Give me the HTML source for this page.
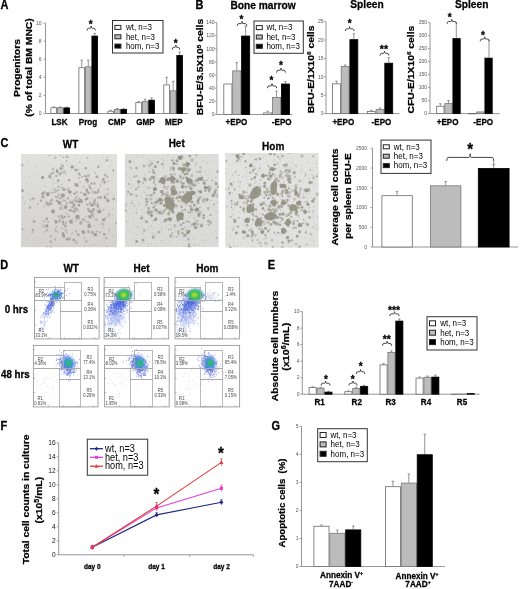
<!DOCTYPE html>
<html><head><meta charset="utf-8"><title>Figure</title>
<style>
html,body{margin:0;padding:0;background:#fff;}
body{width:520px;height:589px;overflow:hidden;}
svg{display:block;filter:blur(0.3px);}
text{font-family:"Liberation Sans",Arial,sans-serif;}
</style></head>
<body>
<svg width="520" height="589" viewBox="0 0 520 589">
<defs><filter id="fb8" x="-50%" y="-50%" width="200%" height="200%"><feGaussianBlur stdDeviation="0.8"/></filter><filter id="fb10" x="-50%" y="-50%" width="200%" height="200%"><feGaussianBlur stdDeviation="1"/></filter><filter id="fb15" x="-50%" y="-50%" width="200%" height="200%"><feGaussianBlur stdDeviation="1.5"/></filter><filter id="fb20" x="-50%" y="-50%" width="200%" height="200%"><feGaussianBlur stdDeviation="2"/></filter><filter id="soft" x="-20%" y="-20%" width="140%" height="140%"><feGaussianBlur stdDeviation="0.45"/></filter></defs>
<rect width="520" height="589" fill="#fff"/>
<text x="0.5" y="9" font-size="11" font-weight="bold" stroke="#000" stroke-width="0.25" text-anchor="start" fill="#000" transform="translate(0.5 9) scale(1 1.11) translate(-0.5 -9)">A</text>
<line x1="45.5" y1="23.0" x2="45.5" y2="113.5" stroke="#8a8a8a" stroke-width="0.9"/>
<line x1="45.5" y1="113.5" x2="188" y2="113.5" stroke="#8a8a8a" stroke-width="0.9"/>
<line x1="43.5" y1="113.5" x2="45.5" y2="113.5" stroke="#8a8a8a" stroke-width="0.8"/>
<text x="41.5" y="115.3" font-size="5" text-anchor="end" fill="#555" transform="translate(41.5 115.3) scale(1 1.11) translate(-41.5 -115.3)">0</text>
<line x1="43.5" y1="95.4" x2="45.5" y2="95.4" stroke="#8a8a8a" stroke-width="0.8"/>
<text x="41.5" y="97.2" font-size="5" text-anchor="end" fill="#555" transform="translate(41.5 97.2) scale(1 1.11) translate(-41.5 -97.2)">2</text>
<line x1="43.5" y1="77.3" x2="45.5" y2="77.3" stroke="#8a8a8a" stroke-width="0.8"/>
<text x="41.5" y="79.1" font-size="5" text-anchor="end" fill="#555" transform="translate(41.5 79.1) scale(1 1.11) translate(-41.5 -79.1)">4</text>
<line x1="43.5" y1="59.199999999999996" x2="45.5" y2="59.199999999999996" stroke="#8a8a8a" stroke-width="0.8"/>
<text x="41.5" y="60.99999999999999" font-size="5" text-anchor="end" fill="#555" transform="translate(41.5 60.99999999999999) scale(1 1.11) translate(-41.5 -60.99999999999999)">6</text>
<line x1="43.5" y1="41.099999999999994" x2="45.5" y2="41.099999999999994" stroke="#8a8a8a" stroke-width="0.8"/>
<text x="41.5" y="42.89999999999999" font-size="5" text-anchor="end" fill="#555" transform="translate(41.5 42.89999999999999) scale(1 1.11) translate(-41.5 -42.89999999999999)">8</text>
<line x1="43.5" y1="23.0" x2="45.5" y2="23.0" stroke="#8a8a8a" stroke-width="0.8"/>
<text x="41.5" y="24.8" font-size="5" text-anchor="end" fill="#555" transform="translate(41.5 24.8) scale(1 1.11) translate(-41.5 -24.8)">10</text>
<line x1="53.75" y1="107.346" x2="53.75" y2="106.8935" stroke="#777" stroke-width="0.8"/>
<line x1="52.55" y1="106.8935" x2="54.95" y2="106.8935" stroke="#777" stroke-width="0.8"/>
<rect x="50.9" y="107.74600000000001" width="5.7" height="5.7540000000000004" fill="#ffffff" stroke="#6a6a6a" stroke-width="0.8"/>
<line x1="60.25" y1="107.346" x2="60.25" y2="106.8935" stroke="#777" stroke-width="0.8"/>
<line x1="59.05" y1="106.8935" x2="61.45" y2="106.8935" stroke="#777" stroke-width="0.8"/>
<rect x="57.4" y="107.74600000000001" width="5.7" height="5.7540000000000004" fill="#bcbcbc" stroke="#777" stroke-width="0.8"/>
<line x1="66.75" y1="107.527" x2="66.75" y2="107.165" stroke="#777" stroke-width="0.8"/>
<line x1="65.55" y1="107.165" x2="67.95" y2="107.165" stroke="#777" stroke-width="0.8"/>
<rect x="63.9" y="107.927" width="5.7" height="5.573" fill="#000000" stroke="#000" stroke-width="0.8"/>
<line x1="81.75" y1="67.345" x2="81.75" y2="60.105" stroke="#777" stroke-width="0.8"/>
<line x1="80.55" y1="60.105" x2="82.95" y2="60.105" stroke="#777" stroke-width="0.8"/>
<rect x="78.9" y="67.745" width="5.7" height="45.755" fill="#ffffff" stroke="#6a6a6a" stroke-width="0.8"/>
<line x1="88.25" y1="66.44" x2="88.25" y2="60.105" stroke="#777" stroke-width="0.8"/>
<line x1="87.05" y1="60.105" x2="89.45" y2="60.105" stroke="#777" stroke-width="0.8"/>
<rect x="85.4" y="66.84" width="5.7" height="46.660000000000004" fill="#bcbcbc" stroke="#777" stroke-width="0.8"/>
<line x1="94.75" y1="35.67" x2="94.75" y2="33.4075" stroke="#777" stroke-width="0.8"/>
<line x1="93.55" y1="33.4075" x2="95.95" y2="33.4075" stroke="#777" stroke-width="0.8"/>
<rect x="91.9" y="36.07" width="5.7" height="77.42999999999999" fill="#000000" stroke="#000" stroke-width="0.8"/>
<line x1="110.75" y1="110.785" x2="110.75" y2="110.3325" stroke="#777" stroke-width="0.8"/>
<line x1="109.55" y1="110.3325" x2="111.95" y2="110.3325" stroke="#777" stroke-width="0.8"/>
<rect x="107.9" y="111.185" width="5.7" height="2.3150000000000004" fill="#ffffff" stroke="#6a6a6a" stroke-width="0.8"/>
<line x1="117.25" y1="108.975" x2="117.25" y2="108.5225" stroke="#777" stroke-width="0.8"/>
<line x1="116.05" y1="108.5225" x2="118.45" y2="108.5225" stroke="#777" stroke-width="0.8"/>
<rect x="114.4" y="109.375" width="5.7" height="4.125" fill="#bcbcbc" stroke="#777" stroke-width="0.8"/>
<line x1="123.75" y1="108.975" x2="123.75" y2="108.70349999999999" stroke="#777" stroke-width="0.8"/>
<line x1="122.55" y1="108.70349999999999" x2="124.95" y2="108.70349999999999" stroke="#777" stroke-width="0.8"/>
<rect x="120.9" y="109.375" width="5.7" height="4.125" fill="#000000" stroke="#000" stroke-width="0.8"/>
<line x1="138.65" y1="102.27799999999999" x2="138.65" y2="101.55399999999999" stroke="#777" stroke-width="0.8"/>
<line x1="137.45000000000002" y1="101.55399999999999" x2="139.85" y2="101.55399999999999" stroke="#777" stroke-width="0.8"/>
<rect x="135.8" y="102.678" width="5.7" height="10.822000000000001" fill="#ffffff" stroke="#6a6a6a" stroke-width="0.8"/>
<line x1="145.15" y1="101.192" x2="145.15" y2="99.38199999999999" stroke="#777" stroke-width="0.8"/>
<line x1="143.95000000000002" y1="99.38199999999999" x2="146.35" y2="99.38199999999999" stroke="#777" stroke-width="0.8"/>
<rect x="142.3" y="101.592" width="5.7" height="11.908000000000001" fill="#bcbcbc" stroke="#777" stroke-width="0.8"/>
<line x1="151.65" y1="99.744" x2="151.65" y2="97.934" stroke="#777" stroke-width="0.8"/>
<line x1="150.45000000000002" y1="97.934" x2="152.85" y2="97.934" stroke="#777" stroke-width="0.8"/>
<rect x="148.8" y="100.144" width="5.7" height="13.356000000000002" fill="#000000" stroke="#000" stroke-width="0.8"/>
<line x1="166.65" y1="84.53999999999999" x2="166.65" y2="77.3" stroke="#777" stroke-width="0.8"/>
<line x1="165.45000000000002" y1="77.3" x2="167.85" y2="77.3" stroke="#777" stroke-width="0.8"/>
<rect x="163.8" y="84.94" width="5.7" height="28.560000000000006" fill="#ffffff" stroke="#6a6a6a" stroke-width="0.8"/>
<line x1="173.15" y1="90.4225" x2="173.15" y2="81.3725" stroke="#777" stroke-width="0.8"/>
<line x1="171.95000000000002" y1="81.3725" x2="174.35" y2="81.3725" stroke="#777" stroke-width="0.8"/>
<rect x="170.3" y="90.8225" width="5.7" height="22.677500000000002" fill="#bcbcbc" stroke="#777" stroke-width="0.8"/>
<line x1="179.65" y1="55.12749999999999" x2="179.65" y2="51.959999999999994" stroke="#777" stroke-width="0.8"/>
<line x1="178.45000000000002" y1="51.959999999999994" x2="180.85" y2="51.959999999999994" stroke="#777" stroke-width="0.8"/>
<rect x="176.8" y="55.52749999999999" width="5.7" height="57.97250000000001" fill="#000000" stroke="#000" stroke-width="0.8"/>
<path d="M87.1,30.5 Q87.1,28.2 88.7,28.2 L90.2,28.2 Q91.2,28.2 91.2,26.0 Q91.2,28.2 92.2,28.2 L93.7,28.2 Q95.3,28.2 95.3,30.5" fill="none" stroke="#3a3a3a" stroke-width="0.95"/>
<text x="90.6" y="28.5" font-size="10" font-weight="bold" stroke="#000" stroke-width="0.25" text-anchor="middle" fill="#000" transform="translate(90.6 28.5) scale(1 1.11) translate(-90.6 -28.5)">*</text>
<path d="M172.2,49.6 Q172.2,47.3 173.8,47.3 L174.9,47.3 Q175.9,47.3 175.9,45.1 Q175.9,47.3 176.9,47.3 L178.1,47.3 Q179.7,47.3 179.7,49.6" fill="none" stroke="#3a3a3a" stroke-width="0.95"/>
<text x="175.8" y="47.2" font-size="10" font-weight="bold" stroke="#000" stroke-width="0.25" text-anchor="middle" fill="#000" transform="translate(175.8 47.2) scale(1 1.11) translate(-175.8 -47.2)">*</text>
<text x="59.5" y="125" font-size="8.1" font-weight="bold" stroke="#000" stroke-width="0.25" text-anchor="middle" fill="#000" transform="translate(59.5 125) scale(1 1.11) translate(-59.5 -125)">LSK</text>
<text x="88" y="125" font-size="8.1" font-weight="bold" stroke="#000" stroke-width="0.25" text-anchor="middle" fill="#000" transform="translate(88 125) scale(1 1.11) translate(-88 -125)">Prog</text>
<text x="117" y="125" font-size="8.1" font-weight="bold" stroke="#000" stroke-width="0.25" text-anchor="middle" fill="#000" transform="translate(117 125) scale(1 1.11) translate(-117 -125)">CMP</text>
<text x="145.5" y="125" font-size="8.1" font-weight="bold" stroke="#000" stroke-width="0.25" text-anchor="middle" fill="#000" transform="translate(145.5 125) scale(1 1.11) translate(-145.5 -125)">GMP</text>
<text x="173.8" y="125" font-size="8.1" font-weight="bold" stroke="#000" stroke-width="0.25" text-anchor="middle" fill="#000" transform="translate(173.8 125) scale(1 1.11) translate(-173.8 -125)">MEP</text>
<text x="20" y="68" font-size="10.3" font-weight="bold" stroke="#000" stroke-width="0.25" text-anchor="middle" fill="#000" transform="translate(20 68) scale(0.9009 1) rotate(-90) translate(-20 -68)">Progenitors</text>
<text x="31.9" y="67.5" font-size="10.3" font-weight="bold" stroke="#000" stroke-width="0.25" text-anchor="middle" fill="#000" transform="translate(31.9 67.5) scale(0.9009 1) rotate(-90) translate(-31.9 -67.5)">(% of total BM MNC)</text>
<rect x="112.5" y="20.5" width="50.5" height="32.5" fill="#fff" stroke="#333" stroke-width="1"/>
<rect x="114.9" y="25.4" width="6" height="4" fill="#fff" stroke="#222" stroke-width="1"/>
<text x="125.9" y="30.279999999999998" font-size="8" text-anchor="start" fill="#000" transform="translate(125.9 30.279999999999998) scale(1 1.11) translate(-125.9 -30.279999999999998)">wt, n=3</text>
<rect x="114.9" y="34.8" width="6" height="4" fill="#bcbcbc" stroke="#222" stroke-width="1"/>
<text x="125.9" y="39.68" font-size="8" text-anchor="start" fill="#000" transform="translate(125.9 39.68) scale(1 1.11) translate(-125.9 -39.68)">het, n=3</text>
<rect x="114.9" y="44.1" width="6" height="4" fill="#000" stroke="#222" stroke-width="1"/>
<text x="125.9" y="48.980000000000004" font-size="8" text-anchor="start" fill="#000" transform="translate(125.9 48.980000000000004) scale(1 1.11) translate(-125.9 -48.980000000000004)">hom, n=3</text>
<text x="195.5" y="9" font-size="11" font-weight="bold" stroke="#000" stroke-width="0.25" text-anchor="start" fill="#000" transform="translate(195.5 9) scale(1 1.11) translate(-195.5 -9)">B</text>
<text x="230.5" y="9" font-size="10.2" font-weight="bold" stroke="#000" stroke-width="0.25" text-anchor="start" fill="#000" transform="translate(230.5 9) scale(1 1.11) translate(-230.5 -9)">Bone marrow</text>
<text x="350.3" y="8" font-size="10.2" font-weight="bold" stroke="#000" stroke-width="0.25" text-anchor="start" fill="#000" transform="translate(350.3 8) scale(1 1.11) translate(-350.3 -8)">Spleen</text>
<text x="455" y="8" font-size="10.2" font-weight="bold" stroke="#000" stroke-width="0.25" text-anchor="start" fill="#000" transform="translate(455 8) scale(1 1.11) translate(-455 -8)">Spleen</text>
<line x1="216.8" y1="22.5" x2="216.8" y2="114.5" stroke="#8a8a8a" stroke-width="0.9"/>
<line x1="216.8" y1="114.5" x2="292.4" y2="114.5" stroke="#8a8a8a" stroke-width="0.9"/>
<line x1="214.8" y1="114.5" x2="216.8" y2="114.5" stroke="#8a8a8a" stroke-width="0.8"/>
<text x="214.5" y="116.3" font-size="5" text-anchor="end" fill="#555" transform="translate(214.5 116.3) scale(1 1.11) translate(-214.5 -116.3)">0</text>
<line x1="214.8" y1="101.35714285714286" x2="216.8" y2="101.35714285714286" stroke="#8a8a8a" stroke-width="0.8"/>
<text x="214.5" y="103.15714285714286" font-size="5" text-anchor="end" fill="#555" transform="translate(214.5 103.15714285714286) scale(1 1.11) translate(-214.5 -103.15714285714286)">20</text>
<line x1="214.8" y1="88.21428571428572" x2="216.8" y2="88.21428571428572" stroke="#8a8a8a" stroke-width="0.8"/>
<text x="214.5" y="90.01428571428572" font-size="5" text-anchor="end" fill="#555" transform="translate(214.5 90.01428571428572) scale(1 1.11) translate(-214.5 -90.01428571428572)">40</text>
<line x1="214.8" y1="75.07142857142857" x2="216.8" y2="75.07142857142857" stroke="#8a8a8a" stroke-width="0.8"/>
<text x="214.5" y="76.87142857142857" font-size="5" text-anchor="end" fill="#555" transform="translate(214.5 76.87142857142857) scale(1 1.11) translate(-214.5 -76.87142857142857)">60</text>
<line x1="214.8" y1="61.92857142857143" x2="216.8" y2="61.92857142857143" stroke="#8a8a8a" stroke-width="0.8"/>
<text x="214.5" y="63.72857142857143" font-size="5" text-anchor="end" fill="#555" transform="translate(214.5 63.72857142857143) scale(1 1.11) translate(-214.5 -63.72857142857143)">80</text>
<line x1="214.8" y1="48.78571428571429" x2="216.8" y2="48.78571428571429" stroke="#8a8a8a" stroke-width="0.8"/>
<text x="214.5" y="50.58571428571429" font-size="5" text-anchor="end" fill="#555" transform="translate(214.5 50.58571428571429) scale(1 1.11) translate(-214.5 -50.58571428571429)">100</text>
<line x1="214.8" y1="35.64285714285714" x2="216.8" y2="35.64285714285714" stroke="#8a8a8a" stroke-width="0.8"/>
<text x="214.5" y="37.442857142857136" font-size="5" text-anchor="end" fill="#555" transform="translate(214.5 37.442857142857136) scale(1 1.11) translate(-214.5 -37.442857142857136)">120</text>
<line x1="214.8" y1="22.5" x2="216.8" y2="22.5" stroke="#8a8a8a" stroke-width="0.8"/>
<text x="214.5" y="24.3" font-size="5" text-anchor="end" fill="#555" transform="translate(214.5 24.3) scale(1 1.11) translate(-214.5 -24.3)">140</text>
<rect x="223.8" y="84.01428571428572" width="8.1" height="30.485714285714288" fill="#ffffff" stroke="#6a6a6a" stroke-width="0.8"/>
<line x1="236.75" y1="70.47142857142858" x2="236.75" y2="62.58571428571429" stroke="#777" stroke-width="0.8"/>
<line x1="235.55" y1="62.58571428571429" x2="237.95" y2="62.58571428571429" stroke="#777" stroke-width="0.8"/>
<rect x="232.70000000000002" y="70.87142857142858" width="8.1" height="43.628571428571426" fill="#bcbcbc" stroke="#777" stroke-width="0.8"/>
<line x1="245.65" y1="35.64285714285714" x2="245.65" y2="26.44285714285714" stroke="#777" stroke-width="0.8"/>
<line x1="244.45000000000002" y1="26.44285714285714" x2="246.85" y2="26.44285714285714" stroke="#777" stroke-width="0.8"/>
<rect x="241.60000000000002" y="36.04285714285714" width="8.1" height="78.45714285714286" fill="#000000" stroke="#000" stroke-width="0.8"/>
<line x1="267.65" y1="112.52857142857142" x2="267.65" y2="111.21428571428571" stroke="#777" stroke-width="0.8"/>
<line x1="266.45" y1="111.21428571428571" x2="268.84999999999997" y2="111.21428571428571" stroke="#777" stroke-width="0.8"/>
<rect x="263.59999999999997" y="112.92857142857143" width="8.1" height="1.5714285714285716" fill="#ffffff" stroke="#6a6a6a" stroke-width="0.8"/>
<line x1="276.54999999999995" y1="97.08571428571429" x2="276.54999999999995" y2="91.17142857142858" stroke="#777" stroke-width="0.8"/>
<line x1="275.34999999999997" y1="91.17142857142858" x2="277.74999999999994" y2="91.17142857142858" stroke="#777" stroke-width="0.8"/>
<rect x="272.49999999999994" y="97.4857142857143" width="8.1" height="17.014285714285716" fill="#bcbcbc" stroke="#777" stroke-width="0.8"/>
<line x1="285.45" y1="83.61428571428571" x2="285.45" y2="81.64285714285714" stroke="#777" stroke-width="0.8"/>
<line x1="284.25" y1="81.64285714285714" x2="286.65" y2="81.64285714285714" stroke="#777" stroke-width="0.8"/>
<rect x="281.4" y="84.01428571428572" width="8.1" height="30.485714285714288" fill="#000000" stroke="#000" stroke-width="0.8"/>
<path d="M237.2,25.9 Q237.2,23.6 238.8,23.6 L241.0,23.6 Q242.0,23.6 242.0,21.4 Q242.0,23.6 243.0,23.6 L245.2,23.6 Q246.8,23.6 246.8,25.9" fill="none" stroke="#3a3a3a" stroke-width="0.95"/>
<text x="241.4" y="22.6" font-size="10" font-weight="bold" stroke="#000" stroke-width="0.25" text-anchor="middle" fill="#000" transform="translate(241.4 22.6) scale(1 1.11) translate(-241.4 -22.6)">*</text>
<path d="M267.4,88.2 Q267.4,85.9 269.0,85.9 L271.0,85.9 Q272.0,85.9 272.0,83.7 Q272.0,85.9 273.0,85.9 L275.0,85.9 Q276.6,85.9 276.6,88.2" fill="none" stroke="#3a3a3a" stroke-width="0.95"/>
<text x="271.5" y="84.4" font-size="10" font-weight="bold" stroke="#000" stroke-width="0.25" text-anchor="middle" fill="#000" transform="translate(271.5 84.4) scale(1 1.11) translate(-271.5 -84.4)">*</text>
<path d="M276.6,72.6 Q276.6,70.3 278.2,70.3 L280.0,70.3 Q281.0,70.3 281.0,68.1 Q281.0,70.3 282.0,70.3 L283.8,70.3 Q285.4,70.3 285.4,72.6" fill="none" stroke="#3a3a3a" stroke-width="0.95"/>
<text x="281" y="69.0" font-size="10" font-weight="bold" stroke="#000" stroke-width="0.25" text-anchor="middle" fill="#000" transform="translate(281 69.0) scale(1 1.11) translate(-281 -69.0)">*</text>
<text x="236.5" y="125.5" font-size="8.1" font-weight="bold" stroke="#000" stroke-width="0.25" text-anchor="middle" fill="#000" transform="translate(236.5 125.5) scale(1 1.11) translate(-236.5 -125.5)">+EPO</text>
<text x="281.7" y="125.5" font-size="8.1" font-weight="bold" stroke="#000" stroke-width="0.25" text-anchor="middle" fill="#000" transform="translate(281.7 125.5) scale(1 1.11) translate(-281.7 -125.5)">-EPO</text>
<text x="203.3" y="67" font-size="10.3" font-weight="bold" stroke="#000" stroke-width="0.25" text-anchor="middle" fill="#000" transform="translate(203.3 67) scale(0.9009 1) rotate(-90) translate(-203.3 -67)">BFU-E/3.5X10<tspan dy="-3" font-size="6.5">5</tspan><tspan dy="3"> cells</tspan></text>
<rect x="254.0" y="21.0" width="49.3" height="32.3" fill="#fff" stroke="#333" stroke-width="1"/>
<rect x="256.3" y="25.6" width="6" height="4" fill="#fff" stroke="#222" stroke-width="1"/>
<text x="266.4" y="30.48" font-size="8" text-anchor="start" fill="#000" transform="translate(266.4 30.48) scale(1 1.11) translate(-266.4 -30.48)">wt, n=3</text>
<rect x="256.3" y="35.0" width="6" height="4" fill="#bcbcbc" stroke="#222" stroke-width="1"/>
<text x="266.4" y="39.88" font-size="8" text-anchor="start" fill="#000" transform="translate(266.4 39.88) scale(1 1.11) translate(-266.4 -39.88)">het, n=3</text>
<rect x="256.3" y="44.3" width="6" height="4" fill="#000" stroke="#222" stroke-width="1"/>
<text x="266.4" y="49.18" font-size="8" text-anchor="start" fill="#000" transform="translate(266.4 49.18) scale(1 1.11) translate(-266.4 -49.18)">hom, n=3</text>
<line x1="326" y1="21.599999999999994" x2="326" y2="113.6" stroke="#8a8a8a" stroke-width="0.9"/>
<line x1="326" y1="113.6" x2="399.6" y2="113.6" stroke="#8a8a8a" stroke-width="0.9"/>
<line x1="324" y1="113.6" x2="326" y2="113.6" stroke="#8a8a8a" stroke-width="0.8"/>
<text x="323.5" y="115.39999999999999" font-size="5" text-anchor="end" fill="#555" transform="translate(323.5 115.39999999999999) scale(1 1.11) translate(-323.5 -115.39999999999999)">0</text>
<line x1="324" y1="95.19999999999999" x2="326" y2="95.19999999999999" stroke="#8a8a8a" stroke-width="0.8"/>
<text x="323.5" y="96.99999999999999" font-size="5" text-anchor="end" fill="#555" transform="translate(323.5 96.99999999999999) scale(1 1.11) translate(-323.5 -96.99999999999999)">5</text>
<line x1="324" y1="76.79999999999998" x2="326" y2="76.79999999999998" stroke="#8a8a8a" stroke-width="0.8"/>
<text x="323.5" y="78.59999999999998" font-size="5" text-anchor="end" fill="#555" transform="translate(323.5 78.59999999999998) scale(1 1.11) translate(-323.5 -78.59999999999998)">10</text>
<line x1="324" y1="58.39999999999999" x2="326" y2="58.39999999999999" stroke="#8a8a8a" stroke-width="0.8"/>
<text x="323.5" y="60.19999999999999" font-size="5" text-anchor="end" fill="#555" transform="translate(323.5 60.19999999999999) scale(1 1.11) translate(-323.5 -60.19999999999999)">15</text>
<line x1="324" y1="39.999999999999986" x2="326" y2="39.999999999999986" stroke="#8a8a8a" stroke-width="0.8"/>
<text x="323.5" y="41.79999999999998" font-size="5" text-anchor="end" fill="#555" transform="translate(323.5 41.79999999999998) scale(1 1.11) translate(-323.5 -41.79999999999998)">20</text>
<line x1="324" y1="21.599999999999994" x2="326" y2="21.599999999999994" stroke="#8a8a8a" stroke-width="0.8"/>
<text x="323.5" y="23.399999999999995" font-size="5" text-anchor="end" fill="#555" transform="translate(323.5 23.399999999999995) scale(1 1.11) translate(-323.5 -23.399999999999995)">25</text>
<line x1="336.45000000000005" y1="83.42399999999999" x2="336.45000000000005" y2="81.216" stroke="#777" stroke-width="0.8"/>
<line x1="335.25000000000006" y1="81.216" x2="337.65000000000003" y2="81.216" stroke="#777" stroke-width="0.8"/>
<rect x="332.5" y="83.824" width="7.8999999999999995" height="29.776" fill="#ffffff" stroke="#6a6a6a" stroke-width="0.8"/>
<line x1="345.15000000000003" y1="66.12799999999999" x2="345.15000000000003" y2="65.02399999999999" stroke="#777" stroke-width="0.8"/>
<line x1="343.95000000000005" y1="65.02399999999999" x2="346.35" y2="65.02399999999999" stroke="#777" stroke-width="0.8"/>
<rect x="341.2" y="66.52799999999999" width="7.8999999999999995" height="47.072" fill="#bcbcbc" stroke="#777" stroke-width="0.8"/>
<line x1="353.85" y1="39.263999999999996" x2="353.85" y2="33.74399999999999" stroke="#777" stroke-width="0.8"/>
<line x1="352.65000000000003" y1="33.74399999999999" x2="355.05" y2="33.74399999999999" stroke="#777" stroke-width="0.8"/>
<rect x="349.9" y="39.663999999999994" width="7.8999999999999995" height="73.93599999999999" fill="#000000" stroke="#000" stroke-width="0.8"/>
<line x1="371.35" y1="111.024" x2="371.35" y2="110.288" stroke="#777" stroke-width="0.8"/>
<line x1="370.15000000000003" y1="110.288" x2="372.55" y2="110.288" stroke="#777" stroke-width="0.8"/>
<rect x="367.4" y="111.424" width="7.8999999999999995" height="2.176" fill="#ffffff" stroke="#6a6a6a" stroke-width="0.8"/>
<line x1="380.05" y1="109.184" x2="380.05" y2="108.08" stroke="#777" stroke-width="0.8"/>
<line x1="378.85" y1="108.08" x2="381.25" y2="108.08" stroke="#777" stroke-width="0.8"/>
<rect x="376.09999999999997" y="109.584" width="7.8999999999999995" height="4.016" fill="#bcbcbc" stroke="#777" stroke-width="0.8"/>
<line x1="388.75" y1="62.81599999999999" x2="388.75" y2="57.66399999999999" stroke="#777" stroke-width="0.8"/>
<line x1="387.55" y1="57.66399999999999" x2="389.95" y2="57.66399999999999" stroke="#777" stroke-width="0.8"/>
<rect x="384.79999999999995" y="63.21599999999999" width="7.8999999999999995" height="50.38400000000001" fill="#000000" stroke="#000" stroke-width="0.8"/>
<path d="M345.3,31.1 Q345.3,28.8 346.9,28.8 L348.6,28.8 Q349.6,28.8 349.6,26.6 Q349.6,28.8 350.6,28.8 L352.4,28.8 Q354.0,28.8 354.0,31.1" fill="none" stroke="#3a3a3a" stroke-width="0.95"/>
<text x="349.7" y="27.4" font-size="10" font-weight="bold" stroke="#000" stroke-width="0.25" text-anchor="middle" fill="#000" transform="translate(349.7 27.4) scale(1 1.11) translate(-349.7 -27.4)">*</text>
<path d="M380.1,55.6 Q380.1,53.3 381.7,53.3 L383.5,53.3 Q384.5,53.3 384.5,51.1 Q384.5,53.3 385.5,53.3 L387.2,53.3 Q388.8,53.3 388.8,55.6" fill="none" stroke="#3a3a3a" stroke-width="0.95"/>
<text x="383.9" y="53.16" font-size="10.6" font-weight="bold" stroke="#000" stroke-width="0.25" text-anchor="middle" fill="#000" transform="translate(383.9 53.16) scale(1 1.11) translate(-383.9 -53.16)">**</text>
<text x="343.3" y="125.5" font-size="8.1" font-weight="bold" stroke="#000" stroke-width="0.25" text-anchor="middle" fill="#000" transform="translate(343.3 125.5) scale(1 1.11) translate(-343.3 -125.5)">+EPO</text>
<text x="381.5" y="125.5" font-size="8.1" font-weight="bold" stroke="#000" stroke-width="0.25" text-anchor="middle" fill="#000" transform="translate(381.5 125.5) scale(1 1.11) translate(-381.5 -125.5)">-EPO</text>
<text x="314" y="69.5" font-size="10.3" font-weight="bold" stroke="#000" stroke-width="0.25" text-anchor="middle" fill="#000" transform="translate(314 69.5) scale(0.9009 1) rotate(-90) translate(-314 -69.5)">BFU-E/1X10<tspan dy="-3" font-size="6.5">6</tspan><tspan dy="3"> cells</tspan></text>
<line x1="430" y1="22.599999999999994" x2="430" y2="113.6" stroke="#8a8a8a" stroke-width="0.9"/>
<line x1="430" y1="113.6" x2="499.7" y2="113.6" stroke="#8a8a8a" stroke-width="0.9"/>
<line x1="428" y1="113.6" x2="430" y2="113.6" stroke="#8a8a8a" stroke-width="0.8"/>
<text x="427" y="115.39999999999999" font-size="5" text-anchor="end" fill="#555" transform="translate(427 115.39999999999999) scale(1 1.11) translate(-427 -115.39999999999999)">0</text>
<line x1="428" y1="100.6" x2="430" y2="100.6" stroke="#8a8a8a" stroke-width="0.8"/>
<text x="427" y="102.39999999999999" font-size="5" text-anchor="end" fill="#555" transform="translate(427 102.39999999999999) scale(1 1.11) translate(-427 -102.39999999999999)">50</text>
<line x1="428" y1="87.6" x2="430" y2="87.6" stroke="#8a8a8a" stroke-width="0.8"/>
<text x="427" y="89.39999999999999" font-size="5" text-anchor="end" fill="#555" transform="translate(427 89.39999999999999) scale(1 1.11) translate(-427 -89.39999999999999)">100</text>
<line x1="428" y1="74.6" x2="430" y2="74.6" stroke="#8a8a8a" stroke-width="0.8"/>
<text x="427" y="76.39999999999999" font-size="5" text-anchor="end" fill="#555" transform="translate(427 76.39999999999999) scale(1 1.11) translate(-427 -76.39999999999999)">150</text>
<line x1="428" y1="61.599999999999994" x2="430" y2="61.599999999999994" stroke="#8a8a8a" stroke-width="0.8"/>
<text x="427" y="63.39999999999999" font-size="5" text-anchor="end" fill="#555" transform="translate(427 63.39999999999999) scale(1 1.11) translate(-427 -63.39999999999999)">200</text>
<line x1="428" y1="48.599999999999994" x2="430" y2="48.599999999999994" stroke="#8a8a8a" stroke-width="0.8"/>
<text x="427" y="50.39999999999999" font-size="5" text-anchor="end" fill="#555" transform="translate(427 50.39999999999999) scale(1 1.11) translate(-427 -50.39999999999999)">250</text>
<line x1="428" y1="35.599999999999994" x2="430" y2="35.599999999999994" stroke="#8a8a8a" stroke-width="0.8"/>
<text x="427" y="37.39999999999999" font-size="5" text-anchor="end" fill="#555" transform="translate(427 37.39999999999999) scale(1 1.11) translate(-427 -37.39999999999999)">300</text>
<line x1="428" y1="22.599999999999994" x2="430" y2="22.599999999999994" stroke="#8a8a8a" stroke-width="0.8"/>
<text x="427" y="24.399999999999995" font-size="5" text-anchor="end" fill="#555" transform="translate(427 24.399999999999995) scale(1 1.11) translate(-427 -24.399999999999995)">350</text>
<line x1="440.35" y1="105.8" x2="440.35" y2="103.72" stroke="#777" stroke-width="0.8"/>
<line x1="439.15000000000003" y1="103.72" x2="441.55" y2="103.72" stroke="#777" stroke-width="0.8"/>
<rect x="436.7" y="106.2" width="7.3" height="7.4" fill="#ffffff" stroke="#6a6a6a" stroke-width="0.8"/>
<line x1="448.45000000000005" y1="103.19999999999999" x2="448.45000000000005" y2="100.6" stroke="#777" stroke-width="0.8"/>
<line x1="447.25000000000006" y1="100.6" x2="449.65000000000003" y2="100.6" stroke="#777" stroke-width="0.8"/>
<rect x="444.8" y="103.6" width="7.3" height="10.0" fill="#bcbcbc" stroke="#777" stroke-width="0.8"/>
<rect x="452.9" y="38.59999999999999" width="7.3" height="75.0" fill="#000000" stroke="#000" stroke-width="0.8"/>
<rect x="468.7" y="113.48" width="7.3" height="0.3" fill="#ffffff" stroke="#6a6a6a" stroke-width="0.8"/>
<rect x="476.8" y="111.92" width="7.3" height="1.6800000000000002" fill="#bcbcbc" stroke="#777" stroke-width="0.8"/>
<rect x="484.9" y="58.099999999999994" width="7.3" height="55.5" fill="#000000" stroke="#000" stroke-width="0.8"/>
<line x1="456.3" y1="38.2" x2="456.3" y2="22" stroke="#777" stroke-width="0.8"/>
<line x1="489.0" y1="57.7" x2="489.0" y2="40" stroke="#777" stroke-width="0.8"/>
<path d="M447.1,23.8 Q447.1,21.5 448.7,21.5 L450.8,21.5 Q451.8,21.5 451.8,19.3 Q451.8,21.5 452.8,21.5 L454.8,21.5 Q456.4,21.5 456.4,23.8" fill="none" stroke="#3a3a3a" stroke-width="0.95"/>
<text x="449.7" y="20.9" font-size="10" font-weight="bold" stroke="#000" stroke-width="0.25" text-anchor="middle" fill="#000" transform="translate(449.7 20.9) scale(1 1.11) translate(-449.7 -20.9)">*</text>
<path d="M480.2,41.3 Q480.2,39.0 481.8,39.0 L483.7,39.0 Q484.7,39.0 484.7,36.8 Q484.7,39.0 485.7,39.0 L487.6,39.0 Q489.2,39.0 489.2,41.3" fill="none" stroke="#3a3a3a" stroke-width="0.95"/>
<text x="482.9" y="39.0" font-size="10" font-weight="bold" stroke="#000" stroke-width="0.25" text-anchor="middle" fill="#000" transform="translate(482.9 39.0) scale(1 1.11) translate(-482.9 -39.0)">*</text>
<text x="447.6" y="125.5" font-size="8.1" font-weight="bold" stroke="#000" stroke-width="0.25" text-anchor="middle" fill="#000" transform="translate(447.6 125.5) scale(1 1.11) translate(-447.6 -125.5)">+EPO</text>
<text x="483.2" y="125.5" font-size="8.1" font-weight="bold" stroke="#000" stroke-width="0.25" text-anchor="middle" fill="#000" transform="translate(483.2 125.5) scale(1 1.11) translate(-483.2 -125.5)">-EPO</text>
<text x="414" y="69.6" font-size="10.3" font-weight="bold" stroke="#000" stroke-width="0.25" text-anchor="middle" fill="#000" transform="translate(414 69.6) scale(0.9009 1) rotate(-90) translate(-414 -69.6)">CFU-E/1X10<tspan dy="-3" font-size="6.5">6</tspan><tspan dy="3"> cells</tspan></text>
<text x="0.5" y="147" font-size="11" font-weight="bold" stroke="#000" stroke-width="0.25" text-anchor="start" fill="#000" transform="translate(0.5 147) scale(1 1.11) translate(-0.5 -147)">C</text>
<text x="70.6" y="148" font-size="10" font-weight="bold" stroke="#000" stroke-width="0.25" text-anchor="middle" fill="#000" transform="translate(70.6 148) scale(1 1.11) translate(-70.6 -148)">WT</text>
<text x="176.7" y="147.5" font-size="10" font-weight="bold" stroke="#000" stroke-width="0.25" text-anchor="middle" fill="#000" transform="translate(176.7 147.5) scale(1 1.11) translate(-176.7 -147.5)">Het</text>
<text x="273.2" y="149.7" font-size="10" font-weight="bold" stroke="#000" stroke-width="0.25" text-anchor="middle" fill="#000" transform="translate(273.2 149.7) scale(1 1.11) translate(-273.2 -149.7)">Hom</text>
<clipPath id="clip1"><rect x="21" y="154" width="96" height="93.4"/></clipPath>
<linearGradient id="bg1" x1="0" y1="0" x2="0" y2="1"><stop offset="0" stop-color="#e1e1de"/><stop offset="1" stop-color="#d3d2ce"/></linearGradient>
<filter id="bl1" x="-10%" y="-10%" width="120%" height="120%"><feGaussianBlur stdDeviation="0.55"/></filter>
<g clip-path="url(#clip1)">
<rect x="21" y="154" width="96" height="93.4" fill="url(#bg1)" stroke="none" stroke-width="1"/>
<g fill="#9c9c93" filter="url(#bl1)">
<path d="M106.2 238.2h0M98.1 207.2h0M96.3 219.7h0M57.3 197.2h0" stroke="#9c9c93" stroke-width="2.7" stroke-linecap="round" opacity="0.5"/>
<path d="M46.7 202.8h0M79.0 205.2h0M22.8 191.0h0" stroke="#9c9c93" stroke-width="2.5" stroke-linecap="round" opacity="0.7"/>
<path d="M79.0 205.3h0M72.7 207.0h0M44.3 192.5h0M60.2 198.1h0M67.8 198.4h0" stroke="#9c9c93" stroke-width="2.9" stroke-linecap="round" opacity="0.6"/>
<path d="M74.1 200.4h0M58.3 186.8h0M88.0 181.8h0M46.7 204.5h0" stroke="#9c9c93" stroke-width="2.1" stroke-linecap="round" opacity="0.7"/>
<path d="M107.5 156.9h0M117.0 200.9h0" stroke="#9c9c93" stroke-width="1.3" stroke-linecap="round" opacity="0.6"/>
<path d="M96.7 192.9h0M75.9 220.0h0M82.5 219.0h0M62.8 209.0h0M58.5 201.2h0M79.8 162.4h0" stroke="#9c9c93" stroke-width="1.6" stroke-linecap="round" opacity="0.6"/>
<path d="M91.4 205.2h0M73.0 201.8h0M80.0 174.8h0" stroke="#9c9c93" stroke-width="2.1" stroke-linecap="round" opacity="0.6"/>
<path d="M64.0 189.5h0" stroke="#9c9c93" stroke-width="3.2" stroke-linecap="round" opacity="0.8"/>
<path d="M90.3 217.5h0M105.0 198.1h0M60.6 208.0h0M58.1 180.4h0M74.4 193.8h0M87.3 191.5h0M61.7 215.9h0M91.5 183.5h0" stroke="#9c9c93" stroke-width="2.6" stroke-linecap="round" opacity="0.7"/>
<path d="M98.1 191.8h0M88.6 231.7h0M113.7 199.0h0M97.7 205.3h0M30.0 207.6h0M85.8 168.2h0" stroke="#9c9c93" stroke-width="2.9" stroke-linecap="round" opacity="0.7"/>
<path d="M63.1 233.4h0M70.5 210.3h0M46.7 218.8h0M103.4 179.3h0" stroke="#9c9c93" stroke-width="3.0" stroke-linecap="round" opacity="0.8"/>
<path d="M40.7 200.9h0M52.9 184.0h0M113.0 236.4h0M91.6 198.2h0M63.4 173.0h0M67.6 164.6h0" stroke="#9c9c93" stroke-width="1.3" stroke-linecap="round" opacity="0.5"/>
<path d="M81.6 177.3h0M68.7 209.9h0M24.2 204.1h0M94.1 244.9h0M96.9 210.6h0M109.5 228.8h0" stroke="#9c9c93" stroke-width="1.5" stroke-linecap="round" opacity="0.6"/>
<path d="M63.1 166.2h0M90.7 188.8h0M65.2 200.8h0M62.0 205.4h0M72.1 219.3h0" stroke="#9c9c93" stroke-width="1.9" stroke-linecap="round" opacity="0.6"/>
<path d="M30.7 199.7h0M76.1 231.1h0M54.6 192.5h0M116.0 223.4h0M45.0 231.8h0" stroke="#9c9c93" stroke-width="2.2" stroke-linecap="round" opacity="0.5"/>
<path d="M67.9 202.4h0M100.6 211.3h0" stroke="#9c9c93" stroke-width="1.3" stroke-linecap="round" opacity="0.7"/>
<path d="M107.3 198.5h0M100.5 185.8h0" stroke="#9c9c93" stroke-width="2.0" stroke-linecap="round" opacity="0.4"/>
<path d="M95.0 204.4h0M50.3 177.5h0M22.0 190.2h0" stroke="#9c9c93" stroke-width="2.9" stroke-linecap="round" opacity="0.5"/>
<path d="M76.5 196.9h0M108.3 181.5h0M67.2 232.5h0M65.3 226.8h0M55.8 196.6h0" stroke="#9c9c93" stroke-width="1.7" stroke-linecap="round" opacity="0.6"/>
<path d="M76.6 201.3h0M87.2 198.6h0M73.8 239.9h0M81.7 201.7h0M104.4 234.4h0M63.0 221.9h0M43.2 197.0h0M60.8 168.5h0M104.7 182.3h0" stroke="#9c9c93" stroke-width="2.8" stroke-linecap="round" opacity="0.8"/>
<path d="M105.0 175.1h0M98.1 197.6h0M94.5 183.4h0M59.1 216.6h0" stroke="#9c9c93" stroke-width="2.8" stroke-linecap="round" opacity="0.6"/>
<path d="M49.6 192.1h0M61.1 155.6h0M82.6 176.7h0M55.6 229.0h0" stroke="#9c9c93" stroke-width="1.3" stroke-linecap="round" opacity="0.8"/>
<path d="M58.9 194.9h0M55.1 239.0h0" stroke="#9c9c93" stroke-width="2.2" stroke-linecap="round" opacity="0.6"/>
<path d="M59.7 220.0h0M22.3 165.2h0" stroke="#9c9c93" stroke-width="2.3" stroke-linecap="round" opacity="0.7"/>
<path d="M87.4 158.0h0M98.6 212.7h0M66.5 160.9h0M89.3 203.7h0M50.6 200.8h0" stroke="#9c9c93" stroke-width="1.7" stroke-linecap="round" opacity="0.8"/>
<path d="M69.2 192.8h0" stroke="#9c9c93" stroke-width="1.2" stroke-linecap="round" opacity="0.4"/>
<path d="M74.7 183.1h0M109.3 230.5h0M71.0 195.4h0M54.2 220.2h0" stroke="#9c9c93" stroke-width="1.4" stroke-linecap="round" opacity="0.7"/>
<path d="M83.8 219.4h0M94.9 235.0h0M33.1 198.5h0M78.9 173.6h0" stroke="#9c9c93" stroke-width="2.6" stroke-linecap="round" opacity="0.6"/>
<path d="M61.6 227.5h0" stroke="#9c9c93" stroke-width="1.2" stroke-linecap="round" opacity="0.5"/>
<path d="M59.8 209.7h0M76.2 243.2h0" stroke="#9c9c93" stroke-width="1.4" stroke-linecap="round" opacity="0.8"/>
<path d="M56.9 200.9h0M94.2 202.5h0M77.3 209.8h0M69.1 180.2h0M63.6 224.3h0" stroke="#9c9c93" stroke-width="2.4" stroke-linecap="round" opacity="0.8"/>
<path d="M78.7 202.6h0M22.9 198.2h0M56.6 226.6h0M33.3 199.0h0M77.6 233.9h0M77.7 199.7h0M49.5 155.4h0M57.8 231.9h0" stroke="#9c9c93" stroke-width="1.5" stroke-linecap="round" opacity="0.7"/>
<path d="M97.6 202.3h0M85.9 199.7h0" stroke="#9c9c93" stroke-width="1.6" stroke-linecap="round" opacity="0.7"/>
<path d="M48.1 222.1h0M98.7 189.5h0M105.6 218.1h0M89.3 222.8h0M79.0 202.1h0" stroke="#9c9c93" stroke-width="1.8" stroke-linecap="round" opacity="0.7"/>
<path d="M93.6 209.6h0M96.9 176.8h0M73.9 211.1h0M67.1 239.3h0M42.6 193.5h0" stroke="#9c9c93" stroke-width="3.1" stroke-linecap="round" opacity="0.8"/>
<path d="M50.8 241.7h0M47.1 230.1h0M86.5 241.5h0" stroke="#9c9c93" stroke-width="2.7" stroke-linecap="round" opacity="0.6"/>
<path d="M74.0 205.3h0M50.9 247.1h0M92.2 191.9h0M43.0 226.0h0M61.6 172.3h0M65.8 230.6h0M68.0 188.7h0" stroke="#9c9c93" stroke-width="3.0" stroke-linecap="round" opacity="0.4"/>
<path d="M75.7 170.0h0M86.7 190.0h0" stroke="#9c9c93" stroke-width="2.9" stroke-linecap="round" opacity="0.8"/>
<path d="M65.5 173.4h0M77.9 169.7h0M37.9 203.7h0" stroke="#9c9c93" stroke-width="2.0" stroke-linecap="round" opacity="0.5"/>
<path d="M84.3 238.0h0M90.2 202.4h0M103.8 209.7h0" stroke="#9c9c93" stroke-width="2.1" stroke-linecap="round" opacity="0.4"/>
<path d="M103.3 224.6h0" stroke="#9c9c93" stroke-width="1.8" stroke-linecap="round" opacity="0.6"/>
<path d="M80.8 223.2h0M92.5 232.4h0M70.7 202.3h0" stroke="#9c9c93" stroke-width="3.2" stroke-linecap="round" opacity="0.7"/>
<path d="M64.8 216.7h0" stroke="#9c9c93" stroke-width="2.5" stroke-linecap="round" opacity="0.8"/>
<path d="M94.9 192.5h0M100.7 197.4h0M48.7 204.1h0M89.5 216.5h0" stroke="#9c9c93" stroke-width="3.0" stroke-linecap="round" opacity="0.7"/>
<path d="M43.5 221.8h0M94.9 225.8h0M100.1 200.1h0M53.4 179.4h0M113.0 194.9h0M81.3 202.0h0M88.3 221.6h0" stroke="#9c9c93" stroke-width="1.4" stroke-linecap="round" opacity="0.4"/>
<path d="M88.7 192.8h0M88.2 209.2h0" stroke="#9c9c93" stroke-width="2.7" stroke-linecap="round" opacity="0.7"/>
<path d="M87.0 181.9h0M106.9 246.6h0M108.1 215.9h0" stroke="#9c9c93" stroke-width="1.9" stroke-linecap="round" opacity="0.5"/>
<path d="M96.7 231.4h0M99.6 232.2h0M51.1 236.2h0" stroke="#9c9c93" stroke-width="1.9" stroke-linecap="round" opacity="0.7"/>
<path d="M78.9 178.1h0M42.3 196.4h0" stroke="#9c9c93" stroke-width="2.3" stroke-linecap="round" opacity="0.5"/>
<path d="M91.2 211.7h0M78.4 234.8h0M84.1 232.7h0" stroke="#9c9c93" stroke-width="3.0" stroke-linecap="round" opacity="0.6"/>
<path d="M75.9 198.5h0M53.3 212.9h0M77.6 186.2h0" stroke="#9c9c93" stroke-width="2.5" stroke-linecap="round" opacity="0.4"/>
<path d="M103.4 223.4h0M68.3 237.6h0M103.1 156.1h0M103.0 233.6h0M39.8 223.4h0" stroke="#9c9c93" stroke-width="1.3" stroke-linecap="round" opacity="0.4"/>
<path d="M94.8 199.7h0M86.2 198.8h0M68.8 216.4h0M54.5 189.5h0M113.2 170.4h0" stroke="#9c9c93" stroke-width="2.4" stroke-linecap="round" opacity="0.6"/>
<path d="M72.2 233.2h0M61.4 184.4h0M44.4 221.2h0" stroke="#9c9c93" stroke-width="1.8" stroke-linecap="round" opacity="0.5"/>
<path d="M91.7 211.9h0M88.3 175.7h0" stroke="#9c9c93" stroke-width="3.2" stroke-linecap="round" opacity="0.6"/>
<path d="M53.3 172.7h0M52.1 199.9h0" stroke="#9c9c93" stroke-width="3.1" stroke-linecap="round" opacity="0.5"/>
<path d="M66.2 222.9h0M79.4 198.6h0" stroke="#9c9c93" stroke-width="1.8" stroke-linecap="round" opacity="0.8"/>
<path d="M44.4 186.0h0M56.0 215.9h0M78.0 195.8h0M91.4 215.2h0" stroke="#9c9c93" stroke-width="1.7" stroke-linecap="round" opacity="0.4"/>
<path d="M74.4 211.7h0M58.3 181.3h0M58.7 189.9h0M102.4 180.9h0" stroke="#9c9c93" stroke-width="2.3" stroke-linecap="round" opacity="0.4"/>
<path d="M76.8 192.4h0" stroke="#9c9c93" stroke-width="3.1" stroke-linecap="round" opacity="0.4"/>
<path d="M99.9 183.9h0M86.3 216.8h0" stroke="#9c9c93" stroke-width="1.4" stroke-linecap="round" opacity="0.6"/>
<path d="M101.7 223.7h0M81.8 221.6h0" stroke="#9c9c93" stroke-width="2.6" stroke-linecap="round" opacity="0.4"/>
<path d="M65.6 212.8h0M49.7 202.8h0" stroke="#9c9c93" stroke-width="1.5" stroke-linecap="round" opacity="0.5"/>
<path d="M86.0 179.9h0M69.3 192.4h0M22.6 229.3h0" stroke="#9c9c93" stroke-width="2.0" stroke-linecap="round" opacity="0.7"/>
<path d="M74.3 205.0h0M104.8 196.3h0M85.5 199.8h0" stroke="#9c9c93" stroke-width="2.3" stroke-linecap="round" opacity="0.6"/>
<path d="M90.0 187.5h0M62.5 217.9h0M75.4 208.5h0M89.4 211.0h0M51.2 203.8h0" stroke="#9c9c93" stroke-width="2.6" stroke-linecap="round" opacity="0.8"/>
<path d="M107.0 160.2h0" stroke="#9c9c93" stroke-width="3.1" stroke-linecap="round" opacity="0.6"/>
<path d="M53.1 169.3h0" stroke="#9c9c93" stroke-width="2.1" stroke-linecap="round" opacity="0.8"/>
<path d="M85.3 221.1h0M95.2 173.0h0M47.2 247.0h0M80.1 182.3h0" stroke="#9c9c93" stroke-width="1.5" stroke-linecap="round" opacity="0.8"/>
<path d="M89.4 216.1h0M63.5 157.3h0M83.9 186.9h0M67.4 214.0h0" stroke="#9c9c93" stroke-width="1.7" stroke-linecap="round" opacity="0.7"/>
<path d="M105.0 196.8h0M94.6 201.0h0" stroke="#9c9c93" stroke-width="2.2" stroke-linecap="round" opacity="0.8"/>
<path d="M65.5 225.8h0M98.3 166.9h0M69.4 238.8h0" stroke="#9c9c93" stroke-width="2.8" stroke-linecap="round" opacity="0.7"/>
<path d="M87.0 179.9h0" stroke="#9c9c93" stroke-width="2.7" stroke-linecap="round" opacity="0.8"/>
<path d="M72.7 203.6h0M107.6 189.3h0M109.3 214.1h0" stroke="#9c9c93" stroke-width="2.0" stroke-linecap="round" opacity="0.6"/>
<path d="M32.9 229.9h0" stroke="#9c9c93" stroke-width="2.4" stroke-linecap="round" opacity="0.7"/>
<path d="M107.3 177.1h0M66.5 203.6h0" stroke="#9c9c93" stroke-width="2.2" stroke-linecap="round" opacity="0.7"/>
<path d="M51.0 174.1h0M63.8 196.1h0M62.2 165.6h0" stroke="#9c9c93" stroke-width="2.5" stroke-linecap="round" opacity="0.6"/>
<path d="M49.6 176.3h0M59.9 174.0h0M92.3 215.3h0M34.1 221.6h0" stroke="#9c9c93" stroke-width="3.1" stroke-linecap="round" opacity="0.7"/>
<path d="M78.4 218.5h0" stroke="#9c9c93" stroke-width="3.0" stroke-linecap="round" opacity="0.5"/>
<path d="M89.0 185.4h0M56.0 231.0h0" stroke="#9c9c93" stroke-width="1.6" stroke-linecap="round" opacity="0.8"/>
<path d="M76.4 241.7h0M64.6 171.2h0M62.0 187.8h0" stroke="#9c9c93" stroke-width="2.6" stroke-linecap="round" opacity="0.5"/>
<path d="M93.7 217.6h0M87.3 222.1h0M55.6 230.5h0M62.9 168.3h0" stroke="#9c9c93" stroke-width="2.2" stroke-linecap="round" opacity="0.4"/>
<path d="M107.6 194.3h0M84.9 176.0h0M73.8 203.9h0" stroke="#9c9c93" stroke-width="1.9" stroke-linecap="round" opacity="0.8"/>
<path d="M102.3 227.9h0M55.2 196.4h0M49.0 206.3h0" stroke="#9c9c93" stroke-width="1.4" stroke-linecap="round" opacity="0.5"/>
<path d="M85.9 176.8h0" stroke="#9c9c93" stroke-width="2.4" stroke-linecap="round" opacity="0.5"/>
<path d="M32.4 232.3h0" stroke="#9c9c93" stroke-width="2.7" stroke-linecap="round" opacity="0.4"/>
<path d="M55.3 157.4h0" stroke="#9c9c93" stroke-width="2.5" stroke-linecap="round" opacity="0.5"/>
<path d="M63.2 200.3h0" stroke="#9c9c93" stroke-width="2.8" stroke-linecap="round" opacity="0.4"/>
<path d="M104.6 198.1h0" stroke="#9c9c93" stroke-width="1.5" stroke-linecap="round" opacity="0.4"/>
<path d="M67.1 156.7h0M56.6 191.0h0" stroke="#9c9c93" stroke-width="3.2" stroke-linecap="round" opacity="0.5"/>
<path d="M40.8 200.7h0M56.3 176.1h0" stroke="#9c9c93" stroke-width="2.3" stroke-linecap="round" opacity="0.8"/>
<path d="M52.1 192.4h0M81.2 192.6h0M83.2 230.9h0M87.4 204.7h0" stroke="#9c9c93" stroke-width="2.0" stroke-linecap="round" opacity="0.8"/>
<path d="M59.3 221.6h0" stroke="#9c9c93" stroke-width="2.9" stroke-linecap="round" opacity="0.4"/>
<path d="M68.1 190.9h0" stroke="#9c9c93" stroke-width="1.7" stroke-linecap="round" opacity="0.5"/>
<path d="M62.4 228.7h0M44.0 206.5h0" stroke="#9c9c93" stroke-width="1.9" stroke-linecap="round" opacity="0.4"/>
<path d="M44.8 226.8h0M75.4 158.5h0M25.3 202.4h0M59.0 190.3h0M68.6 180.0h0M45.9 180.1h0M75.3 155.3h0M113.0 175.1h0M98.0 204.2h0M73.1 220.9h0M89.3 161.7h0M35.7 216.3h0M72.7 160.9h0M102.6 167.0h0M97.9 212.1h0M81.8 177.0h0M43.1 157.5h0M68.4 216.5h0M38.9 155.5h0M72.7 240.3h0M30.0 217.3h0M102.3 231.9h0M112.9 209.6h0M115.2 226.6h0M53.7 158.8h0M101.1 170.5h0M46.7 186.9h0M74.4 247.1h0M60.9 247.3h0M24.3 188.6h0M90.7 178.5h0M30.5 221.4h0M91.8 182.1h0M81.4 203.1h0M114.4 172.4h0M32.8 178.9h0M21.9 245.7h0M36.8 237.9h0M21.9 225.4h0M40.2 195.4h0M66.5 156.2h0M103.8 159.1h0M55.2 227.3h0M45.6 204.5h0M50.6 236.0h0M41.0 161.6h0M85.5 230.7h0M114.4 229.7h0M111.3 192.1h0M92.4 236.1h0M68.8 217.1h0M62.2 232.6h0M82.3 164.7h0M56.8 175.5h0M78.3 202.0h0M33.5 240.2h0M91.2 233.6h0M52.9 155.8h0M60.0 155.5h0M69.5 162.7h0M42.0 170.5h0M35.0 231.8h0M26.6 162.3h0M97.2 216.1h0M24.1 177.5h0M58.1 193.8h0M108.4 210.5h0M82.9 168.2h0M28.7 211.2h0M32.6 242.6h0M113.6 173.6h0M59.7 187.6h0M21.7 163.1h0M40.7 225.3h0M84.0 210.2h0M88.9 240.8h0M51.3 198.9h0M74.7 166.7h0M37.5 167.3h0M44.3 222.2h0" stroke="#9c9c93" stroke-width="0.8" stroke-linecap="round" opacity="0.35"/>
<path d="M74.8 213.9h0M23.0 234.3h0M33.8 206.5h0M55.6 240.7h0M45.5 186.6h0M76.5 205.7h0M84.5 246.2h0M92.9 170.7h0M49.0 202.0h0M41.0 197.3h0M80.1 224.5h0M80.4 158.9h0M99.9 164.5h0M43.4 192.3h0M94.8 193.3h0M102.3 189.9h0M103.0 241.7h0M101.8 214.3h0M74.0 239.0h0M104.0 227.5h0M71.8 163.4h0M21.3 169.0h0M35.2 164.1h0M104.2 193.3h0M44.7 227.8h0M29.0 220.2h0M99.9 161.0h0M33.8 195.3h0M97.7 157.5h0M96.0 187.7h0M68.1 188.7h0M38.4 217.9h0M84.8 242.9h0M100.4 208.4h0M76.3 234.1h0M79.0 169.4h0M93.7 227.0h0M106.6 175.7h0M41.1 198.5h0M87.8 212.5h0M50.4 155.4h0M33.3 218.5h0M93.0 213.8h0M42.6 220.6h0M41.2 168.2h0M89.4 218.2h0M116.2 194.8h0M104.9 201.9h0M49.1 205.2h0M114.5 240.6h0M42.0 216.8h0M26.3 157.3h0M74.7 197.8h0M49.4 205.4h0M106.3 171.1h0M88.3 157.3h0M43.2 223.8h0M42.1 180.7h0M100.9 199.7h0M44.0 226.2h0M106.0 203.7h0M93.5 188.6h0M56.0 183.5h0M70.1 188.6h0M89.3 168.0h0M55.2 183.4h0M103.2 182.9h0M35.8 187.0h0M51.3 218.0h0M113.4 201.4h0M42.4 201.3h0M34.5 175.3h0M78.6 234.6h0M66.6 201.9h0M39.8 229.1h0M95.2 156.0h0M55.8 158.6h0M107.5 233.7h0M85.3 183.1h0M106.5 207.5h0M53.4 233.5h0M27.0 215.5h0M22.8 170.8h0M42.7 178.5h0M104.5 242.9h0M48.9 164.8h0M110.0 174.3h0M94.7 221.2h0M87.9 172.0h0" stroke="#9c9c93" stroke-width="1.0" stroke-linecap="round" opacity="0.35"/>
<path d="M47.7 192.8h0M95.0 213.4h0M98.1 205.7h0M95.9 212.1h0M92.6 189.7h0M34.2 209.8h0M89.1 186.5h0M36.4 166.4h0M69.4 191.1h0M41.4 242.5h0M109.6 166.5h0M76.5 221.7h0M32.6 172.8h0M57.3 199.0h0M85.5 240.1h0M67.9 190.8h0M39.9 187.6h0M25.1 200.8h0M59.0 246.8h0M22.7 182.5h0M51.5 168.0h0M76.3 164.6h0M53.3 188.4h0M67.6 213.2h0M63.8 200.7h0M55.6 167.6h0M116.6 233.6h0M56.4 220.4h0M73.8 207.6h0M60.7 165.8h0M53.6 181.7h0M61.1 169.3h0M24.9 209.0h0M77.4 245.0h0M53.2 244.0h0M55.0 240.5h0M71.3 170.2h0M111.7 160.9h0M112.7 208.3h0M110.3 215.6h0M28.1 193.2h0M70.4 200.2h0M75.1 205.4h0M103.1 210.0h0M85.9 203.0h0M94.4 191.0h0M45.9 183.0h0M79.3 175.7h0M88.3 171.1h0M49.2 193.3h0M79.4 211.7h0M111.1 164.4h0M104.5 223.9h0M106.2 176.3h0M26.6 183.3h0M26.5 159.0h0M32.1 243.0h0M71.6 235.4h0M52.3 187.4h0M104.3 189.7h0M37.1 206.9h0M109.0 232.9h0M72.3 246.0h0M112.7 214.7h0M103.4 227.0h0M98.8 189.0h0M114.8 236.7h0M101.4 182.4h0M43.2 181.1h0M76.0 201.6h0M103.8 195.0h0M28.9 176.2h0M104.3 162.1h0M76.2 232.3h0M70.1 216.0h0M112.3 181.5h0M76.3 210.8h0M59.1 202.8h0M35.4 198.9h0M28.6 160.6h0M69.7 207.2h0" stroke="#9c9c93" stroke-width="1.2" stroke-linecap="round" opacity="0.35"/>
<path d="M49.8,194.4C49.8,194.8 49.8,195.4 49.5,195.7C49.2,195.9 48.6,195.9 48.1,196.0C47.6,196.1 47.0,196.4 46.6,196.2C46.2,196.1 46.0,195.5 45.8,195.0C45.7,194.6 45.7,194.2 45.8,193.8C46.0,193.3 46.2,192.8 46.6,192.5C47.0,192.3 47.8,192.1 48.2,192.2C48.7,192.3 49.2,192.8 49.4,193.2C49.7,193.5 49.8,194.0 49.8,194.4Z" opacity="0.92"/>
<path d="M64.8,195.5C64.7,196.0 64.4,196.4 64.1,196.8C63.8,197.1 63.4,197.8 63.0,197.8C62.6,197.9 62.0,197.5 61.6,197.2C61.3,196.9 60.9,196.5 60.8,196.2C60.7,195.8 60.8,195.3 60.9,194.9C61.0,194.4 61.2,193.8 61.5,193.6C61.8,193.4 62.5,193.4 63.0,193.4C63.5,193.5 64.1,193.6 64.4,194.0C64.7,194.3 64.8,195.0 64.8,195.5Z" opacity="0.92"/>
<path d="M78.2,184.9C78.2,185.4 78.3,186.0 78.0,186.3C77.8,186.5 77.0,186.5 76.6,186.5C76.2,186.5 75.9,186.4 75.5,186.2C75.1,186.1 74.2,186.0 74.1,185.6C74.0,185.3 74.6,184.8 74.8,184.4C75.0,184.0 75.1,183.6 75.4,183.4C75.7,183.2 76.2,183.2 76.6,183.2C77.1,183.2 77.7,183.3 78.0,183.6C78.3,183.8 78.2,184.4 78.2,184.9Z" opacity="0.92"/>
<path d="M79.8,216.6C79.8,217.0 79.5,217.6 79.1,217.9C78.8,218.3 78.3,218.6 77.8,218.7C77.3,218.8 76.5,218.9 76.1,218.7C75.6,218.5 75.3,217.8 75.1,217.3C75.0,216.9 75.1,216.3 75.3,215.9C75.5,215.5 76.0,215.3 76.4,215.1C76.8,214.9 77.3,214.8 77.7,214.8C78.2,214.9 78.7,215.0 79.1,215.3C79.4,215.6 79.8,216.2 79.8,216.6Z" opacity="0.92"/>
<path d="M73.0,222.0C73.0,222.4 72.7,222.9 72.5,223.2C72.2,223.4 71.7,223.6 71.3,223.6C70.9,223.7 70.4,223.6 70.1,223.4C69.8,223.3 69.6,222.9 69.4,222.6C69.1,222.2 68.7,221.6 68.8,221.2C68.9,220.8 69.4,220.3 69.9,220.1C70.3,219.9 70.9,219.9 71.4,220.0C71.8,220.2 72.1,220.6 72.4,220.9C72.7,221.2 73.0,221.6 73.0,222.0Z" opacity="0.92"/>
<path d="M55.3,211.3C55.3,211.7 54.9,212.2 54.6,212.5C54.2,212.9 53.8,213.2 53.4,213.2C52.9,213.3 52.4,213.1 52.1,212.9C51.7,212.6 51.2,212.3 51.0,212.0C50.9,211.6 50.9,211.0 51.0,210.6C51.2,210.3 51.7,210.0 52.1,209.7C52.4,209.5 53.0,209.0 53.4,209.1C53.8,209.2 54.1,209.8 54.4,210.2C54.7,210.6 55.2,210.9 55.3,211.3Z" opacity="0.92"/>
<path d="M61.4,202.9C61.4,203.3 61.2,203.8 60.9,204.2C60.7,204.5 60.2,204.9 59.8,205.0C59.4,205.0 58.9,204.6 58.5,204.4C58.2,204.1 57.9,203.9 57.7,203.5C57.6,203.1 57.4,202.6 57.5,202.2C57.6,201.8 58.1,201.4 58.5,201.3C58.8,201.2 59.2,201.3 59.7,201.3C60.1,201.4 60.8,201.3 61.0,201.5C61.3,201.8 61.4,202.5 61.4,202.9Z" opacity="0.92"/>
<path d="M86.7,194.4C86.7,194.8 86.6,195.3 86.3,195.6C86.1,195.9 85.5,196.1 85.1,196.1C84.7,196.1 84.3,196.0 83.9,195.8C83.6,195.6 83.4,195.2 83.3,194.9C83.2,194.6 83.2,194.2 83.3,193.9C83.4,193.5 83.5,192.9 83.8,192.8C84.1,192.6 84.7,192.8 85.1,192.9C85.5,193.0 86.0,193.0 86.2,193.3C86.5,193.5 86.7,194.0 86.7,194.4Z" opacity="0.92"/>
<path d="M101.5,211.3C101.6,211.7 101.4,212.2 101.1,212.5C100.8,212.8 100.4,213.1 100.0,213.2C99.5,213.3 99.0,213.1 98.6,213.0C98.2,212.8 97.6,212.4 97.4,212.1C97.3,211.7 97.5,211.0 97.7,210.6C97.9,210.3 98.3,209.9 98.6,209.7C99.0,209.5 99.5,209.6 99.9,209.7C100.3,209.7 100.7,209.9 101.0,210.2C101.3,210.5 101.5,210.9 101.5,211.3Z" opacity="0.92"/>
<path d="M91.2,226.0C91.2,226.5 91.0,227.2 90.7,227.4C90.4,227.7 89.8,227.6 89.3,227.7C88.8,227.8 88.2,228.2 87.9,228.0C87.6,227.8 87.6,226.9 87.5,226.5C87.5,226.1 87.5,225.9 87.5,225.5C87.6,225.1 87.6,224.5 87.9,224.2C88.3,223.9 89.0,223.6 89.4,223.7C89.8,223.8 90.2,224.3 90.5,224.7C90.8,225.1 91.1,225.5 91.2,226.0Z" opacity="0.92"/>
<path d="M105.5,219.8C105.5,220.1 105.3,220.6 105.0,220.8C104.8,221.1 104.4,221.3 104.1,221.4C103.7,221.5 103.1,221.6 102.8,221.5C102.5,221.3 102.4,220.7 102.3,220.4C102.1,220.0 101.9,219.5 102.0,219.1C102.1,218.8 102.7,218.6 103.0,218.5C103.4,218.3 103.8,218.1 104.1,218.2C104.4,218.2 104.8,218.5 105.0,218.8C105.3,219.0 105.5,219.5 105.5,219.8Z" opacity="0.92"/>
<path d="M67.4,207.0C67.4,207.4 67.4,207.8 67.2,208.1C67.0,208.5 66.6,209.0 66.2,209.1C65.8,209.2 65.0,209.1 64.7,208.9C64.3,208.6 64.0,208.1 63.9,207.7C63.7,207.2 63.5,206.6 63.7,206.3C63.8,205.9 64.4,205.6 64.8,205.4C65.2,205.2 65.7,205.2 66.1,205.3C66.5,205.4 67.0,205.6 67.2,205.9C67.4,206.2 67.4,206.6 67.4,207.0Z" opacity="0.92"/>
<path d="M82.1,200.8C82.1,201.2 82.0,201.5 81.8,201.8C81.6,202.2 81.3,202.7 81.0,202.8C80.6,203.0 79.9,202.9 79.5,202.7C79.1,202.5 78.7,202.0 78.6,201.5C78.5,201.1 78.6,200.5 78.8,200.1C79.0,199.8 79.5,199.7 79.8,199.4C80.2,199.2 80.6,198.8 80.9,198.8C81.3,198.9 81.8,199.3 82.0,199.7C82.2,200.0 82.2,200.4 82.1,200.8Z" opacity="0.92"/>
<path d="M44.1,177.5C44.1,177.9 44.2,178.5 44.0,178.8C43.8,179.0 43.2,179.1 42.8,179.1C42.4,179.2 41.8,179.3 41.5,179.2C41.3,179.0 41.1,178.4 41.1,178.0C41.0,177.7 41.0,177.3 41.1,177.0C41.2,176.6 41.3,176.1 41.6,176.0C41.9,175.8 42.4,176.0 42.8,176.1C43.1,176.1 43.6,176.1 43.8,176.4C44.1,176.6 44.1,177.1 44.1,177.5Z" opacity="0.92"/>
<path d="M88.7,179.6C88.8,179.9 88.4,180.3 88.2,180.7C87.9,181.0 87.6,181.5 87.2,181.6C86.9,181.6 86.4,181.2 86.1,181.0C85.8,180.7 85.7,180.4 85.6,180.1C85.5,179.8 85.4,179.4 85.5,179.1C85.6,178.8 85.9,178.5 86.2,178.3C86.4,178.2 86.8,178.1 87.1,178.2C87.5,178.3 87.7,178.4 88.0,178.7C88.3,178.9 88.7,179.3 88.7,179.6Z" opacity="0.92"/>
<path d="M73.6,166.9C73.6,167.3 73.8,167.9 73.6,168.2C73.4,168.4 72.8,168.4 72.4,168.5C72.0,168.5 71.6,168.6 71.2,168.4C70.9,168.2 70.4,167.9 70.3,167.6C70.2,167.2 70.5,166.7 70.7,166.4C70.9,166.0 71.0,165.6 71.3,165.5C71.5,165.3 72.0,165.2 72.4,165.3C72.8,165.3 73.3,165.5 73.5,165.7C73.7,166.0 73.6,166.5 73.6,166.9Z" opacity="0.92"/>
<path d="M58.8,171.2C58.8,171.5 58.8,172.0 58.6,172.3C58.4,172.6 58.0,172.9 57.6,173.0C57.2,173.1 56.6,173.1 56.4,172.8C56.1,172.6 56.1,172.0 56.0,171.7C55.9,171.3 55.7,171.0 55.8,170.6C55.8,170.3 56.1,169.8 56.4,169.6C56.7,169.4 57.3,169.2 57.6,169.3C58.0,169.4 58.1,170.1 58.3,170.4C58.5,170.7 58.7,170.9 58.8,171.2Z" opacity="0.92"/>
<path d="M48.3,226.2C48.3,226.6 48.3,227.1 48.1,227.4C47.9,227.6 47.3,227.5 46.9,227.6C46.6,227.6 46.1,227.8 45.9,227.6C45.6,227.5 45.5,227.0 45.4,226.7C45.3,226.3 45.1,226.0 45.2,225.6C45.2,225.3 45.5,224.9 45.8,224.6C46.1,224.4 46.6,224.2 47.0,224.2C47.5,224.3 48.0,224.6 48.2,224.9C48.4,225.2 48.3,225.8 48.3,226.2Z" opacity="0.92"/>
<path d="M65.2,235.7C65.3,236.1 65.4,236.7 65.3,237.0C65.1,237.3 64.5,237.7 64.1,237.8C63.6,237.8 63.0,237.7 62.7,237.5C62.4,237.2 62.4,236.7 62.2,236.2C62.1,235.8 61.6,235.3 61.7,235.0C61.8,234.7 62.5,234.5 62.9,234.3C63.3,234.1 63.7,233.7 64.0,233.8C64.3,233.9 64.5,234.5 64.7,234.8C64.9,235.1 65.1,235.3 65.2,235.7Z" opacity="0.92"/>
<path d="M97.2,234.6C97.3,235.0 97.3,235.7 97.0,235.9C96.7,236.2 96.1,236.1 95.7,236.2C95.3,236.2 94.8,236.4 94.4,236.3C94.1,236.1 93.9,235.6 93.7,235.2C93.5,234.8 93.3,234.2 93.5,233.9C93.7,233.6 94.3,233.5 94.6,233.3C95.0,233.1 95.4,232.6 95.7,232.7C96.1,232.7 96.4,233.3 96.6,233.6C96.9,233.9 97.2,234.2 97.2,234.6Z" opacity="0.92"/>
<path d="M109.4,200.8C109.4,201.2 109.6,201.8 109.4,202.0C109.2,202.2 108.6,202.1 108.2,202.1C107.9,202.1 107.6,202.0 107.4,201.9C107.1,201.8 106.8,201.6 106.6,201.3C106.4,201.0 106.2,200.5 106.3,200.2C106.4,199.8 106.7,199.2 107.0,199.1C107.4,199.0 107.8,199.4 108.2,199.5C108.6,199.6 109.2,199.4 109.4,199.6C109.6,199.9 109.4,200.4 109.4,200.8Z" opacity="0.92"/>
<path d="M72.0,192.0C72.0,192.3 71.4,192.7 71.1,193.0C70.9,193.2 70.6,193.5 70.3,193.6C70.0,193.7 69.5,193.6 69.2,193.4C68.9,193.2 68.7,192.9 68.5,192.5C68.3,192.2 68.0,191.7 68.1,191.3C68.2,190.9 68.6,190.4 69.0,190.2C69.3,190.0 69.9,190.2 70.3,190.3C70.7,190.4 70.9,190.7 71.2,191.0C71.5,191.3 72.0,191.7 72.0,192.0Z" opacity="0.92"/>
<path d="M94.1,205.0C94.0,205.3 93.4,205.7 93.1,206.0C92.8,206.2 92.6,206.4 92.3,206.4C91.9,206.5 91.5,206.6 91.1,206.5C90.8,206.4 90.1,206.0 90.0,205.7C90.0,205.4 90.4,204.9 90.6,204.5C90.8,204.1 90.9,203.7 91.2,203.5C91.4,203.3 91.9,203.2 92.3,203.3C92.7,203.3 93.0,203.6 93.3,203.9C93.6,204.2 94.1,204.7 94.1,205.0Z" opacity="0.92"/>
<path d="M57.9,222.0C57.8,222.4 57.5,222.8 57.3,223.1C57.0,223.4 56.7,223.7 56.3,223.7C55.9,223.8 55.4,223.7 55.1,223.5C54.8,223.3 54.5,222.9 54.4,222.6C54.4,222.3 54.7,221.9 54.8,221.6C54.9,221.2 54.9,220.6 55.1,220.4C55.3,220.3 55.9,220.5 56.2,220.6C56.6,220.7 57.1,220.6 57.3,220.9C57.6,221.1 57.9,221.6 57.9,222.0Z" opacity="0.92"/>
<path d="M84.7,232.0C84.7,232.3 84.2,232.5 84.0,232.8C83.8,233.1 83.6,233.6 83.3,233.7C83.0,233.7 82.6,233.4 82.3,233.2C82.0,233.0 81.7,232.8 81.5,232.5C81.3,232.2 81.0,231.6 81.2,231.3C81.3,231.0 81.9,231.0 82.3,230.8C82.7,230.6 83.0,230.2 83.3,230.3C83.6,230.3 83.9,230.8 84.1,231.1C84.3,231.4 84.7,231.7 84.7,232.0Z" opacity="0.92"/>
</g></g>
<clipPath id="clip2"><rect x="124.6" y="153.8" width="94.2" height="93.5"/></clipPath>
<linearGradient id="bg2" x1="0" y1="0" x2="0" y2="1"><stop offset="0" stop-color="#dddedb"/><stop offset="1" stop-color="#dadbd8"/></linearGradient>
<filter id="bl2" x="-10%" y="-10%" width="120%" height="120%"><feGaussianBlur stdDeviation="0.55"/></filter>
<g clip-path="url(#clip2)">
<rect x="124.6" y="153.8" width="94.2" height="93.5" fill="url(#bg2)" stroke="none" stroke-width="1"/>
<g fill="#909082" filter="url(#bl2)">
<path d="M129.9 161.7h0M171.8 189.4h0M156.1 209.8h0M187.7 232.8h0M177.1 197.8h0" stroke="#909082" stroke-width="3.2" stroke-linecap="round" opacity="0.7"/>
<path d="M168.9 178.0h0M181.5 206.8h0M136.5 168.0h0M158.6 232.2h0" stroke="#909082" stroke-width="2.7" stroke-linecap="round" opacity="0.6"/>
<path d="M166.7 189.1h0M197.6 221.2h0M164.7 210.1h0M201.3 178.1h0M148.8 187.7h0M155.0 205.5h0M129.1 183.8h0M154.2 179.9h0M210.1 188.1h0" stroke="#909082" stroke-width="2.2" stroke-linecap="round" opacity="0.5"/>
<path d="M214.0 204.7h0M183.1 197.3h0M200.3 167.5h0M216.7 237.9h0M183.4 170.5h0M174.7 174.3h0M145.8 180.0h0M161.8 195.7h0" stroke="#909082" stroke-width="2.3" stroke-linecap="round" opacity="0.5"/>
<path d="M144.2 230.6h0M183.2 177.9h0M190.2 212.4h0M146.5 204.4h0M171.8 187.3h0M183.5 222.9h0M128.2 192.0h0M203.6 199.5h0" stroke="#909082" stroke-width="2.5" stroke-linecap="round" opacity="0.6"/>
<path d="M178.4 201.3h0M206.6 180.2h0M217.9 187.6h0" stroke="#909082" stroke-width="2.0" stroke-linecap="round" opacity="0.4"/>
<path d="M188.1 170.8h0M153.9 172.6h0M155.4 166.7h0M214.7 192.6h0M195.2 227.6h0" stroke="#909082" stroke-width="3.3" stroke-linecap="round" opacity="0.7"/>
<path d="M196.5 227.6h0" stroke="#909082" stroke-width="2.0" stroke-linecap="round" opacity="0.8"/>
<path d="M190.7 192.6h0M177.1 160.8h0M191.9 183.9h0M191.3 209.5h0" stroke="#909082" stroke-width="3.0" stroke-linecap="round" opacity="0.7"/>
<path d="M151.7 203.1h0M172.3 211.2h0M203.7 215.3h0M184.8 174.3h0M208.2 221.1h0" stroke="#909082" stroke-width="2.4" stroke-linecap="round" opacity="0.8"/>
<path d="M136.5 195.8h0M135.9 189.3h0M147.8 201.5h0M146.0 199.0h0" stroke="#909082" stroke-width="2.0" stroke-linecap="round" opacity="0.7"/>
<path d="M197.8 180.3h0" stroke="#909082" stroke-width="2.6" stroke-linecap="round" opacity="0.8"/>
<path d="M173.8 168.7h0M156.8 199.7h0" stroke="#909082" stroke-width="1.7" stroke-linecap="round" opacity="0.5"/>
<path d="M173.9 182.3h0M148.6 208.2h0" stroke="#909082" stroke-width="3.4" stroke-linecap="round" opacity="0.5"/>
<path d="M194.1 185.1h0M189.2 246.8h0M198.9 215.4h0M185.0 235.3h0M182.5 186.7h0M152.3 177.3h0" stroke="#909082" stroke-width="3.5" stroke-linecap="round" opacity="0.7"/>
<path d="M151.4 195.2h0M203.5 218.0h0" stroke="#909082" stroke-width="2.8" stroke-linecap="round" opacity="0.6"/>
<path d="M190.0 187.4h0M210.7 222.0h0M180.3 175.8h0" stroke="#909082" stroke-width="3.0" stroke-linecap="round" opacity="0.4"/>
<path d="M167.9 180.3h0M176.9 164.1h0M191.1 206.4h0M179.1 213.9h0M212.2 180.3h0" stroke="#909082" stroke-width="1.7" stroke-linecap="round" opacity="0.7"/>
<path d="M199.0 214.1h0M162.4 191.3h0M172.7 211.3h0M150.7 214.6h0M180.9 224.8h0" stroke="#909082" stroke-width="3.2" stroke-linecap="round" opacity="0.5"/>
<path d="M189.1 244.0h0M182.8 229.0h0M189.2 164.3h0M185.1 209.7h0" stroke="#909082" stroke-width="2.2" stroke-linecap="round" opacity="0.7"/>
<path d="M198.5 200.5h0M183.0 183.1h0M210.3 215.3h0M149.7 172.1h0M168.7 229.6h0M182.6 196.2h0" stroke="#909082" stroke-width="1.6" stroke-linecap="round" opacity="0.7"/>
<path d="M127.0 222.0h0M163.8 199.6h0M182.2 192.1h0M172.2 166.6h0" stroke="#909082" stroke-width="1.3" stroke-linecap="round" opacity="0.5"/>
<path d="M173.1 200.7h0" stroke="#909082" stroke-width="3.6" stroke-linecap="round" opacity="0.4"/>
<path d="M197.7 201.0h0M150.2 179.4h0M143.1 240.1h0M215.7 190.3h0M151.7 163.5h0M200.8 191.9h0M181.6 168.6h0M163.1 193.7h0" stroke="#909082" stroke-width="2.7" stroke-linecap="round" opacity="0.7"/>
<path d="M193.1 210.2h0M181.3 182.2h0" stroke="#909082" stroke-width="1.3" stroke-linecap="round" opacity="0.6"/>
<path d="M181.6 156.8h0M216.1 183.8h0M174.1 163.5h0M188.9 231.3h0M180.5 197.3h0M187.8 180.4h0" stroke="#909082" stroke-width="3.4" stroke-linecap="round" opacity="0.7"/>
<path d="M167.8 178.3h0M159.7 198.4h0M138.0 187.6h0" stroke="#909082" stroke-width="1.4" stroke-linecap="round" opacity="0.6"/>
<path d="M186.1 187.1h0M186.8 221.3h0M209.0 191.2h0M173.9 204.7h0M200.2 171.8h0M175.2 179.1h0M154.1 182.4h0" stroke="#909082" stroke-width="2.6" stroke-linecap="round" opacity="0.5"/>
<path d="M165.8 194.8h0M191.0 198.0h0M167.2 205.1h0M159.7 212.2h0M167.6 199.3h0M198.1 202.8h0M170.8 235.7h0" stroke="#909082" stroke-width="3.5" stroke-linecap="round" opacity="0.5"/>
<path d="M160.0 180.5h0M195.7 165.8h0M208.9 191.1h0M160.1 200.4h0" stroke="#909082" stroke-width="1.2" stroke-linecap="round" opacity="0.6"/>
<path d="M182.8 202.3h0M151.8 225.4h0M189.8 206.4h0M205.8 240.9h0" stroke="#909082" stroke-width="1.3" stroke-linecap="round" opacity="0.4"/>
<path d="M146.5 195.4h0M144.4 180.6h0M172.3 189.5h0" stroke="#909082" stroke-width="1.8" stroke-linecap="round" opacity="0.6"/>
<path d="M149.9 165.7h0M169.0 202.3h0M199.8 212.4h0M197.3 179.6h0M188.5 239.3h0M174.7 188.9h0" stroke="#909082" stroke-width="2.9" stroke-linecap="round" opacity="0.5"/>
<path d="M154.2 209.6h0M187.3 224.7h0M175.7 190.6h0" stroke="#909082" stroke-width="1.2" stroke-linecap="round" opacity="0.4"/>
<path d="M189.3 204.9h0M170.1 168.1h0M171.2 190.9h0M177.4 215.4h0" stroke="#909082" stroke-width="1.8" stroke-linecap="round" opacity="0.4"/>
<path d="M153.6 192.5h0M136.4 213.1h0M166.8 201.1h0" stroke="#909082" stroke-width="1.9" stroke-linecap="round" opacity="0.6"/>
<path d="M153.9 207.6h0M216.4 194.7h0M196.5 155.1h0M180.1 192.0h0" stroke="#909082" stroke-width="2.6" stroke-linecap="round" opacity="0.4"/>
<path d="M154.6 210.4h0M194.1 209.8h0M215.8 177.3h0M147.1 202.4h0M172.4 237.2h0M198.2 213.2h0M158.3 178.9h0" stroke="#909082" stroke-width="1.6" stroke-linecap="round" opacity="0.4"/>
<path d="M164.0 183.3h0M161.1 180.6h0M192.2 160.1h0M208.0 188.4h0" stroke="#909082" stroke-width="3.6" stroke-linecap="round" opacity="0.5"/>
<path d="M211.2 200.4h0M174.0 193.4h0" stroke="#909082" stroke-width="1.4" stroke-linecap="round" opacity="0.5"/>
<path d="M156.5 210.7h0M210.7 214.6h0M161.4 199.1h0M180.7 182.4h0" stroke="#909082" stroke-width="1.7" stroke-linecap="round" opacity="0.6"/>
<path d="M194.1 204.8h0M182.1 186.2h0" stroke="#909082" stroke-width="2.1" stroke-linecap="round" opacity="0.8"/>
<path d="M158.9 212.8h0M217.6 171.4h0M125.4 210.4h0M161.4 213.4h0" stroke="#909082" stroke-width="3.0" stroke-linecap="round" opacity="0.5"/>
<path d="M186.1 204.5h0M134.2 206.0h0M177.7 194.8h0" stroke="#909082" stroke-width="1.4" stroke-linecap="round" opacity="0.7"/>
<path d="M189.8 156.1h0M182.8 172.1h0M186.4 177.8h0M189.7 169.7h0" stroke="#909082" stroke-width="2.8" stroke-linecap="round" opacity="0.7"/>
<path d="M173.7 168.2h0M164.3 221.8h0" stroke="#909082" stroke-width="2.1" stroke-linecap="round" opacity="0.6"/>
<path d="M173.4 212.7h0M189.1 222.0h0M200.4 197.0h0" stroke="#909082" stroke-width="2.4" stroke-linecap="round" opacity="0.5"/>
<path d="M148.2 211.9h0M153.3 237.2h0M200.7 191.9h0" stroke="#909082" stroke-width="3.4" stroke-linecap="round" opacity="0.6"/>
<path d="M191.8 215.8h0M198.8 183.3h0M155.7 175.2h0" stroke="#909082" stroke-width="1.4" stroke-linecap="round" opacity="0.4"/>
<path d="M185.6 165.8h0M187.2 163.7h0" stroke="#909082" stroke-width="1.9" stroke-linecap="round" opacity="0.5"/>
<path d="M162.1 164.1h0" stroke="#909082" stroke-width="2.3" stroke-linecap="round" opacity="0.6"/>
<path d="M173.0 198.1h0M205.3 190.8h0M168.6 214.1h0" stroke="#909082" stroke-width="2.6" stroke-linecap="round" opacity="0.7"/>
<path d="M185.8 230.1h0M158.8 199.9h0" stroke="#909082" stroke-width="1.2" stroke-linecap="round" opacity="0.8"/>
<path d="M155.4 185.1h0M170.2 195.9h0" stroke="#909082" stroke-width="1.7" stroke-linecap="round" opacity="0.8"/>
<path d="M179.5 196.8h0M157.9 162.2h0M182.8 183.8h0" stroke="#909082" stroke-width="2.4" stroke-linecap="round" opacity="0.7"/>
<path d="M169.2 212.3h0M197.1 171.8h0M130.5 167.6h0" stroke="#909082" stroke-width="2.4" stroke-linecap="round" opacity="0.4"/>
<path d="M185.8 186.3h0M171.2 229.4h0M152.5 233.2h0M173.1 205.0h0" stroke="#909082" stroke-width="1.6" stroke-linecap="round" opacity="0.5"/>
<path d="M198.6 191.3h0M152.9 170.0h0M134.5 176.5h0M208.3 208.1h0" stroke="#909082" stroke-width="2.5" stroke-linecap="round" opacity="0.5"/>
<path d="M150.8 199.0h0M172.7 168.0h0M172.8 177.7h0M195.6 181.0h0M174.9 225.7h0M161.8 179.4h0M172.2 182.5h0" stroke="#909082" stroke-width="3.4" stroke-linecap="round" opacity="0.4"/>
<path d="M165.5 176.3h0M148.3 213.2h0M189.2 185.5h0" stroke="#909082" stroke-width="3.2" stroke-linecap="round" opacity="0.4"/>
<path d="M163.3 178.2h0" stroke="#909082" stroke-width="2.5" stroke-linecap="round" opacity="0.7"/>
<path d="M162.6 200.6h0M191.9 210.0h0" stroke="#909082" stroke-width="1.9" stroke-linecap="round" opacity="0.8"/>
<path d="M209.0 224.7h0M125.9 205.7h0M217.2 196.5h0M172.3 232.7h0" stroke="#909082" stroke-width="2.1" stroke-linecap="round" opacity="0.5"/>
<path d="M174.3 204.8h0M178.9 201.3h0M153.3 207.2h0M208.6 186.8h0" stroke="#909082" stroke-width="2.3" stroke-linecap="round" opacity="0.4"/>
<path d="M160.9 203.1h0M194.5 224.0h0M155.7 219.1h0M164.3 205.3h0" stroke="#909082" stroke-width="3.3" stroke-linecap="round" opacity="0.8"/>
<path d="M163.5 212.0h0M171.1 174.5h0M187.6 168.6h0M203.9 182.7h0M191.5 194.6h0M143.9 166.1h0M178.4 214.7h0M209.7 189.6h0M178.4 231.5h0" stroke="#909082" stroke-width="3.1" stroke-linecap="round" opacity="0.5"/>
<path d="M152.1 212.0h0M218.3 186.6h0M197.6 224.3h0" stroke="#909082" stroke-width="2.8" stroke-linecap="round" opacity="0.5"/>
<path d="M131.9 203.4h0" stroke="#909082" stroke-width="1.6" stroke-linecap="round" opacity="0.8"/>
<path d="M181.7 200.1h0M143.2 183.1h0M190.5 206.8h0M181.0 180.5h0" stroke="#909082" stroke-width="2.0" stroke-linecap="round" opacity="0.5"/>
<path d="M186.8 191.2h0M194.3 217.5h0M148.8 167.9h0M194.9 219.8h0" stroke="#909082" stroke-width="1.5" stroke-linecap="round" opacity="0.4"/>
<path d="M177.9 221.1h0M187.8 211.7h0" stroke="#909082" stroke-width="1.8" stroke-linecap="round" opacity="0.5"/>
<path d="M178.4 213.8h0M206.0 187.3h0M146.2 201.5h0" stroke="#909082" stroke-width="2.7" stroke-linecap="round" opacity="0.5"/>
<path d="M191.8 175.5h0M194.6 205.6h0M171.3 180.7h0" stroke="#909082" stroke-width="3.1" stroke-linecap="round" opacity="0.4"/>
<path d="M154.0 177.6h0" stroke="#909082" stroke-width="2.5" stroke-linecap="round" opacity="0.8"/>
<path d="M167.4 192.3h0M147.4 198.8h0M136.6 176.0h0" stroke="#909082" stroke-width="2.5" stroke-linecap="round" opacity="0.4"/>
<path d="M136.7 241.4h0" stroke="#909082" stroke-width="2.8" stroke-linecap="round" opacity="0.8"/>
<path d="M173.3 186.8h0M157.4 201.8h0M141.7 218.0h0M198.8 199.1h0M162.6 178.6h0" stroke="#909082" stroke-width="3.5" stroke-linecap="round" opacity="0.6"/>
<path d="M210.0 223.2h0M191.0 197.6h0" stroke="#909082" stroke-width="2.7" stroke-linecap="round" opacity="0.4"/>
<path d="M146.4 221.6h0" stroke="#909082" stroke-width="3.1" stroke-linecap="round" opacity="0.6"/>
<path d="M160.3 199.3h0" stroke="#909082" stroke-width="3.0" stroke-linecap="round" opacity="0.8"/>
<path d="M182.5 233.1h0M182.3 187.3h0" stroke="#909082" stroke-width="2.9" stroke-linecap="round" opacity="0.6"/>
<path d="M205.4 201.8h0M184.9 227.4h0" stroke="#909082" stroke-width="1.7" stroke-linecap="round" opacity="0.4"/>
<path d="M170.7 169.9h0M192.2 212.1h0M209.0 186.4h0M211.0 185.8h0M186.6 179.8h0" stroke="#909082" stroke-width="1.3" stroke-linecap="round" opacity="0.7"/>
<path d="M173.5 170.0h0" stroke="#909082" stroke-width="2.8" stroke-linecap="round" opacity="0.4"/>
<path d="M191.1 188.6h0M191.2 192.1h0M161.1 191.6h0" stroke="#909082" stroke-width="3.1" stroke-linecap="round" opacity="0.7"/>
<path d="M192.4 224.7h0M150.3 212.0h0M164.6 187.1h0M187.2 192.6h0" stroke="#909082" stroke-width="3.3" stroke-linecap="round" opacity="0.5"/>
<path d="M195.6 222.6h0M157.3 211.2h0" stroke="#909082" stroke-width="2.1" stroke-linecap="round" opacity="0.4"/>
<path d="M138.8 181.8h0M179.3 168.7h0" stroke="#909082" stroke-width="3.5" stroke-linecap="round" opacity="0.8"/>
<path d="M188.0 231.8h0" stroke="#909082" stroke-width="3.3" stroke-linecap="round" opacity="0.6"/>
<path d="M208.1 209.5h0M144.2 192.8h0M181.3 229.4h0M168.1 213.5h0M188.5 198.4h0M174.0 160.2h0M199.8 207.3h0" stroke="#909082" stroke-width="1.5" stroke-linecap="round" opacity="0.6"/>
<path d="M138.3 187.0h0" stroke="#909082" stroke-width="1.4" stroke-linecap="round" opacity="0.8"/>
<path d="M167.9 195.0h0M173.8 189.6h0M202.1 177.8h0" stroke="#909082" stroke-width="2.4" stroke-linecap="round" opacity="0.6"/>
<path d="M183.9 165.0h0M155.5 202.4h0M144.5 178.8h0M187.0 173.8h0" stroke="#909082" stroke-width="2.9" stroke-linecap="round" opacity="0.7"/>
<path d="M204.5 180.7h0M153.3 220.4h0M195.6 185.5h0" stroke="#909082" stroke-width="1.5" stroke-linecap="round" opacity="0.7"/>
<path d="M198.8 178.6h0" stroke="#909082" stroke-width="3.5" stroke-linecap="round" opacity="0.4"/>
<path d="M155.4 234.6h0" stroke="#909082" stroke-width="1.2" stroke-linecap="round" opacity="0.7"/>
<path d="M212.9 195.8h0" stroke="#909082" stroke-width="3.3" stroke-linecap="round" opacity="0.4"/>
<path d="M183.2 192.1h0M149.3 195.3h0M191.8 194.2h0M165.6 209.4h0" stroke="#909082" stroke-width="1.8" stroke-linecap="round" opacity="0.7"/>
<path d="M137.9 226.5h0" stroke="#909082" stroke-width="1.5" stroke-linecap="round" opacity="0.5"/>
<path d="M154.4 193.3h0" stroke="#909082" stroke-width="2.2" stroke-linecap="round" opacity="0.8"/>
<path d="M187.7 163.0h0M195.7 162.9h0M177.0 236.8h0M184.5 183.1h0" stroke="#909082" stroke-width="1.6" stroke-linecap="round" opacity="0.6"/>
<path d="M174.2 192.1h0M167.9 186.6h0M188.4 199.3h0" stroke="#909082" stroke-width="1.9" stroke-linecap="round" opacity="0.7"/>
<path d="M178.6 233.9h0M182.6 210.5h0M173.8 163.8h0" stroke="#909082" stroke-width="2.1" stroke-linecap="round" opacity="0.7"/>
<path d="M131.0 194.3h0" stroke="#909082" stroke-width="3.0" stroke-linecap="round" opacity="0.6"/>
<path d="M188.6 192.9h0M180.5 177.4h0" stroke="#909082" stroke-width="2.6" stroke-linecap="round" opacity="0.6"/>
<path d="M151.8 215.5h0M213.4 195.3h0M167.6 179.6h0" stroke="#909082" stroke-width="3.1" stroke-linecap="round" opacity="0.8"/>
<path d="M162.3 164.8h0M192.7 208.4h0M155.4 220.7h0" stroke="#909082" stroke-width="2.2" stroke-linecap="round" opacity="0.4"/>
<path d="M203.2 201.3h0" stroke="#909082" stroke-width="2.9" stroke-linecap="round" opacity="0.4"/>
<path d="M165.9 220.0h0M207.0 199.6h0M177.5 181.2h0" stroke="#909082" stroke-width="3.4" stroke-linecap="round" opacity="0.8"/>
<path d="M201.5 225.8h0" stroke="#909082" stroke-width="3.6" stroke-linecap="round" opacity="0.7"/>
<path d="M188.6 193.2h0M191.9 202.0h0M182.5 214.3h0" stroke="#909082" stroke-width="3.2" stroke-linecap="round" opacity="0.8"/>
<path d="M169.7 210.7h0" stroke="#909082" stroke-width="1.5" stroke-linecap="round" opacity="0.8"/>
<path d="M168.8 198.6h0M204.4 183.5h0M176.1 205.9h0" stroke="#909082" stroke-width="3.2" stroke-linecap="round" opacity="0.6"/>
<path d="M184.5 196.0h0M184.1 187.0h0" stroke="#909082" stroke-width="1.9" stroke-linecap="round" opacity="0.4"/>
<path d="M172.7 204.2h0M174.3 187.0h0" stroke="#909082" stroke-width="2.2" stroke-linecap="round" opacity="0.6"/>
<path d="M159.0 182.1h0" stroke="#909082" stroke-width="2.0" stroke-linecap="round" opacity="0.6"/>
<path d="M172.0 160.4h0" stroke="#909082" stroke-width="2.3" stroke-linecap="round" opacity="0.7"/>
<path d="M210.8 193.7h0M163.9 161.6h0M200.6 174.8h0M196.2 212.6h0M172.3 167.5h0M197.5 185.5h0M198.4 191.1h0M209.4 206.4h0M145.1 179.2h0M216.6 213.4h0M201.8 225.7h0M206.8 172.5h0M131.0 214.3h0M179.6 197.3h0M160.5 223.0h0M147.8 164.9h0M156.8 161.1h0M133.4 219.8h0M184.1 174.1h0M158.3 180.0h0M175.8 231.6h0M147.6 231.3h0M137.6 182.8h0M173.5 208.3h0M144.6 173.5h0M152.8 167.0h0M142.3 173.8h0M135.5 157.5h0M174.8 185.0h0M173.9 180.4h0M176.3 246.2h0M205.5 246.2h0M170.6 241.6h0M127.5 226.9h0M155.9 218.9h0M185.4 203.8h0M198.1 173.1h0M216.6 228.4h0M149.8 165.2h0M138.6 228.0h0M211.2 235.4h0M197.8 230.8h0M162.4 235.5h0M201.8 221.8h0M204.6 189.1h0M183.7 223.1h0M208.5 172.5h0M167.0 199.6h0M152.7 229.0h0M196.6 212.8h0M201.6 196.1h0M193.0 213.1h0M169.2 198.7h0M206.1 239.0h0M161.1 212.9h0M212.3 193.7h0M174.4 206.5h0M176.6 240.8h0M136.2 227.1h0M169.3 193.3h0M180.0 158.0h0M149.7 226.4h0M207.0 200.2h0M201.4 180.4h0M209.1 153.9h0M181.8 162.4h0M143.7 171.3h0M157.8 187.1h0M169.2 220.2h0M146.8 192.4h0M162.6 194.5h0M195.5 244.6h0M162.0 221.9h0M144.0 228.8h0M175.1 199.2h0M133.5 176.9h0M184.3 186.1h0M175.4 181.0h0M143.3 180.7h0M216.3 232.4h0M150.9 226.0h0M146.7 179.4h0M170.6 225.5h0M173.6 202.3h0M155.4 176.8h0M180.4 204.9h0M164.5 168.1h0M170.6 209.8h0M202.6 202.8h0M216.0 220.9h0M139.0 202.8h0M157.0 227.9h0M149.8 232.9h0M144.0 191.3h0M196.7 223.4h0M144.5 185.1h0M210.8 175.1h0M128.1 231.9h0M195.1 196.6h0M212.2 177.5h0M188.8 234.1h0M187.8 213.4h0M201.8 161.1h0M163.1 169.5h0M132.5 233.3h0M165.6 237.9h0M126.0 180.9h0M171.3 196.4h0M199.3 171.8h0M163.0 240.5h0M146.0 165.9h0M211.1 171.2h0M217.9 211.8h0M156.0 169.6h0M141.5 209.5h0M178.9 196.9h0M184.9 171.0h0M151.6 246.1h0M207.0 180.2h0M195.6 155.7h0M145.0 205.2h0M209.8 194.4h0M172.4 216.9h0M175.0 214.9h0M199.7 243.9h0M164.4 164.6h0M152.0 199.3h0M166.2 205.9h0M133.5 218.0h0M181.3 226.8h0M183.4 235.1h0M176.9 227.3h0M152.4 170.4h0M136.9 222.7h0M155.2 188.0h0M194.5 217.8h0M131.5 187.1h0M201.4 189.8h0M187.8 238.1h0M177.0 187.5h0M209.0 229.6h0M163.7 219.0h0M185.4 240.5h0M136.8 171.8h0M199.4 245.1h0M130.3 194.9h0M152.6 160.9h0M141.3 227.2h0M127.3 212.6h0M141.0 194.6h0M134.3 161.0h0M205.5 194.8h0M132.3 162.2h0M216.4 188.0h0M144.0 212.5h0M129.2 189.1h0M149.6 232.7h0M210.2 243.9h0M139.6 204.5h0M160.7 182.5h0" stroke="#909082" stroke-width="0.8" stroke-linecap="round" opacity="0.35"/>
<path d="M183.9 231.1h0M154.3 207.4h0M196.1 196.2h0M185.0 217.6h0M190.1 217.6h0M179.6 194.2h0M197.7 182.7h0M126.0 203.7h0M205.8 184.1h0M213.4 154.6h0M133.6 194.4h0M204.1 161.4h0M174.1 167.6h0M216.2 241.2h0M190.2 227.5h0M161.7 231.9h0M154.8 177.3h0M179.9 192.6h0M194.4 239.3h0M182.9 171.6h0M129.2 160.7h0M163.5 167.7h0M156.3 201.0h0M174.9 191.6h0M147.5 228.2h0M137.1 210.8h0M186.0 228.0h0M131.4 201.8h0M158.7 224.8h0M148.4 178.6h0M151.1 160.4h0M177.1 178.4h0M147.7 221.7h0M193.5 244.1h0M195.0 213.5h0M183.9 159.6h0M129.4 177.3h0M173.8 189.3h0M162.7 210.8h0M147.1 165.0h0M167.3 218.4h0M139.1 204.8h0M162.5 158.6h0M218.6 200.9h0M186.7 161.1h0M177.3 159.9h0M151.7 216.9h0M152.8 235.4h0M174.9 236.8h0M125.4 203.1h0M185.9 206.4h0M214.3 211.2h0M217.9 167.8h0M160.0 209.1h0M153.0 176.6h0M149.6 228.7h0M203.5 181.4h0M207.7 224.4h0M196.0 208.1h0M142.8 234.2h0M155.1 203.6h0M175.0 194.7h0M183.2 216.2h0M188.6 226.9h0M157.5 204.9h0M177.6 179.7h0M143.6 155.1h0M177.5 165.8h0M178.1 222.6h0M142.0 233.0h0M161.4 226.9h0M191.4 208.2h0M153.3 183.0h0M215.8 231.6h0M137.6 188.8h0M208.9 177.4h0M188.4 212.7h0M138.6 202.7h0M138.8 184.9h0M132.0 168.6h0M185.8 202.1h0M154.8 160.8h0M188.8 216.3h0M148.8 226.3h0M169.1 240.5h0M217.0 220.6h0M156.0 243.8h0M203.2 234.3h0M171.4 228.1h0M147.7 244.0h0M151.4 188.0h0M153.1 204.6h0M181.7 171.0h0M204.6 171.4h0M173.2 157.2h0M141.8 197.6h0M198.2 220.8h0M137.0 234.8h0M182.6 236.3h0M200.7 207.1h0M161.6 229.0h0M215.1 181.5h0M191.0 225.8h0M148.1 171.5h0M174.6 229.5h0M146.1 222.4h0M218.7 170.1h0M174.7 189.4h0M154.5 207.8h0M132.8 185.1h0M148.7 161.2h0M148.0 223.2h0M134.6 233.4h0M163.4 160.3h0M175.5 232.0h0M217.7 207.6h0M177.4 186.5h0M131.4 180.4h0M204.2 186.2h0M202.0 213.8h0M158.1 197.7h0M151.7 168.7h0M201.4 223.7h0M136.5 169.5h0M204.6 197.7h0M145.8 186.4h0M191.5 180.5h0M148.0 159.1h0M191.2 241.6h0M194.4 237.5h0M193.7 245.7h0M142.9 157.3h0M175.5 221.3h0M197.1 210.0h0M196.7 157.6h0M206.9 180.6h0M142.6 209.7h0M144.3 219.7h0M145.1 174.9h0M181.9 204.1h0M201.8 211.4h0M162.1 229.7h0M142.8 222.4h0M133.2 221.1h0M218.7 222.4h0M131.4 201.0h0M173.1 201.5h0M172.7 190.3h0M144.7 207.2h0M218.8 160.3h0M126.4 175.2h0M173.8 178.3h0M151.2 243.8h0M147.8 164.5h0M216.5 202.4h0M126.1 161.3h0M183.4 168.1h0M168.8 224.6h0M209.2 219.5h0M172.1 217.7h0M193.0 236.6h0M197.7 163.5h0M174.9 177.7h0" stroke="#909082" stroke-width="1.2" stroke-linecap="round" opacity="0.35"/>
<path d="M150.3 217.7h0M127.2 203.3h0M211.5 169.8h0M171.8 203.3h0M146.2 182.0h0M167.6 156.5h0M180.8 202.4h0M166.4 237.8h0M187.3 168.8h0M161.8 209.8h0M164.3 219.7h0M142.9 187.2h0M166.7 213.3h0M196.7 220.0h0M165.8 215.5h0M218.8 243.5h0M213.2 218.9h0M180.5 157.2h0M133.2 200.4h0M140.9 177.1h0M195.5 220.1h0M201.7 169.9h0M136.8 154.2h0M201.8 176.1h0M195.9 164.9h0M127.0 194.8h0M182.5 198.5h0M211.4 232.2h0M207.6 162.6h0M195.0 183.7h0M158.2 212.5h0M125.2 235.9h0M180.3 220.6h0M157.6 161.9h0M130.2 231.7h0M192.6 218.8h0M142.1 242.6h0M157.0 180.5h0M125.7 165.9h0M125.4 216.6h0M191.0 209.0h0M217.0 212.6h0M163.0 243.2h0M154.4 157.2h0M141.8 215.5h0M144.0 233.3h0M145.2 237.1h0M214.2 161.1h0M126.3 158.4h0M157.2 216.8h0M145.4 155.1h0M166.2 225.6h0M190.0 209.4h0M177.1 237.8h0M137.5 206.6h0M217.7 178.3h0M197.7 244.2h0M134.4 224.0h0M195.3 244.9h0M183.6 183.9h0M203.2 180.5h0M155.7 188.6h0M183.3 164.1h0M128.8 184.7h0M207.5 194.4h0M197.1 196.0h0M129.5 208.4h0M192.3 172.8h0M161.5 159.5h0M143.2 190.7h0M173.9 171.7h0M214.7 209.6h0M136.7 208.3h0M180.3 183.7h0M143.9 242.6h0M129.8 184.7h0M157.6 219.2h0M144.8 212.4h0M140.3 195.4h0M135.8 238.7h0M203.7 240.4h0M190.9 175.9h0M142.0 228.4h0M186.1 167.6h0M174.1 236.4h0M139.6 156.9h0M166.1 227.7h0M180.7 182.6h0M161.1 241.3h0M217.9 227.4h0M164.9 180.2h0M187.3 246.6h0M163.4 183.3h0M162.9 198.0h0M208.8 160.7h0M131.4 169.1h0M147.1 205.0h0M129.1 219.1h0M174.9 187.7h0M172.5 209.0h0M141.0 184.5h0M156.0 212.4h0M199.9 171.7h0M196.9 203.5h0M177.3 217.3h0M184.5 185.1h0M209.7 203.9h0M124.9 227.6h0M154.6 227.6h0M183.7 176.0h0M170.0 175.8h0M168.1 178.6h0M146.4 188.8h0M139.8 187.0h0M167.6 200.1h0M199.7 207.7h0M147.7 244.6h0M211.6 188.2h0M202.7 242.4h0M149.0 208.0h0M183.9 157.7h0M213.9 187.7h0M179.1 205.2h0M200.5 238.2h0M145.1 241.1h0M135.7 244.3h0M152.8 222.9h0M183.6 203.0h0M150.7 161.3h0M183.4 238.2h0M171.9 179.3h0M207.0 216.5h0M160.7 240.7h0M156.1 246.4h0M164.7 238.8h0M124.7 213.9h0M171.2 197.7h0M133.4 173.3h0M154.0 163.0h0M204.4 157.7h0M168.5 153.8h0M133.8 223.0h0M169.1 237.7h0M146.0 190.1h0M145.1 199.7h0M163.5 162.1h0M136.0 196.7h0M202.3 240.9h0M148.5 246.4h0M211.0 241.9h0M204.8 225.1h0M180.0 165.8h0M204.0 201.1h0M178.8 192.1h0M192.2 186.7h0M153.9 198.0h0M167.5 160.8h0M126.4 173.2h0M175.4 227.1h0M131.3 187.4h0M188.5 222.1h0M127.2 195.9h0M125.9 180.5h0M135.6 196.6h0M153.7 156.2h0M217.9 193.1h0M174.8 180.8h0M179.1 195.2h0M158.2 171.2h0M217.4 183.8h0M206.5 233.9h0M198.7 181.9h0M206.7 174.5h0M168.1 156.0h0M201.1 240.6h0M169.9 188.5h0M139.8 223.6h0" stroke="#909082" stroke-width="1.0" stroke-linecap="round" opacity="0.35"/>
<path d="M174.0,202.1C174.6,203.6 174.8,205.7 174.5,207.1C174.3,208.5 173.4,210.2 172.5,210.6C171.6,211.0 170.1,210.0 168.9,209.6C167.8,209.1 166.3,208.7 165.7,207.7C165.1,206.6 165.4,204.9 165.2,203.4C165.0,201.9 164.1,199.9 164.4,198.7C164.8,197.5 166.2,196.4 167.3,196.3C168.5,196.2 170.0,197.2 171.1,198.1C172.3,199.1 173.5,200.6 174.0,202.1Z" opacity="0.92"/>
<path d="M192.0,199.2C191.6,200.5 190.0,201.6 189.0,202.3C188.0,203.1 187.1,203.7 186.2,203.7C185.3,203.7 184.6,202.9 183.7,202.2C182.8,201.6 181.0,200.8 181.0,199.7C180.9,198.7 182.5,197.0 183.2,195.9C183.9,194.9 184.4,193.8 185.2,193.2C186.0,192.7 187.1,192.7 188.1,192.9C189.1,193.1 190.6,193.4 191.3,194.4C191.9,195.5 192.4,197.9 192.0,199.2Z" opacity="0.92"/>
<path d="M183.3,216.4C183.4,217.4 183.7,219.1 183.2,219.7C182.7,220.3 181.3,219.8 180.3,220.0C179.3,220.3 177.9,221.5 177.3,221.2C176.6,220.8 176.5,218.8 176.4,217.8C176.2,216.7 176.0,215.7 176.3,215.0C176.5,214.3 177.4,213.9 178.1,213.4C178.8,212.8 179.6,211.8 180.4,211.8C181.2,211.8 182.3,212.7 182.8,213.5C183.2,214.3 183.2,215.4 183.3,216.4Z" opacity="0.92"/>
<path d="M177.5,192.4C177.5,193.0 177.0,194.0 176.5,194.4C176.0,194.9 175.2,195.1 174.4,195.2C173.7,195.4 172.6,195.7 172.0,195.4C171.4,195.1 171.0,194.1 170.8,193.4C170.7,192.8 171.1,192.1 171.3,191.5C171.6,191.0 171.9,190.4 172.4,190.1C173.0,189.7 173.8,189.4 174.5,189.5C175.1,189.5 175.8,190.1 176.3,190.5C176.8,191.0 177.4,191.8 177.5,192.4Z" opacity="0.92"/>
<path d="M192.8,180.8C192.9,181.5 192.7,182.6 192.2,183.1C191.7,183.6 190.6,183.8 189.9,183.8C189.1,183.9 188.2,183.8 187.7,183.4C187.1,183.1 187.0,182.3 186.7,181.7C186.5,181.1 186.1,180.4 186.2,179.7C186.2,179.0 186.6,177.8 187.2,177.5C187.9,177.2 189.1,177.9 189.8,178.1C190.5,178.4 191.1,178.6 191.6,179.0C192.1,179.5 192.7,180.1 192.8,180.8Z" opacity="0.92"/>
<path d="M165.7,180.8C165.6,181.6 165.3,182.3 164.9,182.9C164.4,183.4 163.6,184.0 163.0,184.1C162.3,184.1 161.7,183.5 161.0,183.2C160.4,182.8 159.1,182.6 159.0,182.1C158.8,181.5 159.7,180.6 159.9,179.9C160.2,179.2 160.1,178.2 160.7,177.8C161.2,177.3 162.3,177.1 163.0,177.2C163.8,177.3 164.8,177.8 165.3,178.4C165.7,179.0 165.7,180.0 165.7,180.8Z" opacity="0.92"/>
<path d="M175.3,179.0C175.3,179.6 174.4,180.2 173.9,180.8C173.5,181.3 173.1,182.4 172.6,182.5C172.0,182.6 171.3,181.7 170.8,181.3C170.2,180.9 169.5,180.6 169.4,180.1C169.2,179.5 169.4,178.6 169.6,178.1C169.9,177.5 170.4,177.2 170.8,176.8C171.3,176.4 172.0,175.5 172.5,175.6C173.1,175.7 173.5,176.6 174.0,177.2C174.5,177.7 175.4,178.4 175.3,179.0Z" opacity="0.92"/>
<path d="M186.2,169.3C186.2,169.9 186.2,170.7 185.8,171.1C185.4,171.4 184.5,171.5 183.9,171.5C183.3,171.5 182.9,171.4 182.3,171.1C181.8,170.9 181.1,170.7 180.8,170.2C180.5,169.7 180.4,168.8 180.7,168.4C180.9,167.9 181.9,167.8 182.4,167.6C183.0,167.4 183.4,166.9 184.0,166.9C184.5,166.9 185.4,167.1 185.8,167.5C186.2,167.9 186.2,168.7 186.2,169.3Z" opacity="0.92"/>
<path d="M189.7,164.5C189.6,165.1 189.4,165.5 189.1,166.0C188.8,166.4 188.3,166.9 187.8,167.0C187.3,167.1 186.6,166.9 186.2,166.7C185.8,166.4 185.5,165.7 185.4,165.2C185.3,164.7 185.3,164.3 185.4,163.8C185.5,163.3 185.6,162.3 186.0,162.0C186.4,161.8 187.2,162.3 187.8,162.4C188.4,162.5 189.4,162.2 189.7,162.6C190.0,162.9 189.8,163.9 189.7,164.5Z" opacity="0.92"/>
<path d="M182.0,157.8C182.1,158.3 182.0,159.1 181.6,159.4C181.3,159.8 180.6,160.0 180.1,160.0C179.6,160.0 179.1,159.8 178.7,159.5C178.3,159.2 178.0,158.9 177.8,158.5C177.7,158.1 177.7,157.6 177.8,157.1C178.0,156.7 178.1,155.9 178.5,155.7C178.9,155.6 179.5,156.0 180.0,156.1C180.4,156.2 180.9,156.2 181.2,156.5C181.5,156.8 181.9,157.3 182.0,157.8Z" opacity="0.92"/>
<path d="M203.1,179.0C203.2,179.4 203.1,180.2 202.8,180.5C202.4,180.7 201.6,180.5 201.1,180.6C200.6,180.7 200.0,181.0 199.6,180.8C199.3,180.6 199.2,180.0 199.0,179.6C198.8,179.2 198.4,178.6 198.5,178.3C198.6,177.9 199.3,177.4 199.7,177.3C200.1,177.1 200.7,177.2 201.1,177.3C201.6,177.4 202.0,177.6 202.3,177.9C202.6,178.2 203.1,178.6 203.1,179.0Z" opacity="0.92"/>
<path d="M208.0,187.6C208.0,188.0 207.3,188.4 207.0,188.6C206.7,188.9 206.4,189.2 206.0,189.2C205.6,189.3 205.2,189.2 204.8,189.1C204.4,188.9 203.8,188.7 203.6,188.3C203.4,188.0 203.6,187.3 203.8,186.9C204.0,186.6 204.5,186.4 204.8,186.2C205.2,186.0 205.7,185.6 206.1,185.7C206.5,185.7 206.9,186.1 207.2,186.4C207.5,186.8 208.1,187.2 208.0,187.6Z" opacity="0.92"/>
<path d="M157.1,189.5C157.1,189.9 156.6,190.3 156.2,190.6C155.9,190.9 155.5,191.3 155.1,191.3C154.7,191.3 154.2,191.1 153.8,190.9C153.5,190.6 153.2,190.4 153.0,190.0C152.9,189.7 152.9,189.3 152.9,188.9C153.0,188.5 153.1,187.9 153.5,187.6C153.8,187.3 154.6,187.2 155.1,187.3C155.7,187.3 156.3,187.7 156.6,188.1C156.9,188.4 157.2,189.1 157.1,189.5Z" opacity="0.92"/>
<path d="M172.1,219.3C172.1,219.7 171.6,220.0 171.4,220.4C171.1,220.7 170.8,221.3 170.4,221.4C170.0,221.4 169.6,220.9 169.2,220.7C168.7,220.5 167.9,220.5 167.7,220.1C167.4,219.7 167.6,219.0 167.8,218.5C168.0,218.1 168.5,217.6 168.9,217.5C169.3,217.3 169.9,217.3 170.3,217.5C170.8,217.6 171.1,217.9 171.4,218.2C171.7,218.5 172.1,218.9 172.1,219.3Z" opacity="0.92"/>
<path d="M199.3,209.7C199.3,210.1 198.8,210.6 198.5,210.9C198.1,211.2 197.8,211.4 197.3,211.5C196.9,211.6 196.3,211.7 195.9,211.6C195.4,211.4 194.7,211.0 194.6,210.5C194.4,210.1 194.7,209.4 194.9,209.0C195.2,208.6 195.5,208.2 195.9,208.0C196.3,207.7 196.9,207.5 197.4,207.6C197.9,207.6 198.4,208.0 198.7,208.3C199.1,208.7 199.4,209.3 199.3,209.7Z" opacity="0.92"/>
<path d="M162.3,200.0C162.3,200.3 161.6,200.7 161.3,201.0C161.0,201.3 160.7,201.7 160.3,201.7C160.0,201.8 159.6,201.4 159.2,201.3C158.8,201.1 157.9,201.1 157.8,200.8C157.7,200.4 158.2,199.8 158.5,199.5C158.7,199.1 158.9,198.9 159.2,198.7C159.5,198.5 159.9,198.3 160.3,198.4C160.7,198.4 161.0,198.6 161.4,198.9C161.7,199.2 162.3,199.7 162.3,200.0Z" opacity="0.92"/>
<path d="M195.8,193.0C195.8,193.5 195.2,194.2 194.8,194.5C194.4,194.9 193.9,194.9 193.3,195.0C192.8,195.1 192.1,195.5 191.7,195.3C191.3,195.1 190.9,194.3 190.8,193.8C190.7,193.3 190.9,192.8 191.1,192.3C191.2,191.8 191.4,191.1 191.8,190.9C192.1,190.6 192.9,190.7 193.4,190.8C193.9,190.9 194.5,191.1 194.9,191.4C195.3,191.8 195.8,192.5 195.8,193.0Z" opacity="0.92"/>
</g></g>
<clipPath id="clip3"><rect x="225.1" y="153" width="93.7" height="94.8"/></clipPath>
<linearGradient id="bg3" x1="0" y1="0" x2="0" y2="1"><stop offset="0" stop-color="#e2e3e1"/><stop offset="1" stop-color="#e0e1df"/></linearGradient>
<filter id="bl3" x="-10%" y="-10%" width="120%" height="120%"><feGaussianBlur stdDeviation="0.55"/></filter>
<g clip-path="url(#clip3)">
<rect x="225.1" y="153" width="93.7" height="94.8" fill="url(#bg3)" stroke="none" stroke-width="1"/>
<g fill="#909082" filter="url(#bl3)">
<path d="M274.5 232.5h0M257.2 217.0h0M267.3 175.6h0M302.9 223.2h0M256.1 216.2h0" stroke="#909082" stroke-width="2.1" stroke-linecap="round" opacity="0.6"/>
<path d="M265.3 193.2h0M309.4 207.7h0M238.3 175.1h0M271.7 178.4h0" stroke="#909082" stroke-width="1.2" stroke-linecap="round" opacity="0.7"/>
<path d="M270.9 219.0h0M275.6 180.0h0" stroke="#909082" stroke-width="3.6" stroke-linecap="round" opacity="0.6"/>
<path d="M287.3 174.7h0M307.7 204.5h0M276.7 224.6h0" stroke="#909082" stroke-width="2.7" stroke-linecap="round" opacity="0.4"/>
<path d="M237.4 160.8h0M253.1 204.7h0M243.6 208.6h0M289.5 176.1h0M271.3 210.5h0M288.1 176.8h0" stroke="#909082" stroke-width="2.5" stroke-linecap="round" opacity="0.7"/>
<path d="M267.5 191.7h0M309.5 217.2h0M290.0 178.7h0M288.7 205.5h0M275.3 211.0h0M271.0 168.0h0M263.0 208.5h0" stroke="#909082" stroke-width="3.0" stroke-linecap="round" opacity="0.6"/>
<path d="M269.9 206.2h0M252.5 232.2h0M289.4 181.4h0M238.6 158.4h0M252.0 199.8h0" stroke="#909082" stroke-width="3.3" stroke-linecap="round" opacity="0.6"/>
<path d="M292.0 240.3h0M239.9 194.7h0M301.7 207.2h0M268.2 230.8h0" stroke="#909082" stroke-width="2.1" stroke-linecap="round" opacity="0.7"/>
<path d="M307.4 162.2h0M254.8 183.3h0M254.9 166.6h0M269.3 213.5h0" stroke="#909082" stroke-width="1.5" stroke-linecap="round" opacity="0.4"/>
<path d="M299.2 194.0h0M293.5 223.7h0" stroke="#909082" stroke-width="2.7" stroke-linecap="round" opacity="0.5"/>
<path d="M246.4 198.8h0M246.5 192.2h0M293.3 228.0h0M274.5 211.7h0" stroke="#909082" stroke-width="2.0" stroke-linecap="round" opacity="0.6"/>
<path d="M289.0 241.1h0M264.6 186.3h0M287.6 237.5h0M310.0 182.4h0M312.8 201.2h0" stroke="#909082" stroke-width="3.3" stroke-linecap="round" opacity="0.8"/>
<path d="M299.9 181.0h0M275.4 169.1h0M254.5 193.1h0M255.4 235.5h0M243.8 192.9h0M254.1 192.3h0M282.4 178.0h0M244.0 202.6h0" stroke="#909082" stroke-width="2.9" stroke-linecap="round" opacity="0.4"/>
<path d="M288.7 170.4h0M272.5 247.7h0M254.7 177.0h0M254.8 190.2h0M291.9 211.2h0M244.8 196.3h0" stroke="#909082" stroke-width="1.9" stroke-linecap="round" opacity="0.4"/>
<path d="M233.4 228.9h0M259.7 192.0h0M276.0 215.4h0M289.5 213.3h0M306.5 201.9h0M277.4 164.0h0" stroke="#909082" stroke-width="2.2" stroke-linecap="round" opacity="0.4"/>
<path d="M259.9 242.8h0M286.0 175.8h0M282.0 206.5h0M298.4 196.4h0M295.8 227.6h0" stroke="#909082" stroke-width="3.3" stroke-linecap="round" opacity="0.4"/>
<path d="M266.1 194.8h0M265.5 235.2h0M270.4 169.9h0M272.2 175.3h0" stroke="#909082" stroke-width="2.9" stroke-linecap="round" opacity="0.5"/>
<path d="M266.7 196.1h0M305.1 176.0h0M238.8 194.2h0M225.2 173.1h0M265.2 210.6h0M284.2 223.0h0M300.5 192.1h0" stroke="#909082" stroke-width="1.7" stroke-linecap="round" opacity="0.5"/>
<path d="M260.4 190.3h0M257.2 223.3h0" stroke="#909082" stroke-width="1.3" stroke-linecap="round" opacity="0.7"/>
<path d="M309.1 188.8h0M240.5 207.2h0M303.8 197.3h0M269.7 175.9h0" stroke="#909082" stroke-width="2.3" stroke-linecap="round" opacity="0.6"/>
<path d="M250.4 172.5h0M296.3 192.0h0M256.1 174.3h0M278.7 181.1h0M266.0 217.1h0" stroke="#909082" stroke-width="2.5" stroke-linecap="round" opacity="0.6"/>
<path d="M300.8 188.7h0M231.5 201.0h0M296.6 211.9h0M252.8 219.9h0M278.2 232.8h0M259.5 229.0h0" stroke="#909082" stroke-width="2.2" stroke-linecap="round" opacity="0.7"/>
<path d="M273.7 221.9h0M286.1 189.8h0M277.8 194.2h0" stroke="#909082" stroke-width="3.5" stroke-linecap="round" opacity="0.6"/>
<path d="M268.2 198.8h0M268.3 231.6h0M301.4 210.1h0" stroke="#909082" stroke-width="2.2" stroke-linecap="round" opacity="0.6"/>
<path d="M251.7 179.1h0M271.0 169.2h0" stroke="#909082" stroke-width="2.8" stroke-linecap="round" opacity="0.5"/>
<path d="M260.6 159.0h0M272.3 198.5h0M280.6 153.3h0M254.4 187.6h0" stroke="#909082" stroke-width="1.3" stroke-linecap="round" opacity="0.4"/>
<path d="M248.6 196.3h0M273.4 209.7h0M249.7 230.2h0M272.0 240.2h0M262.9 214.6h0" stroke="#909082" stroke-width="2.6" stroke-linecap="round" opacity="0.5"/>
<path d="M264.1 224.0h0M286.5 200.4h0M304.7 189.9h0M266.3 218.5h0" stroke="#909082" stroke-width="3.1" stroke-linecap="round" opacity="0.4"/>
<path d="M233.6 182.1h0M287.2 202.2h0M313.2 227.1h0M313.6 210.8h0M280.2 185.6h0" stroke="#909082" stroke-width="1.9" stroke-linecap="round" opacity="0.5"/>
<path d="M278.4 181.9h0M289.3 153.5h0M233.2 214.5h0M246.7 203.3h0M288.5 182.8h0" stroke="#909082" stroke-width="1.6" stroke-linecap="round" opacity="0.5"/>
<path d="M268.1 188.6h0M298.3 215.8h0M282.8 232.8h0M274.9 175.9h0M305.7 174.5h0M235.7 232.7h0M310.3 170.0h0" stroke="#909082" stroke-width="2.0" stroke-linecap="round" opacity="0.5"/>
<path d="M274.1 213.0h0M296.9 192.8h0M309.7 190.6h0M235.7 172.1h0M293.7 223.5h0" stroke="#909082" stroke-width="2.5" stroke-linecap="round" opacity="0.4"/>
<path d="M285.1 165.1h0M286.8 215.7h0M247.2 225.3h0M314.1 198.9h0M282.8 200.5h0" stroke="#909082" stroke-width="3.1" stroke-linecap="round" opacity="0.5"/>
<path d="M256.6 222.2h0M283.5 165.5h0M269.6 191.9h0M273.7 203.9h0M272.8 246.8h0M262.4 229.3h0M276.4 192.3h0M300.0 190.5h0" stroke="#909082" stroke-width="2.2" stroke-linecap="round" opacity="0.5"/>
<path d="M285.3 192.8h0" stroke="#909082" stroke-width="1.2" stroke-linecap="round" opacity="0.8"/>
<path d="M265.8 243.1h0M234.9 203.8h0M286.5 164.7h0M285.4 171.5h0M231.7 185.0h0M238.0 226.6h0M302.2 207.3h0" stroke="#909082" stroke-width="3.4" stroke-linecap="round" opacity="0.4"/>
<path d="M274.9 192.7h0M295.2 190.2h0M294.2 172.6h0M269.1 209.7h0" stroke="#909082" stroke-width="3.4" stroke-linecap="round" opacity="0.7"/>
<path d="M282.4 219.4h0M256.1 159.3h0M269.5 172.9h0M299.5 247.0h0M264.6 192.1h0M252.8 214.2h0M230.4 247.4h0" stroke="#909082" stroke-width="2.8" stroke-linecap="round" opacity="0.6"/>
<path d="M282.5 185.4h0M253.6 203.8h0M245.3 161.2h0M266.8 189.5h0M280.7 217.7h0" stroke="#909082" stroke-width="1.8" stroke-linecap="round" opacity="0.7"/>
<path d="M227.1 206.5h0M286.5 166.4h0M231.6 203.8h0M277.3 203.2h0" stroke="#909082" stroke-width="2.0" stroke-linecap="round" opacity="0.4"/>
<path d="M225.2 189.7h0M255.0 168.7h0M255.7 225.3h0M311.2 234.4h0" stroke="#909082" stroke-width="1.6" stroke-linecap="round" opacity="0.7"/>
<path d="M313.5 177.8h0M276.6 209.5h0M289.9 170.0h0M311.8 182.4h0M242.1 195.6h0M276.8 178.7h0" stroke="#909082" stroke-width="3.2" stroke-linecap="round" opacity="0.4"/>
<path d="M236.2 162.6h0" stroke="#909082" stroke-width="1.3" stroke-linecap="round" opacity="0.5"/>
<path d="M278.9 206.9h0M281.5 186.7h0M261.2 204.6h0" stroke="#909082" stroke-width="3.5" stroke-linecap="round" opacity="0.7"/>
<path d="M280.4 221.6h0M268.2 165.8h0M265.1 221.1h0" stroke="#909082" stroke-width="1.5" stroke-linecap="round" opacity="0.6"/>
<path d="M266.6 175.1h0M287.7 213.4h0M277.9 204.9h0M237.4 246.2h0M272.9 216.4h0" stroke="#909082" stroke-width="1.4" stroke-linecap="round" opacity="0.4"/>
<path d="M269.8 229.0h0M266.0 238.0h0" stroke="#909082" stroke-width="1.5" stroke-linecap="round" opacity="0.7"/>
<path d="M243.6 153.7h0M263.7 203.1h0M299.5 231.8h0" stroke="#909082" stroke-width="3.1" stroke-linecap="round" opacity="0.7"/>
<path d="M268.6 166.7h0M256.1 221.9h0M260.6 194.7h0M243.8 237.7h0M255.0 224.6h0" stroke="#909082" stroke-width="1.4" stroke-linecap="round" opacity="0.6"/>
<path d="M236.5 233.0h0M274.6 164.8h0M271.0 224.4h0M280.0 224.8h0" stroke="#909082" stroke-width="2.8" stroke-linecap="round" opacity="0.7"/>
<path d="M230.8 183.7h0M243.4 210.0h0" stroke="#909082" stroke-width="2.6" stroke-linecap="round" opacity="0.7"/>
<path d="M272.8 216.3h0M257.4 240.0h0" stroke="#909082" stroke-width="1.8" stroke-linecap="round" opacity="0.6"/>
<path d="M272.6 174.0h0" stroke="#909082" stroke-width="2.1" stroke-linecap="round" opacity="0.5"/>
<path d="M298.4 195.5h0M294.4 198.9h0" stroke="#909082" stroke-width="3.0" stroke-linecap="round" opacity="0.4"/>
<path d="M307.6 224.5h0M237.5 156.6h0" stroke="#909082" stroke-width="3.4" stroke-linecap="round" opacity="0.6"/>
<path d="M254.3 189.6h0M262.1 204.6h0M232.5 174.8h0M282.1 217.8h0M305.5 223.0h0M294.4 186.5h0M229.2 244.4h0" stroke="#909082" stroke-width="1.7" stroke-linecap="round" opacity="0.4"/>
<path d="M252.4 240.3h0M254.3 216.0h0" stroke="#909082" stroke-width="1.5" stroke-linecap="round" opacity="0.8"/>
<path d="M237.1 204.5h0M270.6 194.6h0" stroke="#909082" stroke-width="2.3" stroke-linecap="round" opacity="0.7"/>
<path d="M286.4 170.1h0M274.4 154.2h0M270.3 213.2h0M261.1 218.6h0M248.1 209.8h0" stroke="#909082" stroke-width="2.4" stroke-linecap="round" opacity="0.7"/>
<path d="M288.3 179.4h0M296.3 214.1h0" stroke="#909082" stroke-width="3.0" stroke-linecap="round" opacity="0.8"/>
<path d="M237.9 181.1h0" stroke="#909082" stroke-width="1.2" stroke-linecap="round" opacity="0.5"/>
<path d="M244.4 211.7h0M260.5 179.9h0M275.6 218.4h0M270.6 195.8h0" stroke="#909082" stroke-width="1.7" stroke-linecap="round" opacity="0.6"/>
<path d="M281.9 193.6h0M254.8 189.5h0M250.0 185.2h0" stroke="#909082" stroke-width="3.5" stroke-linecap="round" opacity="0.5"/>
<path d="M278.1 156.7h0M282.5 196.3h0M247.2 218.4h0" stroke="#909082" stroke-width="1.9" stroke-linecap="round" opacity="0.7"/>
<path d="M247.8 200.9h0" stroke="#909082" stroke-width="2.9" stroke-linecap="round" opacity="0.7"/>
<path d="M256.9 193.3h0M244.4 198.0h0M253.2 170.2h0" stroke="#909082" stroke-width="2.7" stroke-linecap="round" opacity="0.6"/>
<path d="M251.7 236.2h0M282.5 155.9h0M246.5 220.0h0M288.2 196.1h0M290.7 212.8h0M290.0 206.9h0" stroke="#909082" stroke-width="2.6" stroke-linecap="round" opacity="0.6"/>
<path d="M270.4 175.5h0M292.1 191.0h0M279.4 177.2h0" stroke="#909082" stroke-width="1.8" stroke-linecap="round" opacity="0.5"/>
<path d="M277.3 194.5h0M290.6 208.7h0M275.3 201.4h0M294.0 221.2h0M246.9 203.5h0M296.2 244.2h0" stroke="#909082" stroke-width="2.4" stroke-linecap="round" opacity="0.5"/>
<path d="M228.8 188.5h0M291.4 217.1h0M297.5 221.0h0" stroke="#909082" stroke-width="2.0" stroke-linecap="round" opacity="0.7"/>
<path d="M279.6 158.8h0M252.5 241.6h0M252.1 193.3h0M281.2 229.4h0M264.1 239.5h0" stroke="#909082" stroke-width="1.6" stroke-linecap="round" opacity="0.4"/>
<path d="M234.9 221.4h0M296.8 211.5h0M275.2 222.9h0" stroke="#909082" stroke-width="3.2" stroke-linecap="round" opacity="0.7"/>
<path d="M273.3 193.7h0M270.5 176.2h0" stroke="#909082" stroke-width="3.1" stroke-linecap="round" opacity="0.8"/>
<path d="M283.1 229.9h0M275.4 206.2h0M261.0 194.3h0" stroke="#909082" stroke-width="1.3" stroke-linecap="round" opacity="0.6"/>
<path d="M254.9 177.6h0M280.7 184.9h0" stroke="#909082" stroke-width="2.6" stroke-linecap="round" opacity="0.8"/>
<path d="M282.9 191.2h0M269.1 179.3h0M255.9 209.6h0M247.6 235.7h0M280.3 175.6h0" stroke="#909082" stroke-width="3.1" stroke-linecap="round" opacity="0.6"/>
<path d="M295.3 207.7h0M312.3 175.3h0M318.7 227.9h0" stroke="#909082" stroke-width="1.8" stroke-linecap="round" opacity="0.4"/>
<path d="M288.2 225.8h0M270.1 215.7h0M296.3 187.8h0" stroke="#909082" stroke-width="2.9" stroke-linecap="round" opacity="0.6"/>
<path d="M238.8 217.7h0M313.2 156.2h0M260.0 168.3h0M309.2 211.6h0" stroke="#909082" stroke-width="1.9" stroke-linecap="round" opacity="0.6"/>
<path d="M273.2 173.7h0M306.8 244.5h0M272.0 217.5h0M231.4 207.1h0M268.3 218.6h0" stroke="#909082" stroke-width="1.6" stroke-linecap="round" opacity="0.8"/>
<path d="M256.8 189.5h0" stroke="#909082" stroke-width="1.2" stroke-linecap="round" opacity="0.4"/>
<path d="M275.0 185.8h0M245.6 161.9h0M251.9 229.1h0M240.4 182.1h0" stroke="#909082" stroke-width="2.3" stroke-linecap="round" opacity="0.4"/>
<path d="M284.4 202.2h0M272.5 208.2h0M265.9 205.2h0" stroke="#909082" stroke-width="1.6" stroke-linecap="round" opacity="0.6"/>
<path d="M277.2 202.0h0" stroke="#909082" stroke-width="2.3" stroke-linecap="round" opacity="0.5"/>
<path d="M286.5 193.0h0M282.8 213.8h0M262.2 221.4h0" stroke="#909082" stroke-width="3.0" stroke-linecap="round" opacity="0.7"/>
<path d="M288.9 171.7h0M252.6 234.1h0M260.7 225.8h0M289.3 192.8h0" stroke="#909082" stroke-width="3.4" stroke-linecap="round" opacity="0.5"/>
<path d="M265.7 175.1h0M230.9 216.9h0" stroke="#909082" stroke-width="2.4" stroke-linecap="round" opacity="0.4"/>
<path d="M295.6 211.5h0M281.3 173.0h0M282.2 247.3h0M268.3 222.3h0M249.0 197.4h0" stroke="#909082" stroke-width="3.5" stroke-linecap="round" opacity="0.4"/>
<path d="M268.6 198.0h0M264.3 197.7h0M237.9 202.1h0" stroke="#909082" stroke-width="1.8" stroke-linecap="round" opacity="0.8"/>
<path d="M277.4 223.5h0" stroke="#909082" stroke-width="3.6" stroke-linecap="round" opacity="0.5"/>
<path d="M226.2 161.0h0M273.2 188.6h0M289.1 214.9h0" stroke="#909082" stroke-width="2.5" stroke-linecap="round" opacity="0.5"/>
<path d="M268.2 178.6h0M243.5 191.7h0" stroke="#909082" stroke-width="2.4" stroke-linecap="round" opacity="0.6"/>
<path d="M248.0 235.4h0M234.3 219.7h0" stroke="#909082" stroke-width="3.0" stroke-linecap="round" opacity="0.5"/>
<path d="M297.2 236.2h0M251.0 201.6h0" stroke="#909082" stroke-width="2.9" stroke-linecap="round" opacity="0.8"/>
<path d="M265.6 228.3h0M286.7 191.3h0" stroke="#909082" stroke-width="3.3" stroke-linecap="round" opacity="0.7"/>
<path d="M317.2 194.1h0M302.1 156.1h0" stroke="#909082" stroke-width="3.6" stroke-linecap="round" opacity="0.4"/>
<path d="M303.0 210.3h0M238.4 195.0h0" stroke="#909082" stroke-width="1.4" stroke-linecap="round" opacity="0.5"/>
<path d="M298.5 207.5h0M260.0 158.8h0" stroke="#909082" stroke-width="2.7" stroke-linecap="round" opacity="0.7"/>
<path d="M279.9 214.5h0" stroke="#909082" stroke-width="2.8" stroke-linecap="round" opacity="0.8"/>
<path d="M229.7 193.0h0M268.1 216.4h0" stroke="#909082" stroke-width="3.2" stroke-linecap="round" opacity="0.6"/>
<path d="M273.1 197.5h0M305.9 232.2h0M251.7 231.5h0M254.8 196.9h0M288.9 188.5h0" stroke="#909082" stroke-width="1.9" stroke-linecap="round" opacity="0.8"/>
<path d="M273.0 183.8h0M251.5 209.2h0M268.7 194.7h0" stroke="#909082" stroke-width="1.7" stroke-linecap="round" opacity="0.7"/>
<path d="M262.9 208.3h0M316.9 176.3h0M287.8 200.0h0" stroke="#909082" stroke-width="2.1" stroke-linecap="round" opacity="0.8"/>
<path d="M261.1 246.0h0M296.2 165.8h0M260.3 187.3h0" stroke="#909082" stroke-width="2.1" stroke-linecap="round" opacity="0.4"/>
<path d="M241.3 156.8h0M234.8 189.4h0M249.5 218.4h0M271.9 213.4h0M289.9 196.6h0" stroke="#909082" stroke-width="2.6" stroke-linecap="round" opacity="0.4"/>
<path d="M296.0 185.4h0" stroke="#909082" stroke-width="2.8" stroke-linecap="round" opacity="0.4"/>
<path d="M290.5 182.6h0" stroke="#909082" stroke-width="2.3" stroke-linecap="round" opacity="0.8"/>
<path d="M303.6 219.6h0" stroke="#909082" stroke-width="1.3" stroke-linecap="round" opacity="0.8"/>
<path d="M264.8 183.1h0" stroke="#909082" stroke-width="3.2" stroke-linecap="round" opacity="0.8"/>
<path d="M308.0 204.3h0M277.8 217.5h0M270.3 153.7h0" stroke="#909082" stroke-width="3.6" stroke-linecap="round" opacity="0.7"/>
<path d="M282.5 242.5h0" stroke="#909082" stroke-width="2.4" stroke-linecap="round" opacity="0.8"/>
<path d="M280.4 170.6h0M295.2 176.8h0" stroke="#909082" stroke-width="1.4" stroke-linecap="round" opacity="0.8"/>
<path d="M295.9 187.7h0" stroke="#909082" stroke-width="1.2" stroke-linecap="round" opacity="0.6"/>
<path d="M274.8 199.3h0M245.7 167.3h0" stroke="#909082" stroke-width="1.4" stroke-linecap="round" opacity="0.7"/>
<path d="M283.1 214.3h0M281.3 206.0h0" stroke="#909082" stroke-width="3.2" stroke-linecap="round" opacity="0.5"/>
<path d="M249.7 165.6h0M259.6 171.2h0M253.4 209.8h0M255.0 180.8h0M279.5 175.6h0M311.4 232.8h0M263.3 157.2h0M307.3 225.0h0M313.3 170.4h0M259.8 186.7h0M240.0 187.5h0M316.9 225.0h0M244.8 224.8h0M253.5 238.7h0M251.9 245.9h0M286.3 173.2h0M245.3 175.1h0M317.2 163.5h0M314.8 154.8h0M263.8 233.4h0M283.1 164.9h0M300.5 197.8h0M231.8 177.0h0M280.4 186.0h0M302.5 207.9h0M238.9 212.2h0M231.9 199.1h0M239.5 175.4h0M270.5 191.3h0M230.8 235.4h0M285.1 168.1h0M277.1 236.0h0M252.7 194.5h0M268.3 164.5h0M246.3 237.0h0M236.3 234.7h0M291.6 246.7h0M298.4 181.4h0M253.8 159.8h0M274.4 224.4h0M248.2 174.0h0M279.5 197.0h0M284.5 180.5h0M301.2 166.6h0M289.3 215.7h0M260.0 219.9h0M300.7 223.4h0M277.8 246.4h0M291.8 210.3h0M253.1 222.9h0M267.3 176.2h0M288.5 186.4h0M310.4 240.1h0M259.1 157.7h0M232.8 230.5h0M267.5 244.8h0M277.1 212.2h0M243.1 230.8h0M247.7 183.0h0M244.0 169.2h0M293.8 227.6h0M287.6 169.4h0M256.3 181.7h0M246.3 195.3h0M254.6 246.5h0M307.2 193.3h0M232.7 192.5h0M244.7 190.9h0M232.4 154.6h0M292.8 168.2h0M267.5 178.9h0M247.6 188.7h0M264.1 195.0h0M233.7 225.8h0M279.9 206.1h0M280.7 210.0h0M294.9 200.2h0M275.0 182.7h0M307.3 198.2h0M310.2 227.6h0M253.6 172.7h0M254.8 182.0h0M305.7 233.5h0M279.0 213.7h0M232.7 154.4h0M266.3 223.0h0M274.8 208.7h0M305.7 172.4h0M283.7 181.8h0M284.9 200.0h0M237.3 226.5h0M313.7 216.6h0M318.0 230.7h0M271.8 197.8h0M236.4 210.5h0M288.9 206.1h0M312.3 212.9h0M309.7 184.5h0M239.7 186.7h0M296.7 202.9h0M293.0 201.1h0M318.8 172.5h0M271.2 192.5h0M258.0 175.5h0M305.3 237.6h0M287.3 238.9h0M271.0 177.4h0M316.9 229.3h0M270.3 223.9h0M290.6 167.4h0M309.6 178.0h0M300.8 156.8h0M290.3 176.0h0M306.1 230.5h0M232.1 210.5h0M256.6 197.7h0M228.8 173.5h0M274.4 159.8h0M284.9 243.0h0M267.8 222.4h0M278.5 162.2h0M308.7 178.2h0M238.2 198.8h0M281.0 199.2h0M244.3 237.6h0M318.1 218.2h0M309.2 233.4h0M258.1 195.7h0M280.9 209.1h0M250.5 214.6h0M254.6 205.3h0M287.7 164.0h0M314.0 240.7h0M260.3 217.7h0M246.5 195.6h0M243.1 224.8h0M316.0 163.8h0M317.6 173.5h0M316.0 167.4h0M253.8 185.5h0M258.4 206.6h0M266.5 223.7h0M281.1 195.6h0M253.8 170.7h0M256.0 193.4h0M304.9 220.9h0M236.5 220.2h0M299.3 234.1h0M275.4 208.1h0M246.2 176.7h0M266.0 204.7h0M318.5 186.4h0M289.8 161.9h0M293.2 175.1h0M280.0 171.5h0M263.8 220.9h0M312.7 200.0h0M307.9 194.7h0M298.9 218.4h0M259.6 183.3h0M289.4 206.6h0M262.1 195.9h0M243.4 205.4h0M308.0 200.8h0M247.1 169.5h0M304.3 246.1h0M249.2 154.0h0M247.7 224.3h0M252.9 177.5h0" stroke="#909082" stroke-width="1.2" stroke-linecap="round" opacity="0.35"/>
<path d="M310.1 177.8h0M312.9 212.3h0M247.6 172.1h0M272.8 204.0h0M238.4 180.1h0M264.4 187.6h0M242.0 228.7h0M257.7 192.2h0M280.1 235.6h0M233.7 188.8h0M239.5 185.6h0M296.2 179.4h0M249.8 176.4h0M237.5 239.5h0M261.2 202.6h0M232.9 230.7h0M317.7 216.7h0M277.4 194.0h0M305.3 197.0h0M235.9 204.6h0M310.6 235.0h0M318.0 245.1h0M299.4 172.0h0M316.7 196.2h0M298.2 163.3h0M288.2 233.4h0M253.3 216.9h0M227.5 163.4h0M307.4 234.2h0M244.9 226.6h0M283.7 210.4h0M227.6 189.6h0M276.1 235.2h0M233.4 241.0h0M260.8 243.9h0M232.0 209.1h0M305.8 193.8h0M289.1 214.1h0M251.3 184.2h0M244.3 220.6h0M307.6 242.3h0M237.9 191.2h0M265.9 200.4h0M232.0 164.0h0M299.1 157.4h0M260.0 184.6h0M310.1 169.9h0M257.2 169.7h0M252.3 162.4h0M235.4 245.8h0M299.3 224.6h0M266.4 247.6h0M305.5 220.0h0M301.1 198.2h0M287.3 157.8h0M303.2 179.0h0M253.6 238.0h0M281.5 217.2h0M236.7 206.9h0M265.1 227.8h0M239.8 232.3h0M245.9 160.4h0M299.0 210.6h0M315.7 225.6h0M249.3 185.9h0M282.6 217.9h0M257.1 243.9h0M238.5 242.6h0M230.0 193.7h0M313.2 214.8h0M260.0 213.5h0M267.7 213.2h0M303.5 193.2h0M258.0 183.6h0M302.9 194.0h0M302.4 169.6h0M279.8 171.1h0M243.4 229.6h0M268.6 219.0h0M258.8 223.8h0M302.5 164.4h0M293.6 153.4h0M262.4 187.0h0M247.3 171.1h0M290.7 180.6h0M270.7 237.5h0M318.5 223.5h0M280.4 179.1h0M291.6 235.3h0M254.6 209.7h0M253.4 179.3h0M303.9 203.1h0M248.2 231.1h0M304.1 213.7h0M253.5 235.4h0M274.7 155.2h0M282.1 243.7h0M293.0 224.3h0M298.2 185.4h0M244.6 222.4h0M290.6 239.3h0M231.9 204.7h0M250.6 173.2h0M314.4 207.5h0M252.1 188.4h0M263.6 230.1h0M256.4 207.5h0M272.7 160.3h0M227.6 198.0h0M301.4 172.2h0M280.3 211.4h0M282.7 231.9h0M295.2 177.6h0M317.5 244.9h0M293.3 164.1h0M232.9 161.5h0M265.7 162.3h0M313.3 246.5h0M273.1 205.1h0M301.0 160.8h0M232.6 242.0h0M234.7 233.2h0M281.2 157.0h0M268.1 225.9h0M274.5 182.0h0M305.5 246.3h0M244.1 208.5h0M252.5 155.5h0M282.3 171.0h0M304.7 208.6h0M289.2 173.9h0M259.4 238.9h0M261.3 217.6h0M305.8 158.0h0M245.9 180.6h0M300.2 245.2h0M293.6 163.2h0M314.8 223.7h0M302.1 180.8h0M292.7 177.2h0M296.7 203.0h0M238.2 183.0h0M287.7 205.9h0M266.2 169.8h0M251.7 200.8h0M292.7 243.5h0M246.9 195.7h0M265.8 155.3h0M229.5 216.4h0M260.1 217.2h0M280.9 233.9h0M286.9 191.4h0M311.4 197.7h0M242.6 177.0h0M282.3 192.1h0M271.6 153.7h0M260.9 154.5h0M240.2 213.7h0M288.5 236.5h0M287.8 204.5h0M262.2 213.7h0M284.8 246.2h0M241.6 165.3h0M288.7 200.9h0" stroke="#909082" stroke-width="0.8" stroke-linecap="round" opacity="0.35"/>
<path d="M267.7 206.6h0M288.0 153.1h0M268.2 206.5h0M305.6 202.2h0M259.2 203.9h0M302.1 170.0h0M239.9 161.9h0M295.5 174.7h0M257.9 227.4h0M279.4 167.1h0M287.9 191.4h0M290.6 211.6h0M232.4 194.2h0M312.1 219.0h0M315.9 175.1h0M225.1 214.5h0M249.8 166.0h0M295.5 191.4h0M317.9 225.0h0M259.0 228.1h0M285.7 214.2h0M243.2 218.8h0M276.3 241.9h0M288.5 208.6h0M283.6 182.8h0M258.4 238.0h0M275.1 161.2h0M301.9 172.6h0M291.0 206.2h0M266.8 161.3h0M250.2 164.9h0M301.1 169.7h0M301.8 230.6h0M269.2 219.2h0M232.3 239.0h0M280.6 158.9h0M254.7 159.5h0M225.7 241.3h0M292.1 189.4h0M257.3 233.0h0M244.2 223.1h0M283.9 167.7h0M232.8 208.4h0M288.0 244.5h0M225.3 169.3h0M254.7 163.1h0M282.3 177.6h0M252.9 247.7h0M303.6 220.4h0M240.3 163.3h0M292.2 173.1h0M317.3 217.3h0M292.8 157.0h0M273.8 211.1h0M239.5 153.5h0M284.0 212.3h0M269.6 198.4h0M225.8 233.5h0M248.3 183.6h0M313.8 185.3h0M286.4 219.6h0M241.4 232.3h0M241.2 243.0h0M233.9 243.8h0M243.5 213.2h0M226.1 227.8h0M229.6 196.1h0M290.5 177.7h0M243.6 239.5h0M273.0 217.1h0M275.5 173.5h0M304.3 201.8h0M266.2 234.4h0M265.2 244.6h0M277.1 179.8h0M257.9 155.3h0M234.3 207.7h0M252.5 231.3h0M270.9 201.7h0M277.1 209.7h0M287.1 231.4h0M290.6 188.7h0M242.3 176.6h0M257.8 171.2h0M272.2 225.6h0M225.7 154.7h0M233.4 209.0h0M237.4 219.0h0M288.4 214.9h0M252.0 239.1h0M293.8 192.7h0M274.3 186.8h0M229.6 180.0h0M277.9 175.0h0M249.8 227.0h0M286.7 165.6h0M309.0 192.9h0M295.3 165.7h0M265.3 156.2h0M269.6 205.5h0M233.5 244.7h0M262.6 223.6h0M260.3 224.6h0M269.5 224.9h0M250.2 183.6h0M257.8 234.0h0M263.0 170.6h0M295.5 204.7h0M234.4 246.0h0M303.3 180.3h0M307.8 175.7h0M259.4 212.4h0M282.0 189.9h0M246.2 228.8h0M235.0 237.9h0M285.2 155.9h0M302.8 194.9h0M306.0 187.8h0M291.0 157.9h0M259.7 165.2h0M275.0 212.5h0M244.0 201.2h0M267.5 188.6h0M240.9 160.1h0M253.6 167.2h0M304.9 211.8h0M257.8 153.3h0M283.8 165.6h0M267.7 208.6h0M251.3 225.1h0M243.1 191.0h0M246.5 179.3h0M252.1 203.5h0M273.3 203.5h0M239.6 157.7h0M231.4 227.3h0M292.9 213.7h0M266.2 188.3h0M249.3 169.4h0M285.2 238.0h0M260.5 221.1h0M241.2 244.4h0M315.6 229.5h0M251.2 156.3h0M301.5 208.9h0M281.3 213.3h0M256.8 214.1h0M309.6 211.1h0M275.0 199.4h0M245.6 160.7h0M293.7 177.6h0M280.6 161.4h0M240.5 159.8h0M312.4 235.7h0M275.3 247.5h0M282.9 164.2h0M288.4 246.8h0M276.0 155.3h0M313.6 206.8h0M253.4 217.0h0M313.9 241.9h0M278.0 194.6h0M246.4 246.0h0M280.1 233.9h0M292.1 161.6h0M292.2 220.8h0M276.0 198.2h0" stroke="#909082" stroke-width="1.0" stroke-linecap="round" opacity="0.35"/>
<path d="M259.4,196.0C258.4,197.4 256.5,197.9 255.3,198.4C254.0,199.0 253.0,199.4 252.1,199.3C251.2,199.1 250.1,198.4 249.8,197.5C249.5,196.5 249.9,194.7 250.4,193.3C250.8,192.0 251.5,190.4 252.4,189.2C253.3,188.0 254.9,186.6 256.0,186.2C257.1,185.9 258.3,186.5 259.2,187.2C260.0,187.9 261.1,189.0 261.1,190.5C261.2,191.9 260.4,194.7 259.4,196.0Z" opacity="0.92"/>
<path d="M276.9,187.9C276.8,189.3 276.8,191.2 276.3,192.1C275.8,193.0 274.8,193.0 273.9,193.2C273.1,193.5 272.0,194.4 271.4,193.7C270.8,193.1 270.6,191.0 270.4,189.5C270.3,188.1 270.2,186.1 270.6,184.9C270.9,183.6 271.9,182.5 272.7,181.9C273.4,181.2 274.4,180.5 275.1,180.8C275.9,181.1 276.8,182.3 277.1,183.5C277.3,184.7 277.1,186.4 276.9,187.9Z" opacity="0.92"/>
<path d="M276.6,215.3C276.8,216.3 276.2,217.9 275.4,218.7C274.6,219.5 272.8,219.8 271.6,220.0C270.4,220.2 269.3,220.3 268.3,220.1C267.2,219.9 265.9,219.5 265.2,218.8C264.5,218.1 263.8,216.7 264.1,215.8C264.5,214.9 266.1,214.2 267.1,213.6C268.2,213.0 269.2,212.3 270.3,212.1C271.4,212.0 273.0,212.2 274.0,212.7C275.1,213.2 276.3,214.3 276.6,215.3Z" opacity="0.92"/>
<path d="M254.5,208.7C254.5,209.7 254.1,211.1 253.5,211.8C252.8,212.4 251.6,212.5 250.6,212.7C249.6,212.9 248.2,213.4 247.5,212.9C246.8,212.5 246.7,210.9 246.5,210.0C246.3,209.1 246.2,208.2 246.5,207.4C246.7,206.6 247.2,205.6 247.9,205.1C248.6,204.5 249.8,203.8 250.7,204.0C251.6,204.1 252.7,205.0 253.3,205.8C253.9,206.6 254.5,207.7 254.5,208.7Z" opacity="0.92"/>
<path d="M262.1,222.2C262.2,223.0 262.0,224.3 261.5,224.9C261.0,225.5 260.0,225.4 259.1,225.7C258.2,226.0 256.8,227.1 256.1,226.8C255.4,226.4 254.9,224.6 254.8,223.7C254.7,222.7 255.1,221.8 255.4,221.0C255.7,220.1 256.0,219.2 256.6,218.7C257.3,218.2 258.5,217.7 259.2,217.9C259.9,218.1 260.4,219.3 260.9,220.0C261.4,220.7 262.0,221.4 262.1,222.2Z" opacity="0.92"/>
<path d="M276.8,203.0C276.8,203.6 276.5,204.2 276.1,204.8C275.7,205.5 275.2,206.6 274.6,206.7C273.9,206.9 273.0,206.0 272.4,205.6C271.8,205.1 271.2,204.7 270.9,204.1C270.6,203.4 270.2,202.4 270.4,201.7C270.6,201.1 271.5,200.4 272.2,200.0C272.8,199.7 273.8,199.5 274.5,199.7C275.1,199.9 275.7,200.6 276.1,201.2C276.5,201.7 276.8,202.4 276.8,203.0Z" opacity="0.92"/>
<path d="M286.7,203.0C286.7,203.5 285.9,204.2 285.4,204.6C284.9,205.0 284.4,205.1 283.9,205.1C283.4,205.2 282.9,205.2 282.4,205.0C281.8,204.8 280.9,204.5 280.7,204.0C280.5,203.5 280.8,202.6 281.1,202.1C281.3,201.6 281.8,201.2 282.3,200.8C282.7,200.5 283.5,200.0 284.0,200.1C284.5,200.2 284.9,201.0 285.3,201.5C285.8,202.0 286.7,202.5 286.7,203.0Z" opacity="0.92"/>
<path d="M297.7,207.8C297.8,208.7 297.4,210.2 296.7,210.7C296.0,211.2 294.6,210.7 293.7,210.7C292.8,210.8 292.0,211.4 291.2,211.2C290.5,210.9 289.5,209.9 289.4,209.2C289.2,208.5 290.1,207.6 290.4,206.8C290.7,206.0 290.6,204.7 291.2,204.3C291.8,203.9 293.0,204.2 293.8,204.4C294.6,204.5 295.6,204.7 296.2,205.2C296.9,205.8 297.7,206.9 297.7,207.8Z" opacity="0.92"/>
<path d="M301.2,203.0C301.2,203.7 301.6,204.6 301.3,205.0C301.0,205.5 300.0,205.4 299.3,205.5C298.7,205.6 297.9,205.8 297.4,205.6C296.9,205.4 296.3,204.6 296.1,204.0C296.0,203.4 296.1,202.6 296.3,202.1C296.6,201.6 297.3,201.3 297.8,201.0C298.3,200.8 298.8,200.6 299.3,200.6C299.9,200.7 300.8,200.7 301.1,201.1C301.5,201.5 301.1,202.3 301.2,203.0Z" opacity="0.92"/>
<path d="M291.5,222.2C291.5,222.8 290.9,223.6 290.4,224.1C290.0,224.7 289.5,225.1 288.8,225.4C288.2,225.6 287.2,225.8 286.5,225.5C285.9,225.2 284.8,224.3 284.7,223.6C284.5,222.9 285.3,221.9 285.6,221.2C286.0,220.4 286.2,219.7 286.7,219.3C287.3,218.9 288.3,218.3 288.9,218.5C289.5,218.7 289.9,219.7 290.3,220.4C290.8,221.0 291.5,221.6 291.5,222.2Z" opacity="0.92"/>
<path d="M286.7,230.8C286.7,231.4 286.4,232.3 285.9,232.8C285.5,233.4 284.7,233.8 284.0,233.9C283.4,234.0 282.4,233.9 281.9,233.6C281.4,233.2 281.1,232.3 281.0,231.7C280.9,231.1 281.2,230.6 281.3,230.0C281.5,229.4 281.4,228.4 281.9,228.0C282.3,227.7 283.4,227.6 284.0,227.8C284.7,228.0 285.2,228.5 285.7,229.0C286.1,229.5 286.6,230.2 286.7,230.8Z" opacity="0.92"/>
<path d="M249.7,220.3C249.8,220.9 249.9,221.9 249.5,222.4C249.1,222.9 248.1,223.1 247.5,223.1C246.9,223.1 246.2,222.8 245.7,222.5C245.2,222.2 244.5,221.8 244.3,221.3C244.1,220.8 244.5,220.0 244.7,219.5C245.0,219.0 245.4,218.5 245.8,218.2C246.3,218.0 246.9,217.9 247.4,217.9C248.0,218.0 248.7,218.2 249.1,218.6C249.5,218.9 249.6,219.7 249.7,220.3Z" opacity="0.92"/>
<path d="M286.5,185.7C286.6,186.3 286.5,187.2 286.0,187.6C285.6,188.1 284.6,188.2 284.0,188.2C283.4,188.2 282.9,187.8 282.3,187.6C281.7,187.3 280.6,187.2 280.4,186.7C280.2,186.3 280.9,185.4 281.2,184.9C281.5,184.5 282.0,184.2 282.4,184.0C282.9,183.8 283.4,183.6 283.9,183.7C284.4,183.7 285.0,183.9 285.5,184.2C285.9,184.5 286.4,185.1 286.5,185.7Z" opacity="0.92"/>
<path d="M243.7,197.2C243.7,197.7 243.4,198.4 243.1,198.8C242.7,199.2 242.1,199.5 241.6,199.5C241.1,199.5 240.6,199.2 240.2,199.0C239.8,198.7 239.4,198.4 239.1,197.9C238.9,197.5 238.7,196.8 238.9,196.3C239.0,195.9 239.5,195.1 239.9,195.0C240.4,194.8 241.0,195.2 241.5,195.3C242.1,195.4 242.8,195.3 243.1,195.6C243.5,195.9 243.7,196.7 243.7,197.2Z" opacity="0.92"/>
<path d="M308.8,190.5C308.9,191.0 308.8,191.8 308.5,192.1C308.1,192.3 307.4,192.1 306.9,192.1C306.4,192.2 305.8,192.6 305.5,192.5C305.1,192.3 304.8,191.7 304.7,191.2C304.5,190.8 304.3,190.1 304.5,189.7C304.7,189.4 305.3,189.3 305.8,189.0C306.2,188.8 306.6,188.2 307.0,188.2C307.4,188.3 307.9,188.8 308.2,189.2C308.5,189.5 308.8,190.0 308.8,190.5Z" opacity="0.92"/>
<path d="M274.9,169.3C274.9,169.7 274.6,170.0 274.3,170.3C274.1,170.7 273.8,171.2 273.4,171.3C273.0,171.5 272.3,171.3 271.9,171.1C271.5,170.9 270.9,170.4 270.8,170.0C270.7,169.7 271.1,169.1 271.3,168.7C271.5,168.3 271.6,167.8 272.0,167.6C272.3,167.4 272.9,167.3 273.4,167.3C273.8,167.4 274.4,167.7 274.6,168.0C274.9,168.3 275.0,168.9 274.9,169.3Z" opacity="0.92"/>
<path d="M265.6,176.0C265.6,176.4 265.0,176.8 264.7,177.2C264.4,177.5 264.1,178.1 263.7,178.1C263.3,178.2 262.9,177.8 262.4,177.5C262.0,177.3 261.3,177.2 261.1,176.8C260.8,176.4 260.9,175.7 261.1,175.2C261.2,174.7 261.7,174.2 262.1,174.0C262.6,173.7 263.3,173.4 263.7,173.5C264.2,173.7 264.4,174.4 264.7,174.8C265.1,175.2 265.6,175.6 265.6,176.0Z" opacity="0.92"/>
<path d="M252.5,165.5C252.5,165.9 252.7,166.6 252.5,166.8C252.3,167.1 251.6,167.2 251.1,167.2C250.7,167.2 250.2,167.2 249.9,167.0C249.5,166.9 249.0,166.5 248.9,166.2C248.8,165.8 249.0,165.3 249.1,164.9C249.3,164.6 249.5,164.2 249.9,164.0C250.2,163.7 250.8,163.3 251.2,163.3C251.6,163.4 252.1,163.9 252.4,164.3C252.6,164.6 252.5,165.1 252.5,165.5Z" opacity="0.92"/>
<path d="M239.7,155.8C239.6,156.2 239.0,156.5 238.7,156.8C238.4,157.2 238.2,157.8 237.8,157.9C237.4,158.0 236.7,157.7 236.4,157.4C236.1,157.2 236.0,156.8 235.8,156.4C235.6,156.0 235.0,155.4 235.2,155.0C235.3,154.7 236.1,154.6 236.5,154.4C237.0,154.3 237.3,154.2 237.7,154.2C238.1,154.2 238.8,154.1 239.2,154.4C239.5,154.7 239.8,155.4 239.7,155.8Z" opacity="0.92"/>
<path d="M297.7,193.3C297.7,194.0 297.7,195.3 297.5,195.7C297.3,196.1 296.6,195.7 296.2,195.7C295.9,195.7 295.6,195.9 295.3,195.7C295.0,195.5 294.4,195.0 294.3,194.5C294.2,193.9 294.5,193.1 294.6,192.4C294.8,191.6 294.8,190.6 295.1,190.2C295.4,189.9 296.0,190.0 296.3,190.2C296.6,190.5 296.8,191.2 297.0,191.7C297.2,192.2 297.6,192.6 297.7,193.3Z" opacity="0.92"/>
<path d="M264.3,232.0C264.2,232.4 263.8,232.9 263.5,233.3C263.2,233.6 262.8,234.0 262.4,234.1C262.0,234.1 261.4,233.8 261.1,233.6C260.8,233.3 260.5,233.0 260.4,232.6C260.2,232.2 260.2,231.8 260.3,231.4C260.4,231.0 260.7,230.5 261.0,230.3C261.3,230.1 261.9,230.2 262.3,230.2C262.8,230.2 263.4,230.3 263.7,230.6C264.0,230.9 264.3,231.6 264.3,232.0Z" opacity="0.92"/>
<path d="M302.4,225.0C302.4,225.5 302.3,226.3 302.0,226.6C301.6,227.0 300.9,227.0 300.4,227.0C299.8,227.0 299.3,227.1 298.9,226.9C298.5,226.7 298.0,226.2 297.9,225.8C297.7,225.3 297.9,224.7 298.0,224.3C298.2,223.8 298.5,223.2 298.8,223.0C299.2,222.8 299.8,223.1 300.3,223.2C300.8,223.3 301.4,223.2 301.7,223.5C302.1,223.8 302.4,224.5 302.4,225.0Z" opacity="0.92"/>
<path d="M246.3,232.0C246.3,232.4 246.1,233.2 245.7,233.5C245.4,233.8 244.7,233.8 244.3,233.8C243.9,233.8 243.6,233.5 243.2,233.4C242.8,233.2 242.1,233.1 241.8,232.8C241.6,232.4 241.8,231.6 242.0,231.3C242.2,230.9 242.8,230.7 243.2,230.6C243.6,230.4 244.0,230.1 244.3,230.2C244.7,230.2 245.0,230.6 245.3,230.9C245.7,231.2 246.2,231.6 246.3,232.0Z" opacity="0.92"/>
<path d="M307.3,212.0C307.2,212.5 306.7,212.8 306.4,213.2C306.1,213.5 305.8,214.1 305.4,214.1C305.0,214.2 304.4,213.9 304.1,213.6C303.7,213.4 303.4,213.0 303.3,212.6C303.1,212.3 303.0,211.7 303.1,211.3C303.2,210.9 303.5,210.3 303.9,210.0C304.2,209.8 304.9,209.8 305.4,209.9C305.9,209.9 306.5,210.1 306.8,210.5C307.2,210.8 307.4,211.5 307.3,212.0Z" opacity="0.92"/>
</g></g>
<line x1="372.5" y1="148.3" x2="372.5" y2="247" stroke="#8a8a8a" stroke-width="0.9"/>
<line x1="372.5" y1="247" x2="518" y2="247" stroke="#8a8a8a" stroke-width="0.9"/>
<line x1="370.5" y1="247.0" x2="372.5" y2="247.0" stroke="#8a8a8a" stroke-width="0.8"/>
<text x="367" y="248.8" font-size="5" text-anchor="end" fill="#555" transform="translate(367 248.8) scale(1 1.11) translate(-367 -248.8)">0</text>
<line x1="370.5" y1="227.26" x2="372.5" y2="227.26" stroke="#8a8a8a" stroke-width="0.8"/>
<text x="367" y="229.06" font-size="5" text-anchor="end" fill="#555" transform="translate(367 229.06) scale(1 1.11) translate(-367 -229.06)">500</text>
<line x1="370.5" y1="207.51999999999998" x2="372.5" y2="207.51999999999998" stroke="#8a8a8a" stroke-width="0.8"/>
<text x="367" y="209.32" font-size="5" text-anchor="end" fill="#555" transform="translate(367 209.32) scale(1 1.11) translate(-367 -209.32)">1000</text>
<line x1="370.5" y1="187.78" x2="372.5" y2="187.78" stroke="#8a8a8a" stroke-width="0.8"/>
<text x="367" y="189.58" font-size="5" text-anchor="end" fill="#555" transform="translate(367 189.58) scale(1 1.11) translate(-367 -189.58)">1500</text>
<line x1="370.5" y1="168.04" x2="372.5" y2="168.04" stroke="#8a8a8a" stroke-width="0.8"/>
<text x="367" y="169.84" font-size="5" text-anchor="end" fill="#555" transform="translate(367 169.84) scale(1 1.11) translate(-367 -169.84)">2000</text>
<line x1="370.5" y1="148.3" x2="372.5" y2="148.3" stroke="#8a8a8a" stroke-width="0.8"/>
<text x="367" y="150.10000000000002" font-size="5" text-anchor="end" fill="#555" transform="translate(367 150.10000000000002) scale(1 1.11) translate(-367 -150.10000000000002)">2500</text>
<line x1="397.1" y1="195.2812" x2="397.1" y2="191.3332" stroke="#777" stroke-width="0.8"/>
<line x1="395.90000000000003" y1="191.3332" x2="398.3" y2="191.3332" stroke="#777" stroke-width="0.8"/>
<rect x="381.9" y="195.68120000000002" width="30.4" height="51.3188" fill="#ffffff" stroke="#6a6a6a" stroke-width="0.8"/>
<line x1="445.70000000000005" y1="185.4112" x2="445.70000000000005" y2="181.4632" stroke="#777" stroke-width="0.8"/>
<line x1="444.50000000000006" y1="181.4632" x2="446.90000000000003" y2="181.4632" stroke="#777" stroke-width="0.8"/>
<rect x="430.5" y="185.8112" width="30.4" height="61.1888" fill="#bcbcbc" stroke="#777" stroke-width="0.8"/>
<line x1="493.7" y1="168.04" x2="493.7" y2="164.4868" stroke="#777" stroke-width="0.8"/>
<line x1="492.5" y1="164.4868" x2="494.9" y2="164.4868" stroke="#777" stroke-width="0.8"/>
<rect x="478.29999999999995" y="168.44" width="30.8" height="78.56" fill="#000000" stroke="#000" stroke-width="0.8"/>
<path d="M446.7,160.9 Q446.7,157.4 448.3,157.4 L469.2,157.4 Q470.2,157.4 470.2,153.8 Q470.2,157.4 471.2,157.4 L492.1,157.4 Q493.7,157.4 493.7,160.9" fill="none" stroke="#3a3a3a" stroke-width="0.95"/>
<text x="470.2" y="157.4" font-size="10" font-weight="bold" stroke="#000" stroke-width="0.25" text-anchor="middle" fill="#000" transform="translate(470.2 157.4) scale(1 1.11) translate(-470.2 -157.4)"></text>
<line x1="493.7" y1="160" x2="493.7" y2="165.5" stroke="#777" stroke-width="0.8"/>
<text x="470.3" y="155.15" font-size="15" font-weight="bold" stroke="#000" stroke-width="0.25" text-anchor="middle" fill="#000" transform="translate(470.3 155.15) scale(1 1.11) translate(-470.3 -155.15)">*</text>
<text x="337.8" y="197" font-size="10.3" font-weight="bold" stroke="#000" stroke-width="0.25" text-anchor="middle" fill="#000" transform="translate(337.8 197) scale(0.9009 1) rotate(-90) translate(-337.8 -197)">Average cell counts</text>
<text x="351.2" y="196" font-size="10.3" font-weight="bold" stroke="#000" stroke-width="0.25" text-anchor="middle" fill="#000" transform="translate(351.2 196) scale(0.9009 1) rotate(-90) translate(-351.2 -196)">per spleen BFU-E</text>
<rect x="381.0" y="140.1" width="50" height="33.3" fill="#fff" stroke="#333" stroke-width="1"/>
<rect x="383.3" y="144.8" width="6" height="4" fill="#fff" stroke="#222" stroke-width="1"/>
<text x="393.8" y="149.68" font-size="8" text-anchor="start" fill="#000" transform="translate(393.8 149.68) scale(1 1.11) translate(-393.8 -149.68)">wt, n=3</text>
<rect x="383.3" y="154.2" width="6" height="4" fill="#bcbcbc" stroke="#222" stroke-width="1"/>
<text x="393.8" y="159.07999999999998" font-size="8" text-anchor="start" fill="#000" transform="translate(393.8 159.07999999999998) scale(1 1.11) translate(-393.8 -159.07999999999998)">het, n=3</text>
<rect x="383.3" y="163.6" width="6" height="4" fill="#000" stroke="#222" stroke-width="1"/>
<text x="393.8" y="168.48" font-size="8" text-anchor="start" fill="#000" transform="translate(393.8 168.48) scale(1 1.11) translate(-393.8 -168.48)">hom, n=3</text>
<text x="0.3" y="269.4" font-size="11" font-weight="bold" stroke="#000" stroke-width="0.25" text-anchor="start" fill="#000" transform="translate(0.3 269.4) scale(1 1.11) translate(-0.3 -269.4)">D</text>
<text x="71.2" y="272.3" font-size="10" font-weight="bold" stroke="#000" stroke-width="0.25" text-anchor="middle" fill="#000" transform="translate(71.2 272.3) scale(1 1.11) translate(-71.2 -272.3)">WT</text>
<text x="141.6" y="272.3" font-size="10" font-weight="bold" stroke="#000" stroke-width="0.25" text-anchor="middle" fill="#000" transform="translate(141.6 272.3) scale(1 1.11) translate(-141.6 -272.3)">Het</text>
<text x="207.3" y="272.5" font-size="10" font-weight="bold" stroke="#000" stroke-width="0.25" text-anchor="middle" fill="#000" transform="translate(207.3 272.5) scale(1 1.11) translate(-207.3 -272.5)">Hom</text>
<text x="16.4" y="312.8" font-size="9.8" font-weight="bold" stroke="#000" stroke-width="0.25" text-anchor="middle" fill="#000" transform="translate(16.4 312.8) scale(1 1.11) translate(-16.4 -312.8)">0 hrs</text>
<text x="15.4" y="378.4" font-size="9.8" font-weight="bold" stroke="#000" stroke-width="0.25" text-anchor="middle" fill="#000" transform="translate(15.4 378.4) scale(1 1.11) translate(-15.4 -378.4)">48 hrs</text>
<clipPath id="fc1"><rect x="35.0" y="277.9" width="63.599999999999994" height="60.5"/></clipPath>
<rect x="34.5" y="277.4" width="64.6" height="61.5" fill="#fff" stroke="#9a9a9a" stroke-width="0.9"/>
<line x1="34.5" y1="324.59767441860464" x2="36.0" y2="324.59767441860464" stroke="#888" stroke-width="0.6"/>
<line x1="49.52325581395349" y1="338.9" x2="49.52325581395349" y2="337.4" stroke="#888" stroke-width="0.6"/>
<line x1="34.5" y1="310.2953488372093" x2="36.0" y2="310.2953488372093" stroke="#888" stroke-width="0.6"/>
<line x1="64.54651162790698" y1="338.9" x2="64.54651162790698" y2="337.4" stroke="#888" stroke-width="0.6"/>
<line x1="34.5" y1="295.9930232558139" x2="36.0" y2="295.9930232558139" stroke="#888" stroke-width="0.6"/>
<line x1="79.56976744186046" y1="338.9" x2="79.56976744186046" y2="337.4" stroke="#888" stroke-width="0.6"/>
<line x1="34.5" y1="281.6906976744186" x2="36.0" y2="281.6906976744186" stroke="#888" stroke-width="0.6"/>
<line x1="94.59302325581396" y1="338.9" x2="94.59302325581396" y2="337.4" stroke="#888" stroke-width="0.6"/>
<g clip-path="url(#fc1)">
<path d="M42.6 322.6h0M51.5 301.4h0M42.2 321.3h0M49.4 312.9h0M42.6 314.6h0M50.3 308.2h0M53.6 304.3h0M47.1 310.9h0M57.8 290.4h0M44.4 312.0h0M47.9 311.4h0M46.1 313.7h0M48.6 312.6h0M51.9 304.0h0M40.3 328.4h0M41.8 321.4h0M41.6 322.7h0M44.4 318.4h0M60.7 285.9h0M50.9 298.7h0M46.3 316.7h0M47.1 313.9h0M47.9 305.8h0M49.8 303.2h0M55.0 294.7h0M50.2 306.2h0M51.3 301.3h0M51.5 303.2h0M52.6 304.7h0M48.1 306.6h0M50.6 307.7h0M54.1 297.1h0M49.7 309.6h0M48.6 310.2h0M48.2 307.2h0M43.4 317.3h0M49.9 314.0h0M51.4 308.9h0M50.6 308.8h0M48.2 313.7h0M54.6 296.3h0M44.7 326.0h0M48.5 314.1h0M51.0 299.3h0M57.2 301.2h0M48.2 313.6h0M48.0 306.2h0M47.1 314.0h0M52.0 306.2h0M47.7 317.4h0M44.5 321.0h0M51.9 301.5h0M40.3 320.8h0M48.4 312.1h0M53.7 294.8h0M47.5 314.5h0M46.9 301.4h0M50.7 316.2h0M51.5 299.4h0M45.9 315.6h0M57.5 295.3h0M48.0 317.9h0M47.2 320.8h0M44.8 314.4h0M50.4 312.6h0M50.1 307.8h0M40.2 322.0h0M45.1 313.5h0M49.8 305.3h0M50.7 305.8h0M46.2 314.5h0M49.2 312.2h0M45.6 313.9h0M42.0 329.4h0M53.3 299.4h0M45.6 309.2h0M48.2 311.1h0M56.2 295.9h0M44.4 305.8h0M53.1 301.5h0M41.1 324.6h0M41.1 340.2h0M52.0 305.6h0M46.8 302.6h0M47.0 305.0h0M49.9 296.7h0M43.9 324.1h0M54.1 293.2h0M41.4 327.3h0M50.9 300.2h0M44.7 313.4h0M42.7 317.3h0M52.5 305.1h0M55.7 295.3h0M47.0 307.8h0M47.0 306.1h0M40.4 328.3h0M53.3 304.4h0M52.8 302.4h0M44.6 317.3h0M46.0 309.0h0M40.7 317.3h0M47.5 312.2h0M45.6 321.8h0M48.2 312.8h0M52.4 298.2h0M39.6 330.0h0M44.7 322.9h0M48.9 313.6h0M50.6 295.7h0M50.4 302.7h0M44.5 315.1h0M50.6 309.7h0M51.5 295.8h0M45.1 304.7h0M47.1 315.0h0M44.4 318.4h0M48.4 314.4h0M44.2 313.8h0M44.4 325.5h0M51.9 302.5h0M48.4 310.2h0M48.3 308.9h0M46.2 308.0h0M44.9 324.1h0M49.6 307.6h0M46.6 313.3h0M48.9 305.6h0M48.3 311.0h0M44.5 313.4h0M43.5 314.0h0M51.1 293.4h0M46.4 310.5h0M45.0 316.6h0M52.0 303.1h0M46.9 309.6h0M47.0 316.7h0M45.9 309.0h0M42.4 315.8h0M41.9 327.2h0M48.9 307.6h0M53.3 297.1h0M50.5 309.4h0M41.3 315.8h0M43.8 322.8h0M52.7 295.7h0M51.7 301.6h0M45.9 311.8h0M46.2 305.3h0M43.5 313.2h0M49.5 317.6h0M58.4 288.9h0M40.6 322.6h0M43.7 328.0h0M49.8 303.6h0M51.2 306.8h0M41.0 321.3h0M46.5 313.3h0M48.0 308.8h0M48.3 307.2h0M43.9 325.4h0M48.9 310.7h0M41.1 322.8h0M50.8 299.0h0M51.9 301.2h0M49.1 307.7h0M48.4 315.4h0M45.9 321.9h0M44.4 313.0h0M50.3 300.9h0" stroke="#7890e8" stroke-width="0.9" stroke-linecap="round" opacity="0.7"/>
<path d="M50.2 308.6h0M55.7 294.2h0M53.3 308.0h0M55.7 298.9h0M49.4 305.9h0M47.5 308.2h0M50.8 304.7h0M55.6 299.0h0M46.4 313.4h0M47.7 307.3h0M51.0 303.9h0M48.0 307.7h0M59.1 293.8h0M51.0 308.3h0M54.1 303.7h0M54.5 295.0h0M48.5 308.2h0M53.2 306.3h0M53.1 301.8h0M51.6 303.6h0M52.4 305.4h0M50.3 303.3h0M48.5 311.1h0M56.0 302.3h0M54.5 303.5h0M51.5 306.4h0M47.8 308.0h0M48.9 309.5h0M49.5 306.4h0M52.9 306.9h0M48.7 304.8h0M54.4 297.8h0M53.1 300.9h0M51.1 299.4h0M54.0 300.0h0M48.4 314.2h0M54.0 312.1h0M52.9 301.7h0M51.9 308.8h0M51.4 305.9h0M53.3 299.6h0M52.0 302.4h0M47.1 312.0h0M53.8 302.0h0M48.3 302.0h0M53.2 302.2h0M45.6 311.0h0M46.2 310.4h0M52.0 304.9h0M52.3 304.0h0M47.5 307.8h0M49.7 305.7h0M52.4 305.2h0M57.2 290.2h0M52.9 302.2h0M59.5 298.1h0M45.7 312.2h0M49.7 309.5h0M47.8 308.3h0M51.0 304.6h0M49.5 301.2h0M53.1 305.6h0M51.3 301.6h0M52.2 305.3h0M50.9 305.1h0M56.4 295.4h0M49.5 300.9h0M49.1 305.0h0M48.1 306.2h0M57.8 296.6h0M51.1 311.5h0M51.3 299.4h0M52.9 300.0h0M57.2 294.1h0M49.5 301.9h0M51.8 301.0h0M51.3 303.5h0M49.4 309.7h0M54.8 300.8h0M48.3 304.8h0M52.4 310.5h0M49.9 303.9h0M49.1 303.9h0M48.1 307.7h0M56.5 298.7h0M49.7 301.6h0M52.2 303.5h0M47.2 306.0h0M51.4 307.6h0M53.7 302.5h0M50.4 306.7h0M51.5 311.0h0M47.5 307.8h0M55.9 298.5h0M56.5 298.6h0M52.0 302.7h0M46.7 307.0h0M59.3 297.5h0M53.6 304.8h0M53.5 305.2h0M50.6 304.8h0M54.9 299.4h0M46.8 309.0h0M49.6 308.4h0M49.0 304.1h0M50.3 310.4h0M51.3 305.1h0M51.5 305.2h0M54.7 304.9h0M45.7 315.1h0M51.5 303.5h0M59.9 294.3h0M58.3 299.5h0M47.9 310.0h0M54.1 301.1h0M43.4 312.7h0M50.8 301.8h0M57.9 296.4h0M50.1 305.1h0M48.8 305.2h0M51.8 305.0h0M49.7 306.2h0M46.6 311.5h0M48.9 308.0h0M48.3 306.5h0M52.3 299.9h0M60.1 294.4h0M51.2 302.5h0M57.1 302.2h0M52.5 299.1h0M49.7 308.3h0M49.7 302.9h0M47.3 306.8h0M51.5 302.4h0M51.6 312.7h0M57.7 294.2h0M52.7 303.3h0M51.0 308.1h0M50.3 304.8h0M50.2 305.6h0" stroke="#3550d8" stroke-width="0.9" stroke-linecap="round" opacity="0.75"/>
<path d="M61.8 296.3h0M50.0 294.4h0M52.4 297.6h0M57.0 297.2h0M55.7 289.7h0M58.0 295.3h0M58.3 291.0h0M56.4 293.0h0M52.9 296.3h0M57.6 292.3h0M48.3 289.1h0M53.4 298.3h0M55.8 288.8h0M52.1 296.5h0M63.5 297.2h0M57.7 295.2h0M51.2 294.3h0M54.5 293.0h0M56.3 293.8h0M57.5 298.6h0M59.3 295.6h0M54.9 290.9h0M55.5 296.5h0M51.5 298.9h0M54.5 296.1h0M54.5 291.6h0M65.3 290.6h0M60.1 292.9h0M57.3 292.5h0M54.1 297.7h0M64.8 291.5h0M56.0 297.5h0M53.2 297.2h0M52.5 297.0h0M58.0 298.0h0M57.6 291.4h0M59.0 291.5h0M59.4 298.6h0M58.7 293.0h0M61.4 294.7h0M50.4 294.6h0M62.4 293.3h0M56.5 293.9h0M48.4 294.4h0M57.6 295.3h0M55.2 289.1h0M61.5 296.2h0M60.6 297.9h0M54.0 293.5h0M57.4 299.3h0M48.4 295.2h0M52.8 296.8h0M62.6 293.3h0M50.4 295.7h0M54.7 290.8h0M60.0 293.0h0M59.1 290.9h0M60.9 290.3h0M60.7 289.3h0M62.2 293.1h0M49.0 295.1h0M57.5 292.0h0M53.8 295.9h0M55.2 286.6h0M54.1 296.3h0M57.3 297.5h0M52.9 302.3h0M59.6 295.3h0M60.9 296.9h0M56.5 293.1h0M60.6 295.5h0M47.5 292.9h0M58.1 294.9h0M57.3 296.5h0M56.7 299.2h0M53.3 294.1h0M57.5 296.8h0M59.5 298.5h0M53.9 298.4h0M58.1 291.8h0M55.4 300.7h0M59.5 293.2h0M45.2 294.2h0M52.8 295.5h0M66.4 295.7h0M57.4 292.2h0M50.7 295.0h0M53.9 303.4h0M54.2 293.4h0M61.1 294.5h0M50.4 299.1h0M54.6 291.4h0M57.4 296.1h0M54.5 297.0h0M59.7 292.0h0M46.7 289.5h0M55.4 298.3h0M60.5 298.2h0M64.4 293.9h0M60.8 290.1h0M59.1 295.6h0M55.6 293.7h0M51.0 295.9h0M61.7 293.2h0M58.4 292.8h0M57.1 292.0h0M57.7 294.1h0M57.4 293.1h0M50.7 294.7h0M60.7 298.7h0M54.5 297.3h0M59.4 295.6h0M49.0 296.7h0M51.6 298.7h0M59.5 296.2h0M44.6 298.0h0M59.1 291.0h0M60.4 294.6h0M55.2 293.0h0M51.4 294.3h0M69.9 293.7h0M56.9 293.0h0M53.2 293.7h0M52.0 297.8h0M54.8 297.4h0M50.8 298.1h0M55.9 296.7h0M55.5 292.5h0M61.4 293.0h0M55.3 292.6h0M56.9 293.7h0M57.3 295.7h0M52.9 291.4h0M57.9 297.2h0M59.1 291.4h0M58.7 295.6h0M57.3 295.9h0M54.5 295.7h0M60.2 293.0h0M49.5 295.4h0M56.9 289.7h0M53.0 296.9h0M55.3 295.2h0M50.3 298.1h0M63.9 293.4h0M52.7 292.1h0M60.0 294.7h0M52.4 298.7h0M59.4 296.1h0M48.1 295.6h0M58.8 291.2h0M60.2 298.3h0M60.7 292.3h0M52.8 297.9h0M60.5 297.7h0M61.4 294.0h0M54.2 290.0h0M59.5 300.7h0M53.9 293.9h0M58.9 295.6h0M49.8 293.7h0M51.1 301.1h0M52.8 297.6h0M64.6 299.0h0M62.4 298.6h0M50.4 294.6h0M52.7 294.5h0M67.8 288.8h0M58.5 291.2h0M62.0 297.7h0" stroke="#3550d8" stroke-width="0.9" stroke-linecap="round" opacity="0.8"/>
<ellipse cx="56.0" cy="294.9" rx="5.5" ry="3.5" fill="#2aa8d8" opacity="0.45" transform="rotate(0 56.0 294.9)" filter="url(#fb10)"/>
<ellipse cx="56.0" cy="294.9" rx="3.8" ry="2.6" fill="#3a9a90" opacity="0.9" transform="rotate(0 56.0 294.9)" filter="url(#fb8)"/>
</g>
<rect x="34.5" y="287.5" width="30.0" height="13.0" fill="none" stroke="#a8a8a8" stroke-width="0.8"/>
<rect x="64.5" y="282.5" width="17.0" height="18.0" fill="none" stroke="#a8a8a8" stroke-width="0.8"/>
<rect x="60.5" y="300.5" width="21.0" height="11.0" fill="none" stroke="#a8a8a8" stroke-width="0.8"/>
<rect x="60.5" y="311.5" width="21.0" height="27.399999999999977" fill="none" stroke="#a8a8a8" stroke-width="0.8"/>
<line x1="34.5" y1="300.5" x2="81.5" y2="300.5" stroke="#a8a8a8" stroke-width="0.8"/>
<text x="41.5" y="292.59999999999997" font-size="4.2" text-anchor="middle" fill="#444" transform="translate(41.5 292.59999999999997) scale(1 1.11) translate(-41.5 -292.59999999999997)">R2</text>
<text x="41.5" y="297.4" font-size="4.2" text-anchor="middle" fill="#444" transform="translate(41.5 297.4) scale(1 1.11) translate(-41.5 -297.4)">83.9%</text>
<text x="90.3" y="291.09999999999997" font-size="4.2" text-anchor="middle" fill="#444" transform="translate(90.3 291.09999999999997) scale(1 1.11) translate(-90.3 -291.09999999999997)">R3</text>
<text x="90.3" y="295.9" font-size="4.2" text-anchor="middle" fill="#444" transform="translate(90.3 295.9) scale(1 1.11) translate(-90.3 -295.9)">0.75%</text>
<text x="90.3" y="305.79999999999995" font-size="4.2" text-anchor="middle" fill="#444" transform="translate(90.3 305.79999999999995) scale(1 1.11) translate(-90.3 -305.79999999999995)">R4</text>
<text x="90.3" y="310.59999999999997" font-size="4.2" text-anchor="middle" fill="#444" transform="translate(90.3 310.59999999999997) scale(1 1.11) translate(-90.3 -310.59999999999997)">0.36%</text>
<text x="90.3" y="324.29999999999995" font-size="4.2" text-anchor="middle" fill="#444" transform="translate(90.3 324.29999999999995) scale(1 1.11) translate(-90.3 -324.29999999999995)">R5</text>
<text x="90.3" y="329.09999999999997" font-size="4.2" text-anchor="middle" fill="#444" transform="translate(90.3 329.09999999999997) scale(1 1.11) translate(-90.3 -329.09999999999997)">0.032%</text>
<text x="41.3" y="332.0" font-size="4.2" text-anchor="middle" fill="#444" transform="translate(41.3 332.0) scale(1 1.11) translate(-41.3 -332.0)">R1</text>
<text x="41.3" y="336.8" font-size="4.2" text-anchor="middle" fill="#444" transform="translate(41.3 336.8) scale(1 1.11) translate(-41.3 -336.8)">33.1%</text>
<clipPath id="fc2"><rect x="104.6" y="277.9" width="63.599999999999994" height="60.5"/></clipPath>
<rect x="104.1" y="277.4" width="64.6" height="61.5" fill="#fff" stroke="#9a9a9a" stroke-width="0.9"/>
<line x1="104.1" y1="324.59767441860464" x2="105.6" y2="324.59767441860464" stroke="#888" stroke-width="0.6"/>
<line x1="119.12325581395348" y1="338.9" x2="119.12325581395348" y2="337.4" stroke="#888" stroke-width="0.6"/>
<line x1="104.1" y1="310.2953488372093" x2="105.6" y2="310.2953488372093" stroke="#888" stroke-width="0.6"/>
<line x1="134.14651162790696" y1="338.9" x2="134.14651162790696" y2="337.4" stroke="#888" stroke-width="0.6"/>
<line x1="104.1" y1="295.9930232558139" x2="105.6" y2="295.9930232558139" stroke="#888" stroke-width="0.6"/>
<line x1="149.16976744186047" y1="338.9" x2="149.16976744186047" y2="337.4" stroke="#888" stroke-width="0.6"/>
<line x1="104.1" y1="281.6906976744186" x2="105.6" y2="281.6906976744186" stroke="#888" stroke-width="0.6"/>
<line x1="164.19302325581396" y1="338.9" x2="164.19302325581396" y2="337.4" stroke="#888" stroke-width="0.6"/>
<g clip-path="url(#fc2)">
<path d="M105.0 323.0h0M113.2 311.4h0M121.9 310.6h0M113.2 331.7h0M111.6 305.3h0M105.5 315.9h0M119.7 319.0h0M123.1 325.8h0M127.2 312.6h0M124.6 314.4h0M111.4 324.6h0M115.8 312.5h0M129.5 312.5h0M112.0 316.1h0M132.0 301.8h0M120.7 316.9h0M119.1 317.6h0M112.1 312.7h0M114.4 312.1h0M121.2 324.9h0M109.2 323.6h0M108.5 312.9h0M113.8 316.7h0M112.4 293.0h0M125.3 305.9h0M111.0 323.7h0M111.3 304.4h0M119.0 316.2h0M109.6 326.0h0M118.1 302.7h0M127.9 309.1h0M107.4 323.9h0M116.4 322.9h0M105.9 330.2h0M122.2 316.6h0M119.8 323.8h0M120.6 312.5h0M109.5 328.5h0M122.5 312.9h0M116.6 320.5h0M97.6 329.0h0M97.7 328.2h0M123.0 327.0h0M112.1 320.7h0M115.0 294.8h0M120.6 311.1h0M115.9 305.8h0M115.1 315.5h0M124.5 311.4h0M140.2 295.0h0M113.6 315.3h0M109.7 332.0h0M120.0 300.1h0M116.2 324.5h0M105.4 322.4h0M113.8 336.8h0M118.4 309.0h0M111.4 334.3h0M112.1 337.4h0M104.3 320.0h0M113.7 309.3h0M113.9 321.8h0M110.7 304.7h0M125.0 321.8h0M110.5 320.5h0M97.2 335.8h0M106.0 315.7h0M130.8 293.3h0M115.6 304.8h0M102.3 312.5h0M117.4 301.5h0M111.2 323.9h0M114.3 303.5h0M126.1 308.9h0M125.4 298.7h0M127.4 294.7h0M103.0 318.7h0M112.8 318.7h0M111.4 322.9h0M124.9 302.6h0M105.7 317.2h0M121.2 318.3h0M113.0 307.3h0M115.3 323.4h0M110.4 329.6h0M117.0 316.2h0M111.0 329.8h0M115.7 300.9h0M121.2 307.1h0M123.1 311.2h0M111.0 319.0h0M111.9 309.4h0M115.6 322.0h0M115.9 313.5h0M111.5 322.3h0M117.3 322.0h0M118.0 332.2h0M104.3 321.3h0M119.2 320.3h0M104.5 310.5h0M115.1 324.3h0M123.2 295.9h0M116.3 324.6h0M115.6 305.1h0M110.3 305.8h0M123.9 306.8h0M112.4 308.6h0M114.4 307.0h0M108.5 318.7h0M113.8 319.8h0M116.4 324.6h0M115.1 317.2h0M117.0 306.3h0M123.8 304.1h0M104.2 333.1h0M120.0 306.5h0M122.1 319.0h0M120.4 300.8h0M116.6 304.4h0M111.1 312.3h0M109.4 322.9h0M109.8 323.8h0M116.6 308.3h0M116.6 320.0h0M123.5 307.1h0M127.7 311.9h0M124.2 296.7h0M107.9 330.3h0M113.8 319.8h0M123.9 296.1h0M118.6 330.0h0M121.0 311.8h0M119.4 312.1h0M120.9 322.8h0M113.8 320.8h0M117.5 319.9h0M121.3 301.1h0M123.6 317.1h0M107.7 317.0h0M105.1 318.6h0M117.7 302.7h0M109.9 310.2h0M110.5 310.8h0M107.8 324.6h0M113.9 308.2h0M122.4 305.0h0M121.7 299.4h0M125.3 304.2h0M108.7 322.6h0M106.0 310.9h0M117.1 309.2h0M118.2 314.0h0M117.2 314.6h0M120.4 311.4h0M123.2 318.1h0M101.5 307.7h0M126.3 303.5h0M116.7 312.7h0M117.3 333.2h0M110.4 318.4h0M115.4 304.8h0M109.2 316.1h0M115.3 318.1h0M101.6 309.4h0M127.0 305.5h0M121.2 307.1h0M110.4 336.8h0M106.7 312.0h0M120.1 311.7h0M103.8 323.2h0M120.5 297.6h0M111.4 324.2h0M128.8 285.1h0M110.5 317.9h0M108.9 310.6h0M111.8 321.4h0M107.9 327.2h0M121.2 318.4h0M126.2 302.9h0M115.0 323.8h0M124.3 317.3h0M112.2 312.2h0M106.1 316.6h0M109.1 314.2h0M112.7 323.7h0M121.4 310.2h0M107.3 319.2h0M118.4 320.3h0M116.8 320.9h0M110.7 323.3h0M120.5 308.1h0M110.0 329.0h0M108.4 325.2h0M113.5 312.7h0M113.6 311.7h0M115.1 330.7h0M125.6 306.8h0M118.7 320.6h0M112.4 332.9h0M115.6 320.0h0M108.7 308.8h0M108.3 313.3h0M122.6 307.1h0M121.5 306.8h0M108.6 320.4h0M112.6 301.5h0M115.7 324.9h0M113.9 304.8h0M110.0 307.1h0M113.6 307.2h0M114.6 316.6h0M124.6 298.2h0M101.0 338.3h0M118.4 309.3h0M118.9 304.0h0M113.0 322.1h0M113.1 317.2h0M118.4 313.7h0M113.7 320.2h0M124.6 320.0h0M109.2 325.3h0M102.0 310.5h0M118.2 317.5h0M124.9 293.0h0M122.9 304.8h0M112.1 320.6h0M125.2 299.8h0M103.4 316.9h0M114.5 325.8h0M117.9 310.2h0M111.8 312.7h0M122.1 295.3h0M110.5 309.9h0M123.2 310.6h0M110.6 324.3h0M129.0 314.9h0M106.2 318.5h0M123.3 293.2h0M106.8 316.3h0M119.0 304.8h0M116.4 312.4h0M117.6 302.3h0M99.8 305.3h0M116.4 322.5h0M118.7 298.0h0M103.1 319.8h0M108.9 302.2h0M111.2 310.0h0M114.4 318.4h0M116.6 315.3h0M118.9 311.2h0M112.1 313.4h0M123.5 306.7h0M120.9 325.7h0M127.4 287.5h0M116.3 322.6h0M112.1 310.2h0M105.2 314.9h0M115.2 297.7h0M115.1 307.1h0M115.4 304.7h0M115.8 315.6h0M110.4 311.6h0M121.8 315.8h0M109.8 321.9h0M107.1 315.0h0M94.8 322.6h0M120.0 307.0h0M119.3 306.1h0M117.3 311.8h0M108.4 337.6h0M109.3 306.2h0M116.1 318.1h0M117.6 312.0h0M118.5 320.7h0M119.5 299.3h0M127.3 306.4h0M100.9 331.1h0M114.2 317.6h0M129.1 300.8h0M110.8 308.5h0M116.5 319.5h0M117.9 314.2h0M100.3 326.4h0M122.8 305.0h0M111.5 307.8h0M116.9 299.5h0M128.6 304.1h0M111.0 306.3h0M119.0 320.7h0M111.3 318.5h0M117.3 321.8h0M119.5 322.7h0M105.3 344.1h0M111.7 306.7h0M108.7 322.1h0M120.6 332.7h0M123.8 302.1h0M112.8 311.8h0M111.0 315.6h0M110.9 327.7h0M117.6 318.5h0M114.1 304.8h0M118.3 309.0h0M129.1 316.5h0M106.8 311.1h0M111.4 315.0h0M123.2 307.7h0M118.4 309.6h0M113.7 326.4h0M115.3 332.0h0M114.9 318.1h0M118.0 318.6h0M128.7 299.7h0M111.5 308.5h0M127.9 310.5h0M118.4 316.5h0M102.3 329.7h0M116.1 316.7h0M115.9 313.3h0M114.7 309.8h0M113.7 321.1h0M100.5 331.4h0M119.7 302.1h0M118.8 314.9h0M111.6 331.9h0M116.5 312.5h0M106.1 339.7h0M116.8 316.3h0M113.6 334.0h0M114.2 329.2h0M122.6 318.5h0M119.7 321.9h0M114.4 296.5h0M96.5 336.5h0M100.9 335.7h0M136.9 283.8h0M119.5 316.0h0M110.3 300.0h0M114.6 330.0h0M114.5 314.9h0M115.8 314.5h0M117.3 333.6h0M109.1 302.2h0M121.1 306.0h0M111.7 304.3h0M114.0 311.4h0M118.2 309.0h0M105.0 325.4h0M114.7 298.0h0M112.9 322.8h0M114.8 311.9h0M119.4 306.1h0M110.4 322.3h0M114.1 309.7h0M116.8 315.8h0M121.8 319.3h0M115.9 313.8h0M108.7 320.5h0M112.7 323.5h0M120.8 316.6h0M114.8 317.7h0M125.7 322.9h0M111.1 292.0h0M119.6 298.1h0M115.6 318.3h0M125.7 306.3h0M114.4 309.9h0M117.3 302.3h0M119.2 315.0h0M124.7 305.7h0M117.5 314.8h0M115.1 306.1h0M111.3 317.5h0M118.7 321.5h0M111.1 319.5h0M119.5 319.4h0M117.0 315.3h0M112.9 316.3h0M113.9 300.0h0M110.3 296.4h0M118.8 320.1h0M112.8 317.7h0M116.4 311.6h0M125.5 306.3h0M117.6 312.5h0M129.2 291.0h0M116.7 301.8h0M110.3 309.3h0M120.7 301.5h0M108.3 316.1h0M108.7 310.0h0M126.3 301.6h0M109.7 330.3h0M115.9 324.1h0M104.0 319.2h0M118.6 314.3h0M119.1 323.2h0M119.4 321.7h0M120.5 304.5h0M116.7 325.3h0M108.7 323.6h0M119.7 323.6h0M103.7 343.2h0M104.5 321.5h0M133.0 291.2h0M131.0 306.9h0M128.7 318.8h0M116.4 306.9h0M113.2 304.4h0M105.7 324.1h0M105.2 324.3h0M114.8 313.7h0M108.1 308.2h0M120.9 302.4h0M111.3 315.6h0M120.1 329.1h0M129.0 312.8h0M120.0 317.4h0M113.9 313.7h0" stroke="#7890e8" stroke-width="0.9" stroke-linecap="round" opacity="0.6"/>
<ellipse cx="116.1" cy="313.4" rx="8" ry="11" fill="#8fa0ee" opacity="0.35" transform="rotate(0 116.1 313.4)" filter="url(#fb20)"/>
<path d="M109.8 311.2h0M116.5 307.4h0M131.6 302.6h0M125.6 305.4h0M116.2 303.0h0M111.3 305.6h0M120.2 307.0h0M122.4 301.5h0M113.1 307.5h0M121.0 295.1h0M119.8 298.0h0M116.8 305.0h0M113.9 304.7h0M119.3 300.1h0M123.0 305.6h0M122.2 298.5h0M118.2 303.5h0M119.9 307.4h0M116.3 305.9h0M123.7 301.0h0M123.2 302.6h0M111.5 307.8h0M120.0 302.3h0M129.7 298.0h0M111.2 307.4h0M118.0 307.2h0M133.1 298.7h0M123.7 299.3h0M114.1 303.7h0M118.2 303.0h0M119.2 301.7h0M112.6 304.1h0M123.5 297.5h0M123.5 309.6h0M114.1 310.6h0M123.8 290.9h0M123.9 305.1h0M114.9 314.0h0M109.4 314.5h0M120.7 299.3h0M119.8 297.6h0M122.5 305.3h0M125.9 307.5h0M115.4 308.3h0M115.8 293.5h0M124.4 307.1h0M120.4 311.4h0M118.9 297.1h0M116.7 304.4h0M120.7 302.0h0M106.9 304.7h0M118.4 309.7h0M115.5 300.4h0M116.6 309.6h0M126.0 297.1h0M122.9 308.5h0M123.6 297.7h0M122.5 300.8h0M116.4 314.0h0M119.0 306.7h0M125.9 308.5h0M120.7 301.1h0M118.9 301.6h0M118.5 304.2h0M111.0 304.7h0M111.4 307.7h0M123.6 305.6h0M120.2 299.8h0M118.8 298.7h0M122.3 296.3h0M115.7 313.5h0M121.5 299.2h0M118.0 300.5h0M114.8 304.6h0M114.5 307.4h0M125.1 298.0h0M114.0 303.2h0M115.8 306.5h0M115.5 302.3h0M115.4 310.4h0M124.5 306.5h0M120.2 299.9h0M126.7 310.6h0M115.6 303.4h0M125.2 304.7h0M121.4 312.5h0M118.2 301.4h0M117.1 306.3h0M120.2 309.4h0M123.4 299.4h0M123.2 301.8h0M127.5 305.6h0M115.9 308.3h0M112.0 309.7h0M119.6 306.2h0M112.5 303.8h0M116.1 304.8h0M122.8 299.2h0M108.1 307.1h0M123.4 306.2h0M112.1 310.4h0M119.7 307.3h0M120.1 309.4h0M115.2 315.6h0M125.2 296.6h0M110.6 312.8h0M110.5 304.9h0M121.8 302.6h0M120.0 294.7h0M114.9 308.5h0M130.6 301.0h0M119.3 304.9h0M124.7 304.6h0M114.2 298.0h0M117.8 303.3h0M129.2 296.1h0M123.2 293.8h0M123.4 296.8h0M119.2 303.4h0M119.6 304.1h0M112.7 309.8h0M114.1 306.4h0M114.3 306.4h0M118.4 303.8h0M114.6 311.6h0M118.0 305.1h0M106.9 312.5h0M110.3 307.4h0M107.7 317.7h0M109.2 307.7h0M112.0 302.0h0M109.2 315.1h0M130.8 298.4h0M123.5 300.1h0M113.0 315.0h0M122.5 297.7h0M118.3 304.5h0M117.3 304.7h0M115.2 305.6h0M116.6 304.0h0M114.7 313.0h0M116.5 304.5h0M120.2 303.8h0M111.7 311.3h0M112.1 304.5h0M121.1 302.4h0M114.9 306.1h0M114.1 303.8h0M112.3 301.8h0M113.3 307.0h0M116.0 304.9h0M123.8 300.0h0M108.6 309.3h0M128.6 287.2h0M117.3 300.0h0M110.5 311.5h0M118.5 304.2h0M111.6 305.3h0M112.6 313.7h0M118.5 295.7h0M117.0 311.5h0M114.4 305.0h0M118.4 306.5h0M121.4 300.4h0M116.7 308.2h0M113.1 305.4h0M120.6 302.4h0M113.3 313.9h0M119.6 302.6h0M102.7 316.3h0M123.9 301.7h0M118.9 300.6h0M129.9 303.1h0M131.2 308.5h0M108.8 311.6h0M107.4 311.1h0M119.0 301.8h0M122.4 303.3h0M117.0 304.1h0M123.9 304.1h0M123.5 303.6h0M116.4 303.4h0M120.2 300.7h0M115.4 309.4h0M120.1 302.8h0M120.0 302.2h0M126.0 300.3h0M119.1 299.2h0M115.1 300.4h0M121.3 305.7h0M122.4 301.3h0M119.2 305.8h0M116.9 298.0h0M129.7 301.6h0M123.9 305.5h0M114.9 306.0h0M116.2 310.2h0M120.0 300.8h0M120.7 315.5h0M118.9 306.5h0M130.5 295.1h0M120.6 308.9h0M122.5 300.1h0M118.8 304.9h0M124.3 306.4h0M108.1 309.6h0M115.0 307.4h0M116.7 307.0h0M110.7 309.0h0M122.0 308.3h0M127.6 300.4h0M115.8 311.6h0M121.1 304.8h0M122.2 296.7h0M114.1 302.8h0M112.9 313.9h0M108.9 308.3h0M118.6 300.7h0M121.1 299.8h0M111.2 302.4h0M126.4 299.3h0M120.1 306.4h0M121.4 300.1h0M123.5 306.9h0M111.3 311.5h0M121.9 307.8h0M122.4 302.2h0M114.9 309.1h0M121.2 305.2h0M116.4 310.7h0M124.2 306.8h0M115.8 308.5h0M124.4 296.2h0M115.1 307.4h0M111.2 307.6h0M119.6 297.8h0M122.3 302.9h0M126.0 301.1h0M116.4 305.4h0M121.4 295.4h0M117.5 308.3h0M123.3 304.1h0M113.1 306.7h0M121.6 303.4h0M120.0 312.1h0M129.8 297.6h0M113.9 306.9h0M126.4 296.6h0M113.9 301.4h0M125.3 299.6h0M118.8 311.6h0M122.7 301.5h0M112.1 312.4h0M119.7 302.8h0M120.5 300.7h0M120.3 304.8h0M113.2 308.2h0M122.5 309.2h0M124.1 311.3h0M124.0 302.1h0M121.2 303.7h0M114.1 305.8h0M120.1 299.6h0M119.0 307.0h0M128.4 299.8h0M117.5 302.4h0M110.4 310.9h0M116.4 302.8h0M113.2 313.5h0M126.6 303.1h0M117.3 300.2h0M107.3 306.6h0M115.0 312.7h0M117.6 298.1h0M126.8 303.6h0M117.0 306.9h0M122.7 300.9h0M114.5 307.3h0M122.6 305.1h0M113.1 303.1h0M119.1 301.9h0M117.6 313.2h0M110.2 307.4h0M113.5 308.0h0M129.4 301.4h0M126.3 297.3h0M120.7 309.6h0M117.2 302.1h0M110.9 314.5h0M118.5 310.6h0M120.2 304.2h0M123.6 303.3h0M125.6 299.0h0M116.0 306.0h0M116.4 304.8h0M123.6 303.9h0M118.6 312.2h0M111.9 305.3h0M118.1 309.1h0M122.5 305.2h0M127.3 300.4h0M115.1 311.4h0M127.6 296.3h0M115.9 305.4h0M121.1 304.0h0M123.2 295.7h0M116.4 299.0h0M123.7 306.7h0M120.5 303.8h0M118.6 304.3h0M114.7 308.5h0M122.6 299.9h0M121.4 309.6h0M127.8 310.4h0M134.1 291.3h0M116.5 303.7h0M121.7 309.7h0M111.1 310.5h0M120.9 309.0h0M121.9 300.3h0M120.6 301.6h0M118.3 303.7h0M119.2 306.0h0M121.3 308.4h0M122.9 295.3h0M122.6 301.1h0M124.5 300.2h0M114.7 300.4h0M118.5 308.2h0M114.5 308.1h0M117.6 296.5h0M118.2 303.7h0M121.9 296.1h0M122.6 302.5h0M124.1 300.3h0M115.6 305.0h0M119.0 309.0h0M115.2 304.9h0M113.6 305.4h0M120.6 309.8h0M118.5 305.8h0M119.4 308.8h0M117.6 304.0h0M120.8 302.5h0M120.3 303.5h0M117.3 308.9h0M118.0 303.2h0M121.8 310.9h0M120.7 302.9h0M123.2 304.8h0M113.8 311.8h0M126.4 298.9h0M117.2 307.9h0M121.0 304.2h0M126.3 294.6h0M116.4 307.8h0M121.7 300.8h0M109.6 313.8h0M124.2 302.7h0M121.0 308.0h0M131.8 294.3h0M119.3 295.9h0M112.7 312.3h0M117.6 295.8h0M112.1 313.9h0M121.8 308.5h0M127.7 298.2h0M119.3 301.6h0M114.2 310.6h0M120.5 300.8h0M110.3 306.6h0M117.5 302.0h0M123.3 304.9h0M121.6 308.5h0M117.4 304.9h0M130.3 295.6h0M120.6 307.0h0M120.4 303.5h0M121.9 306.6h0M120.1 302.7h0" stroke="#3550d8" stroke-width="0.9" stroke-linecap="round" opacity="0.75"/>
<ellipse cx="120.1" cy="302.4" rx="6.5" ry="4.5" fill="#3f5fe0" opacity="0.55" transform="rotate(0 120.1 302.4)" filter="url(#fb15)"/>
<ellipse cx="124.1" cy="294.9" rx="8.5" ry="6.2" fill="#2f7fe0" opacity="0.7" transform="rotate(0 124.1 294.9)" filter="url(#fb10)"/>
<ellipse cx="124.1" cy="294.9" rx="7" ry="5.3" fill="#30c050" opacity="0.95" transform="rotate(0 124.1 294.9)" filter="url(#fb8)"/>
<ellipse cx="123.6" cy="294.9" rx="2.8" ry="2.3" fill="#c8e030" opacity="0.9" transform="rotate(0 123.6 294.9)" filter="url(#fb8)"/>
</g>
<rect x="104.1" y="287.5" width="25.400000000000006" height="13.0" fill="none" stroke="#a8a8a8" stroke-width="0.8"/>
<rect x="134.5" y="282.5" width="17.0" height="18.0" fill="none" stroke="#a8a8a8" stroke-width="0.8"/>
<rect x="129.5" y="300.5" width="22.0" height="11.0" fill="none" stroke="#a8a8a8" stroke-width="0.8"/>
<rect x="129.5" y="311.5" width="22.0" height="27.399999999999977" fill="none" stroke="#a8a8a8" stroke-width="0.8"/>
<line x1="104.1" y1="300.5" x2="151.5" y2="300.5" stroke="#a8a8a8" stroke-width="0.8"/>
<text x="111.1" y="292.59999999999997" font-size="4.2" text-anchor="middle" fill="#444" transform="translate(111.1 292.59999999999997) scale(1 1.11) translate(-111.1 -292.59999999999997)">R2</text>
<text x="111.1" y="297.4" font-size="4.2" text-anchor="middle" fill="#444" transform="translate(111.1 297.4) scale(1 1.11) translate(-111.1 -297.4)">73.1%</text>
<text x="159.89999999999998" y="291.09999999999997" font-size="4.2" text-anchor="middle" fill="#444" transform="translate(159.89999999999998 291.09999999999997) scale(1 1.11) translate(-159.89999999999998 -291.09999999999997)">R3</text>
<text x="159.89999999999998" y="295.9" font-size="4.2" text-anchor="middle" fill="#444" transform="translate(159.89999999999998 295.9) scale(1 1.11) translate(-159.89999999999998 -295.9)">0.58%</text>
<text x="159.89999999999998" y="305.79999999999995" font-size="4.2" text-anchor="middle" fill="#444" transform="translate(159.89999999999998 305.79999999999995) scale(1 1.11) translate(-159.89999999999998 -305.79999999999995)">R4</text>
<text x="159.89999999999998" y="310.59999999999997" font-size="4.2" text-anchor="middle" fill="#444" transform="translate(159.89999999999998 310.59999999999997) scale(1 1.11) translate(-159.89999999999998 -310.59999999999997)">0.09%</text>
<text x="159.89999999999998" y="324.29999999999995" font-size="4.2" text-anchor="middle" fill="#444" transform="translate(159.89999999999998 324.29999999999995) scale(1 1.11) translate(-159.89999999999998 -324.29999999999995)">R5</text>
<text x="159.89999999999998" y="329.09999999999997" font-size="4.2" text-anchor="middle" fill="#444" transform="translate(159.89999999999998 329.09999999999997) scale(1 1.11) translate(-159.89999999999998 -329.09999999999997)">0.037%</text>
<text x="110.89999999999999" y="332.0" font-size="4.2" text-anchor="middle" fill="#444" transform="translate(110.89999999999999 332.0) scale(1 1.11) translate(-110.89999999999999 -332.0)">R1</text>
<text x="110.89999999999999" y="336.8" font-size="4.2" text-anchor="middle" fill="#444" transform="translate(110.89999999999999 336.8) scale(1 1.11) translate(-110.89999999999999 -336.8)">24.3%</text>
<clipPath id="fc3"><rect x="175.5" y="277.9" width="63.599999999999994" height="60.5"/></clipPath>
<rect x="175" y="277.4" width="64.6" height="61.5" fill="#fff" stroke="#9a9a9a" stroke-width="0.9"/>
<line x1="175" y1="324.59767441860464" x2="176.5" y2="324.59767441860464" stroke="#888" stroke-width="0.6"/>
<line x1="190.02325581395348" y1="338.9" x2="190.02325581395348" y2="337.4" stroke="#888" stroke-width="0.6"/>
<line x1="175" y1="310.2953488372093" x2="176.5" y2="310.2953488372093" stroke="#888" stroke-width="0.6"/>
<line x1="205.04651162790697" y1="338.9" x2="205.04651162790697" y2="337.4" stroke="#888" stroke-width="0.6"/>
<line x1="175" y1="295.9930232558139" x2="176.5" y2="295.9930232558139" stroke="#888" stroke-width="0.6"/>
<line x1="220.06976744186045" y1="338.9" x2="220.06976744186045" y2="337.4" stroke="#888" stroke-width="0.6"/>
<line x1="175" y1="281.6906976744186" x2="176.5" y2="281.6906976744186" stroke="#888" stroke-width="0.6"/>
<line x1="235.09302325581396" y1="338.9" x2="235.09302325581396" y2="337.4" stroke="#888" stroke-width="0.6"/>
<g clip-path="url(#fc3)">
<path d="M185.4 328.3h0M180.5 302.0h0M188.0 319.1h0M189.0 317.6h0M185.6 309.9h0M181.2 316.3h0M183.9 324.8h0M191.0 300.8h0M191.6 311.4h0M194.6 323.3h0M190.6 296.4h0M191.3 297.9h0M197.8 301.8h0M185.4 332.1h0M174.3 323.2h0M179.2 315.1h0M181.1 324.7h0M184.6 319.4h0M191.3 296.5h0M196.7 306.3h0M175.0 316.5h0M193.0 320.0h0M181.9 319.0h0M188.5 323.2h0M185.8 324.4h0M180.5 312.4h0M191.5 318.4h0M186.5 320.6h0M188.3 320.9h0M195.1 314.3h0M192.7 307.6h0M182.8 296.1h0M189.7 313.3h0M190.6 295.4h0M183.3 312.1h0M173.9 331.5h0M195.5 297.7h0M190.0 328.6h0M178.2 329.5h0M198.2 324.6h0M177.1 311.5h0M188.3 324.9h0M177.8 313.8h0M178.8 330.1h0M182.8 322.7h0M191.4 322.5h0M189.8 316.1h0M195.1 313.9h0M177.8 315.8h0M193.3 312.0h0M184.3 318.8h0M210.6 299.2h0M190.3 316.9h0M184.9 327.1h0M193.0 314.6h0M177.1 332.7h0M192.3 310.6h0M167.5 326.8h0M178.1 318.4h0M183.2 309.7h0M194.1 311.3h0M195.7 300.4h0M185.4 328.3h0M189.2 306.8h0M180.4 313.6h0M186.2 321.6h0M187.9 321.2h0M192.8 312.1h0M196.1 315.7h0M185.5 314.3h0M186.7 308.2h0M177.2 321.5h0M183.1 322.7h0M182.5 318.6h0M188.2 309.7h0M188.2 307.4h0M183.7 324.2h0M189.6 313.1h0M181.1 324.9h0M201.1 285.7h0M194.3 312.0h0M194.7 320.5h0M179.5 335.5h0M182.5 315.3h0M191.3 311.2h0M188.7 308.9h0M179.3 319.8h0M178.9 332.2h0M188.5 326.6h0M177.8 301.6h0M170.4 321.9h0M177.5 324.1h0M176.3 308.9h0M188.8 310.0h0M191.6 319.2h0M189.3 302.1h0M180.5 339.7h0M185.1 318.6h0M187.6 314.1h0M185.5 310.5h0M183.0 298.8h0M198.7 306.2h0M177.3 325.7h0M191.5 298.6h0M183.0 331.0h0M190.6 316.3h0M193.9 309.1h0M184.6 330.8h0M185.4 315.0h0M191.3 312.2h0M177.9 337.9h0M186.2 331.6h0M190.4 304.2h0M197.8 306.1h0M180.6 318.6h0M171.4 328.5h0M181.5 315.9h0M180.4 325.2h0M189.3 323.1h0M198.7 309.8h0M187.4 317.2h0M180.9 313.6h0M192.2 303.5h0M172.8 320.6h0M188.6 327.1h0M181.6 309.6h0M187.4 313.0h0M188.5 309.0h0M188.2 308.6h0M193.8 312.9h0M190.8 308.2h0M176.5 321.6h0M186.3 325.2h0M193.6 310.1h0M186.4 306.0h0M186.4 317.0h0M183.7 306.9h0M195.9 300.5h0M198.5 318.0h0M197.7 300.0h0M191.2 299.3h0M184.1 302.6h0M181.5 313.6h0M193.5 320.3h0M184.0 313.9h0M180.0 308.8h0M173.9 321.0h0M190.9 305.1h0M189.3 302.7h0M179.5 314.6h0M192.9 306.0h0M192.1 308.1h0M178.8 301.6h0M183.3 308.2h0M193.1 314.6h0M175.0 329.9h0M190.4 286.1h0M179.2 321.7h0M175.3 315.5h0M190.3 314.6h0M189.8 318.2h0M180.3 340.4h0M190.3 331.7h0M184.7 321.0h0M189.0 311.9h0M188.8 315.7h0M192.3 313.9h0M187.0 318.9h0M196.8 308.8h0M190.8 313.3h0M172.7 315.6h0M180.1 306.4h0M182.2 301.7h0M188.5 308.7h0M195.2 312.6h0M177.6 318.5h0M186.9 308.4h0M184.0 306.6h0M181.4 320.5h0M184.2 327.1h0M171.6 317.2h0M183.9 329.7h0M194.3 316.5h0M193.4 324.6h0M191.2 309.6h0M187.8 307.4h0M184.9 319.0h0M182.9 317.9h0M183.4 304.9h0M176.3 327.4h0M186.7 322.0h0M185.7 315.0h0M188.3 310.4h0M196.1 317.4h0M189.2 303.5h0M182.6 318.9h0M194.5 309.0h0M186.2 319.4h0M187.1 312.7h0M178.4 330.6h0M185.9 310.2h0M185.6 303.2h0M174.5 306.2h0M188.8 301.1h0M187.0 303.4h0M173.8 317.0h0M181.0 311.7h0M198.3 308.5h0M182.0 324.9h0M183.9 326.8h0M175.2 331.2h0M178.6 312.8h0M187.6 304.0h0M174.6 318.3h0M184.0 301.2h0M192.9 302.7h0M181.7 315.2h0M186.4 323.7h0M171.0 324.2h0M192.3 312.6h0M185.5 304.8h0M188.4 308.6h0M187.0 304.4h0M183.8 314.5h0M175.7 330.3h0M185.2 303.5h0M184.3 316.7h0M183.6 306.7h0M184.4 303.3h0M174.4 332.4h0M197.9 323.4h0M201.8 316.3h0M179.5 313.5h0M193.7 305.2h0M183.5 315.8h0M188.9 300.3h0M186.2 318.6h0M171.6 333.7h0M191.4 303.7h0M198.8 309.9h0M189.4 326.1h0M168.0 326.1h0M193.5 322.3h0M185.8 312.9h0M180.6 314.9h0M180.0 296.8h0M181.9 308.0h0M181.8 313.0h0M182.6 317.5h0M185.5 311.5h0M181.7 316.2h0M183.8 314.6h0M195.7 310.3h0M183.2 297.8h0M175.8 294.5h0M192.2 320.3h0M183.2 312.0h0M189.3 317.4h0M173.8 319.9h0M183.8 304.5h0M195.9 314.7h0M181.7 316.7h0M182.1 312.4h0M183.2 325.3h0M186.0 310.1h0M181.2 319.8h0M179.9 303.9h0M185.0 329.2h0M181.2 318.9h0M184.6 326.3h0M189.3 300.9h0M198.2 306.6h0M179.6 314.0h0M186.4 323.7h0M184.0 309.0h0M195.3 322.5h0M183.5 317.2h0M188.6 310.0h0M179.6 327.8h0M178.3 302.9h0M190.1 322.1h0M191.7 303.8h0M184.3 305.7h0M182.3 294.8h0M179.9 330.7h0M177.8 335.1h0M187.2 296.0h0M192.6 301.6h0M189.9 310.3h0M183.5 314.4h0M176.8 313.5h0M183.2 332.1h0M182.0 319.9h0M189.2 323.3h0M184.4 317.3h0M179.5 341.3h0M175.5 323.5h0M183.6 317.5h0M182.3 312.8h0M193.0 318.5h0M185.5 313.5h0M187.4 312.9h0M189.1 319.3h0M189.4 298.2h0M185.7 305.1h0M189.2 309.8h0M188.2 312.3h0M192.6 322.4h0M187.3 300.3h0M186.1 332.2h0M181.3 316.9h0M203.3 318.6h0M190.6 313.6h0M176.8 335.1h0M192.5 295.2h0M185.3 313.9h0M185.7 308.8h0M203.6 295.4h0M196.4 313.6h0M186.2 318.5h0M191.3 304.1h0M183.5 327.0h0M192.8 313.8h0M177.7 305.3h0M196.6 320.7h0M189.8 315.7h0M183.9 320.5h0M194.6 315.9h0M182.3 320.2h0M182.4 316.3h0M178.4 298.3h0M178.8 320.9h0M180.6 322.9h0M182.2 319.7h0M182.9 329.5h0M183.4 316.5h0M194.2 322.7h0M178.0 332.9h0M178.7 310.7h0M180.3 327.3h0M178.7 324.6h0M189.1 310.9h0M189.4 331.0h0M197.5 299.8h0M188.1 309.8h0M185.3 310.3h0M190.1 304.5h0M177.5 320.6h0M188.5 323.9h0M191.0 303.8h0M179.8 321.6h0M188.1 319.9h0M195.5 288.6h0M181.9 322.2h0M178.7 334.3h0M185.7 320.3h0M184.8 318.6h0M189.1 317.6h0M176.6 303.7h0M185.7 322.0h0M184.5 314.2h0M193.7 315.6h0M179.6 320.3h0M184.8 316.1h0M185.7 320.1h0M186.2 317.7h0M186.5 312.6h0M182.3 319.6h0M189.4 326.6h0M203.6 297.5h0M181.7 326.9h0M183.4 317.6h0M177.5 325.6h0M176.1 330.0h0M180.5 320.4h0M193.2 302.7h0M185.5 334.1h0M176.6 322.0h0M172.4 326.6h0M185.1 305.4h0M178.0 331.0h0M191.0 300.9h0M192.0 302.7h0M180.7 321.7h0M185.5 319.8h0M193.9 304.1h0M190.1 314.8h0M174.7 329.1h0M193.3 297.9h0M184.0 324.7h0M192.6 307.3h0M184.7 312.9h0M177.7 321.0h0M201.0 292.5h0M186.1 306.3h0M196.8 293.2h0M192.5 314.5h0M180.3 315.6h0M186.7 329.6h0M188.2 323.9h0M193.7 310.7h0M186.6 313.8h0M197.7 318.9h0M193.1 304.4h0M184.4 322.7h0M185.1 303.3h0M175.9 325.4h0M191.6 315.9h0M197.1 293.6h0M173.8 323.6h0M192.4 303.1h0M188.0 316.4h0M183.0 309.2h0M184.0 315.3h0M191.3 308.6h0M179.5 309.3h0M183.0 321.1h0M180.2 315.1h0M189.9 314.5h0M200.5 309.7h0" stroke="#7890e8" stroke-width="0.9" stroke-linecap="round" opacity="0.6"/>
<ellipse cx="187" cy="313.4" rx="8" ry="11" fill="#8fa0ee" opacity="0.35" transform="rotate(0 187 313.4)" filter="url(#fb20)"/>
<path d="M193.6 312.0h0M179.9 301.6h0M185.9 306.9h0M196.6 304.4h0M187.2 299.5h0M192.1 302.4h0M184.8 301.4h0M193.9 301.4h0M191.1 303.5h0M185.8 304.2h0M186.6 305.6h0M186.2 308.8h0M184.5 307.9h0M190.7 306.7h0M173.4 314.6h0M191.8 301.6h0M187.9 303.5h0M181.7 320.9h0M188.6 306.7h0M183.2 305.3h0M176.7 309.7h0M184.8 306.4h0M191.9 309.1h0M189.8 299.4h0M186.8 308.0h0M199.6 289.0h0M182.5 304.3h0M188.5 307.3h0M197.1 303.2h0M197.3 297.8h0M184.9 299.1h0M185.0 309.1h0M189.3 312.9h0M187.5 300.6h0M192.2 294.0h0M193.7 303.6h0M181.5 309.7h0M190.3 308.9h0M187.6 302.4h0M189.1 303.5h0M183.3 310.7h0M194.3 298.5h0M185.9 300.8h0M186.4 302.2h0M188.8 307.0h0M197.2 296.2h0M184.7 300.9h0M188.6 307.5h0M184.0 306.2h0M183.4 300.3h0M185.9 308.9h0M186.8 297.2h0M183.2 305.1h0M199.6 293.9h0M204.3 301.2h0M195.8 304.9h0M174.7 311.4h0M190.2 305.6h0M195.9 300.5h0M184.4 308.1h0M189.8 305.5h0M186.4 305.0h0M171.9 312.7h0M194.7 301.9h0M188.6 307.0h0M187.3 303.9h0M198.6 307.4h0M179.2 306.0h0M190.8 306.7h0M182.6 304.7h0M192.8 307.7h0M184.0 305.2h0M187.6 309.8h0M191.9 304.8h0M199.7 303.0h0M190.0 310.9h0M198.6 306.4h0M199.8 301.3h0M178.2 307.9h0M190.7 303.7h0M194.0 303.6h0M200.6 302.0h0M195.1 307.2h0M198.1 298.5h0M197.9 300.6h0M178.7 317.1h0M191.4 309.1h0M184.1 309.9h0M185.9 316.8h0M198.5 300.2h0M176.5 310.7h0M191.6 303.2h0M192.0 302.1h0M193.5 304.6h0M185.6 310.0h0M193.0 302.3h0M186.1 302.1h0M202.9 308.8h0M194.4 300.4h0M194.1 299.1h0M184.2 298.2h0M186.7 302.8h0M195.8 303.3h0M186.1 304.5h0M189.1 304.4h0M189.9 309.4h0M181.4 309.0h0M190.5 307.7h0M189.5 301.1h0M194.5 307.3h0M185.7 311.0h0M204.4 295.7h0M193.8 291.4h0M191.4 299.8h0M192.6 302.3h0M191.7 308.6h0M195.3 306.1h0M186.4 305.2h0M189.9 302.6h0M185.6 306.6h0M192.8 302.2h0M183.6 312.0h0M186.6 313.6h0M191.7 304.8h0M197.0 301.7h0M183.2 308.2h0M178.9 311.0h0M190.7 306.5h0M190.1 312.5h0M191.0 302.0h0M206.5 297.0h0M194.3 301.7h0M188.3 304.9h0M186.6 305.8h0M188.7 302.7h0M185.5 304.9h0M176.6 311.7h0M175.3 309.4h0M189.3 301.7h0M189.8 312.5h0M190.5 301.8h0M191.7 300.2h0M179.4 305.5h0M193.0 301.7h0M192.7 305.8h0M178.8 302.6h0M184.7 300.8h0M192.7 298.7h0M183.0 313.0h0M181.7 302.0h0M196.2 301.5h0M188.4 307.0h0M185.9 304.4h0M187.4 310.3h0M188.9 298.4h0M182.3 309.5h0M181.5 301.3h0M185.6 298.7h0M190.6 312.6h0M200.1 300.1h0M197.5 301.5h0M189.5 307.2h0M189.9 302.1h0M189.0 303.2h0M191.4 307.9h0M182.7 305.0h0M183.0 314.3h0M193.5 303.3h0M184.1 310.8h0M183.5 299.9h0M185.4 311.5h0M188.8 302.6h0M186.0 309.7h0M184.5 303.8h0M192.4 305.5h0M188.9 306.5h0M191.5 294.6h0M189.6 301.5h0M188.8 304.4h0M191.0 307.2h0M184.1 303.8h0M186.9 305.2h0M180.9 308.4h0M193.7 299.7h0M179.4 312.0h0M197.2 302.8h0M198.0 305.5h0M189.0 303.3h0M202.6 301.5h0M187.5 310.9h0M185.3 304.5h0M197.2 305.2h0M187.1 309.7h0M194.1 292.8h0M188.9 308.7h0M191.0 299.3h0M194.2 299.9h0M194.2 303.7h0M195.8 298.4h0M200.1 298.5h0M188.5 302.6h0M189.0 305.3h0M188.0 307.9h0M193.0 302.1h0M189.3 305.5h0M194.8 307.7h0M184.6 309.8h0M193.6 296.7h0M192.1 310.4h0M187.0 300.5h0M177.8 309.9h0M188.4 304.2h0M194.3 297.1h0M189.0 312.3h0M198.1 297.8h0M179.8 310.2h0M191.6 304.4h0M184.5 309.8h0M185.0 301.7h0M184.7 306.3h0M189.3 299.2h0M191.9 309.0h0M180.6 310.7h0M185.3 294.5h0M190.6 299.0h0M187.8 302.2h0M174.1 307.3h0M194.2 305.6h0M182.1 310.9h0M193.1 309.1h0M200.8 306.7h0M196.9 304.3h0M189.9 298.9h0M189.4 308.8h0M194.8 299.2h0M177.3 306.0h0M180.0 309.7h0M181.6 303.4h0M187.9 303.7h0M190.6 307.6h0M191.3 309.5h0M185.4 308.5h0M206.0 298.7h0M186.3 306.4h0M188.7 303.4h0M198.0 309.0h0M187.4 302.0h0M195.9 306.9h0M190.3 308.1h0M188.5 311.1h0M190.1 305.8h0M193.9 298.3h0M191.4 304.9h0M195.6 299.1h0M178.8 306.7h0M192.6 303.5h0M192.3 309.8h0M195.4 305.6h0M191.5 299.5h0M189.2 303.7h0M184.7 307.3h0M187.5 301.7h0M183.8 299.4h0M199.2 297.0h0M186.2 295.5h0M189.0 305.2h0M191.8 299.8h0M183.2 316.6h0M187.6 306.8h0M190.4 304.1h0M198.1 302.9h0M194.1 308.7h0M194.6 302.4h0M183.9 310.9h0M189.7 298.0h0M193.7 310.7h0M195.6 303.4h0M199.0 302.6h0M184.2 307.9h0M193.8 301.4h0M185.2 301.1h0M198.5 303.7h0M185.2 312.5h0M190.1 300.4h0M185.5 309.2h0M195.7 305.1h0M187.9 294.5h0M183.5 309.2h0M184.0 301.5h0M182.9 298.3h0M197.8 291.5h0M183.5 309.3h0M193.3 307.4h0M184.9 306.4h0M200.3 296.1h0M192.0 300.2h0M180.5 304.6h0M184.3 310.6h0M194.7 311.9h0M184.6 304.8h0M192.8 300.5h0M184.5 306.0h0M195.2 299.0h0M199.6 297.3h0M195.6 305.6h0M186.8 306.0h0M197.2 295.5h0M196.3 300.6h0M194.9 307.1h0M192.3 300.4h0M190.4 299.3h0M178.1 317.9h0M185.4 295.6h0M191.6 295.6h0M192.1 310.4h0M197.6 305.3h0M187.9 301.3h0M177.7 304.5h0M188.1 301.9h0M199.3 298.4h0M188.2 309.5h0M186.7 309.8h0M192.8 299.5h0M194.4 301.1h0M187.2 308.5h0M190.6 302.1h0M195.5 308.5h0M189.9 301.9h0M188.3 305.9h0M196.3 294.2h0M199.3 302.0h0M190.3 316.7h0M197.6 309.5h0M188.0 310.6h0M180.7 306.3h0M184.2 313.1h0M192.5 297.2h0M195.7 303.3h0M193.4 316.8h0M180.0 313.2h0M186.3 307.7h0M193.2 309.4h0M195.0 305.0h0M176.6 308.5h0M191.1 302.5h0M186.4 309.6h0M190.4 302.2h0M188.4 301.7h0M185.9 303.7h0M195.1 309.5h0M192.8 299.7h0M187.4 307.7h0M186.7 309.5h0M198.9 307.0h0M186.0 307.3h0M189.8 307.1h0M184.4 307.7h0M191.3 300.1h0M190.7 306.6h0M189.2 302.3h0M191.3 305.3h0M185.2 305.5h0M189.8 300.4h0M192.3 300.7h0M183.1 312.6h0M196.8 295.6h0M187.3 301.1h0M178.7 314.0h0M187.1 309.6h0M187.3 300.6h0M194.1 300.4h0M194.2 296.1h0M198.0 308.1h0M186.0 296.7h0M178.8 308.1h0M178.5 307.6h0M191.2 301.2h0M192.4 301.6h0M185.0 306.5h0M185.8 307.6h0" stroke="#3550d8" stroke-width="0.9" stroke-linecap="round" opacity="0.75"/>
<ellipse cx="191" cy="302.4" rx="6.5" ry="4.5" fill="#3f5fe0" opacity="0.55" transform="rotate(0 191 302.4)" filter="url(#fb15)"/>
<path d="M204.1 300.3h0M201.2 298.2h0M210.4 297.6h0M205.4 294.0h0M194.0 294.1h0M212.6 297.4h0M214.0 293.2h0M209.3 295.0h0M195.6 298.5h0M218.8 295.6h0M214.3 296.0h0M199.9 291.4h0M213.0 299.3h0M204.6 299.2h0M213.5 294.6h0M214.1 298.5h0M203.2 295.4h0M210.0 294.4h0M199.1 296.9h0M222.8 297.3h0M204.0 295.0h0M218.3 294.2h0M201.2 294.7h0M206.2 294.7h0M206.5 296.5h0M216.9 297.5h0M194.7 295.5h0M200.6 293.3h0M204.6 294.2h0M207.4 294.9h0M217.5 295.7h0M198.3 297.8h0M202.5 297.2h0M195.7 291.6h0M195.6 293.6h0M194.3 300.4h0M218.6 294.5h0M221.2 299.2h0M200.9 295.3h0M211.7 293.4h0M212.4 293.6h0M215.5 301.6h0M209.6 299.4h0M208.4 297.3h0M200.9 296.5h0M218.4 299.3h0M199.2 295.1h0M211.6 298.3h0M207.4 293.0h0M203.0 297.8h0M214.6 294.8h0M210.6 300.0h0M201.0 293.4h0M207.0 299.1h0M206.8 297.0h0M198.1 296.9h0M192.8 296.4h0M204.5 300.0h0M212.8 292.7h0M218.1 301.9h0M208.7 297.0h0M203.1 295.3h0M205.9 297.6h0M208.7 295.8h0M198.9 303.2h0M215.6 299.2h0M203.6 294.7h0M205.0 295.3h0M214.6 292.2h0M207.3 295.8h0M206.1 297.7h0M209.2 296.3h0M209.9 290.4h0M212.5 295.6h0M210.5 295.5h0M197.4 298.1h0M203.3 297.0h0M202.7 294.8h0M215.3 292.6h0M219.3 298.7h0M209.1 298.1h0M224.8 296.0h0M194.9 294.1h0M203.6 295.3h0M197.7 296.1h0M212.8 297.8h0M208.8 292.8h0M211.4 297.0h0M211.6 296.2h0M216.4 293.6h0" stroke="#9090e0" stroke-width="0.9" stroke-linecap="round" opacity="0.6"/>
<ellipse cx="195" cy="294.9" rx="8.5" ry="6.2" fill="#2f7fe0" opacity="0.7" transform="rotate(0 195 294.9)" filter="url(#fb10)"/>
<ellipse cx="195" cy="294.9" rx="7" ry="5.3" fill="#30c050" opacity="0.95" transform="rotate(0 195 294.9)" filter="url(#fb8)"/>
<ellipse cx="194.5" cy="294.9" rx="2.8" ry="2.3" fill="#c8e030" opacity="0.9" transform="rotate(0 194.5 294.9)" filter="url(#fb8)"/>
</g>
<rect x="175" y="287.5" width="25.5" height="13.0" fill="none" stroke="#a8a8a8" stroke-width="0.8"/>
<rect x="205.5" y="282.5" width="17.0" height="18.0" fill="none" stroke="#a8a8a8" stroke-width="0.8"/>
<rect x="200.5" y="300.5" width="22.0" height="11.0" fill="none" stroke="#a8a8a8" stroke-width="0.8"/>
<rect x="200.5" y="311.5" width="22.0" height="27.399999999999977" fill="none" stroke="#a8a8a8" stroke-width="0.8"/>
<line x1="175" y1="300.5" x2="222.5" y2="300.5" stroke="#a8a8a8" stroke-width="0.8"/>
<text x="182" y="292.59999999999997" font-size="4.2" text-anchor="middle" fill="#444" transform="translate(182 292.59999999999997) scale(1 1.11) translate(-182 -292.59999999999997)">R2</text>
<text x="182" y="297.4" font-size="4.2" text-anchor="middle" fill="#444" transform="translate(182 297.4) scale(1 1.11) translate(-182 -297.4)">77%</text>
<text x="230.8" y="291.09999999999997" font-size="4.2" text-anchor="middle" fill="#444" transform="translate(230.8 291.09999999999997) scale(1 1.11) translate(-230.8 -291.09999999999997)">R3</text>
<text x="230.8" y="295.9" font-size="4.2" text-anchor="middle" fill="#444" transform="translate(230.8 295.9) scale(1 1.11) translate(-230.8 -295.9)">1.4%</text>
<text x="230.8" y="305.79999999999995" font-size="4.2" text-anchor="middle" fill="#444" transform="translate(230.8 305.79999999999995) scale(1 1.11) translate(-230.8 -305.79999999999995)">R4</text>
<text x="230.8" y="310.59999999999997" font-size="4.2" text-anchor="middle" fill="#444" transform="translate(230.8 310.59999999999997) scale(1 1.11) translate(-230.8 -310.59999999999997)">0.32%</text>
<text x="230.8" y="324.29999999999995" font-size="4.2" text-anchor="middle" fill="#444" transform="translate(230.8 324.29999999999995) scale(1 1.11) translate(-230.8 -324.29999999999995)">R5</text>
<text x="230.8" y="329.09999999999997" font-size="4.2" text-anchor="middle" fill="#444" transform="translate(230.8 329.09999999999997) scale(1 1.11) translate(-230.8 -329.09999999999997)">0.058%</text>
<text x="181.8" y="332.0" font-size="4.2" text-anchor="middle" fill="#444" transform="translate(181.8 332.0) scale(1 1.11) translate(-181.8 -332.0)">R1</text>
<text x="181.8" y="336.8" font-size="4.2" text-anchor="middle" fill="#444" transform="translate(181.8 336.8) scale(1 1.11) translate(-181.8 -336.8)">19.5%</text>
<clipPath id="fc4"><rect x="33.9" y="345.9" width="63.599999999999994" height="60.5"/></clipPath>
<rect x="33.4" y="345.4" width="64.6" height="61.5" fill="#fff" stroke="#9a9a9a" stroke-width="0.9"/>
<line x1="33.4" y1="392.59767441860464" x2="34.9" y2="392.59767441860464" stroke="#888" stroke-width="0.6"/>
<line x1="48.42325581395349" y1="406.9" x2="48.42325581395349" y2="405.4" stroke="#888" stroke-width="0.6"/>
<line x1="33.4" y1="378.2953488372093" x2="34.9" y2="378.2953488372093" stroke="#888" stroke-width="0.6"/>
<line x1="63.44651162790697" y1="406.9" x2="63.44651162790697" y2="405.4" stroke="#888" stroke-width="0.6"/>
<line x1="33.4" y1="363.9930232558139" x2="34.9" y2="363.9930232558139" stroke="#888" stroke-width="0.6"/>
<line x1="78.46976744186045" y1="406.9" x2="78.46976744186045" y2="405.4" stroke="#888" stroke-width="0.6"/>
<line x1="33.4" y1="349.6906976744186" x2="34.9" y2="349.6906976744186" stroke="#888" stroke-width="0.6"/>
<line x1="93.49302325581395" y1="406.9" x2="93.49302325581395" y2="405.4" stroke="#888" stroke-width="0.6"/>
<g clip-path="url(#fc4)">
<path d="M58.4 395.0h0M35.1 360.1h0M46.5 392.5h0M46.1 365.9h0M42.9 400.6h0M35.0 396.0h0M52.1 389.2h0M54.3 376.8h0M46.3 405.0h0M43.9 378.4h0M34.8 377.8h0M54.1 398.4h0M53.2 391.0h0M52.7 387.5h0M56.5 381.7h0M57.1 382.6h0M33.1 368.2h0M45.7 378.0h0M36.6 374.4h0M49.1 388.3h0M55.0 373.2h0M50.8 395.8h0M50.6 404.4h0M43.2 383.4h0M49.0 378.7h0M47.0 386.2h0M47.1 377.5h0M43.5 382.5h0M33.8 385.6h0M37.7 380.5h0M37.8 384.6h0M44.1 380.4h0M40.9 384.8h0M61.5 362.2h0M52.0 386.1h0M44.0 368.4h0M61.4 385.6h0M56.3 379.1h0M40.7 396.1h0M53.9 379.9h0" stroke="#c0a0d8" stroke-width="0.9" stroke-linecap="round" opacity="0.5"/>
<path d="M66.5 365.9h0M63.9 358.2h0M67.2 368.0h0M71.2 365.8h0M73.3 365.0h0M65.3 373.3h0M65.2 365.3h0M69.9 364.9h0M68.4 367.0h0M69.9 361.7h0M67.5 369.8h0M70.6 362.7h0M67.7 359.0h0M61.8 358.9h0M74.5 363.4h0M58.8 359.6h0M64.4 365.7h0M72.9 364.1h0M68.0 359.6h0M72.7 362.2h0M67.6 374.4h0M63.4 362.7h0M67.2 365.5h0M69.5 371.1h0M69.6 367.1h0M62.1 363.2h0M61.6 366.8h0M67.2 367.8h0M65.3 363.7h0M67.8 366.2h0M67.0 360.6h0M65.8 359.9h0M63.4 356.4h0M61.1 369.6h0M64.2 357.2h0M71.8 366.5h0M66.9 368.5h0M75.6 362.8h0M73.7 368.5h0M72.6 363.1h0M74.8 371.7h0M56.1 364.9h0M73.4 359.5h0M68.9 363.3h0M68.4 360.0h0M70.3 368.0h0M67.0 363.0h0M59.9 363.0h0M61.9 361.4h0M64.0 374.0h0M67.5 370.5h0M67.3 363.2h0M70.7 364.6h0M77.7 366.7h0M74.6 360.8h0M63.5 364.9h0M61.4 370.1h0M69.8 364.8h0M75.3 364.2h0M64.2 350.3h0M58.9 358.8h0M58.3 363.4h0M71.8 367.2h0M60.3 356.8h0M61.4 364.4h0M72.0 364.2h0M67.7 364.6h0M70.7 360.6h0M63.2 365.5h0M69.7 366.6h0M67.7 367.1h0M69.6 361.5h0M75.0 371.4h0M66.4 362.6h0M64.3 355.8h0M62.8 355.1h0M64.5 363.8h0M67.2 356.8h0M66.6 360.2h0M62.6 366.7h0M62.8 365.8h0M60.0 361.8h0M64.3 366.7h0M69.2 360.6h0M70.3 370.5h0M73.3 372.6h0M65.9 372.8h0M64.9 361.8h0M60.6 359.8h0M61.0 361.5h0M59.7 369.1h0M71.1 372.3h0M72.7 366.3h0M69.6 365.3h0M59.1 354.8h0M65.7 367.2h0M61.3 362.0h0M64.9 366.0h0M70.9 360.0h0M62.4 368.4h0M72.2 365.2h0M71.2 365.3h0M69.6 362.5h0M69.9 372.3h0M74.0 372.0h0M68.1 368.2h0M65.6 361.4h0M68.2 358.7h0M68.4 355.9h0M74.8 370.3h0M68.8 360.8h0M64.8 360.7h0M60.1 358.7h0M63.4 365.9h0M73.5 372.6h0M61.5 354.8h0M73.9 369.7h0M72.2 368.5h0M68.6 373.9h0M71.4 368.2h0M63.0 362.5h0M73.5 368.5h0M71.6 364.3h0M70.7 362.2h0M66.7 368.2h0M75.1 365.0h0M66.5 362.1h0M66.7 363.4h0M71.4 366.7h0M67.5 365.6h0M59.6 359.8h0M76.3 362.2h0M64.9 363.7h0M72.0 364.1h0M62.8 368.9h0M57.0 355.2h0M64.1 351.3h0M73.6 375.0h0M60.7 358.9h0M66.3 366.3h0M66.6 365.8h0M69.6 363.7h0M67.7 370.1h0M68.3 366.9h0M67.3 366.8h0M74.8 366.8h0M65.3 359.2h0M72.0 361.7h0M69.6 376.2h0M68.4 372.3h0M67.5 363.1h0M70.1 360.4h0M56.5 359.0h0M64.2 363.2h0M76.3 369.9h0M60.6 362.8h0M59.4 350.2h0M77.1 362.9h0M57.5 359.3h0M66.6 365.3h0M66.7 362.3h0M71.3 364.2h0M64.1 363.9h0M64.9 367.7h0M67.6 362.7h0M65.5 365.6h0M72.1 363.9h0M57.5 363.3h0M64.0 365.1h0M64.7 364.4h0M66.3 359.3h0M61.6 360.8h0M68.2 356.1h0M56.5 360.5h0M77.4 363.6h0M66.3 357.9h0M61.7 368.4h0M60.0 361.8h0M64.1 365.0h0M74.6 367.1h0M66.1 368.2h0M66.1 354.2h0M73.6 363.5h0M68.5 374.5h0M71.8 366.7h0M75.1 362.3h0M59.9 355.2h0M68.0 364.8h0M64.4 372.6h0M71.3 365.9h0M64.3 362.1h0M68.9 362.4h0M80.8 376.9h0M70.6 364.9h0M59.6 365.6h0M64.4 367.5h0M69.5 358.1h0M67.8 362.8h0M66.5 362.8h0M68.0 362.8h0M71.3 367.7h0M66.9 362.6h0M66.1 361.2h0M66.8 364.4h0M66.2 354.2h0M67.9 359.5h0M67.4 375.4h0M72.2 354.0h0M59.4 365.2h0M63.9 354.7h0M59.5 359.7h0M63.8 362.0h0M66.1 363.1h0M65.5 358.9h0M70.8 372.2h0M63.5 361.2h0M76.8 361.9h0M62.4 364.1h0M71.6 365.0h0M72.8 365.0h0M68.5 363.8h0M69.0 364.2h0M74.1 369.6h0M75.0 365.8h0M63.9 359.2h0M65.6 364.4h0M65.6 364.1h0M69.5 358.8h0M61.1 367.3h0M64.6 371.3h0M66.1 356.5h0M62.1 357.6h0M79.5 359.3h0M56.7 355.0h0M67.7 374.2h0M72.2 360.8h0M74.6 372.5h0M64.5 365.2h0M69.2 363.5h0M65.4 360.0h0M69.5 361.8h0M71.5 368.3h0M60.2 362.7h0M66.7 366.9h0M65.9 368.5h0M71.3 369.3h0M70.3 358.1h0M67.2 368.7h0M71.6 368.0h0M67.4 363.2h0M61.3 352.6h0M66.7 367.1h0M66.3 360.5h0M66.6 369.6h0M64.7 362.0h0M69.1 369.2h0M69.4 361.9h0M65.2 357.3h0M66.6 367.8h0M68.3 361.8h0" stroke="#3550d8" stroke-width="0.9" stroke-linecap="round" opacity="0.7"/>
<path d="M66.7 370.1h0M71.4 374.0h0M70.6 375.0h0M72.6 372.4h0M71.1 363.7h0M71.1 370.2h0M70.1 367.8h0M68.8 367.0h0M69.3 367.4h0M72.1 370.3h0M69.9 369.0h0M69.2 368.7h0M67.3 373.5h0M67.7 366.9h0M68.5 380.6h0M72.2 372.5h0M70.2 372.8h0M70.6 380.8h0M73.3 372.3h0M65.2 367.8h0M70.2 369.7h0M70.6 370.4h0M70.7 373.4h0M68.4 366.4h0M68.8 368.8h0M67.2 372.0h0M72.5 370.2h0M68.5 367.3h0M70.2 372.6h0M70.0 377.9h0M70.2 375.8h0M68.7 373.2h0M67.4 374.8h0M73.2 367.9h0M67.5 372.7h0M69.6 375.1h0M62.9 369.3h0M70.9 372.6h0M66.8 374.5h0M69.9 371.7h0M69.0 371.2h0M71.1 366.1h0M61.0 374.1h0M63.4 372.4h0M69.6 373.0h0M66.7 373.8h0M68.7 369.6h0M68.9 368.2h0M73.6 369.0h0M69.5 370.2h0M70.0 371.8h0M68.8 371.8h0M69.9 372.5h0M72.2 371.2h0M69.3 373.7h0M69.2 373.3h0M71.0 362.7h0M69.8 369.9h0M65.6 366.5h0M66.0 375.7h0" stroke="#3550d8" stroke-width="0.9" stroke-linecap="round" opacity="0.6"/>
<ellipse cx="67.4" cy="363.4" rx="7" ry="8" fill="#3550d8" opacity="0.45" transform="rotate(0 67.4 363.4)" filter="url(#fb15)"/>
<ellipse cx="68.4" cy="362.9" rx="5" ry="5" fill="#2aa8d8" opacity="0.7" transform="rotate(0 68.4 362.9)" filter="url(#fb10)"/>
<ellipse cx="68.9" cy="362.9" rx="2.6" ry="2.6" fill="#30c050" opacity="0.95" transform="rotate(0 68.9 362.9)" filter="url(#fb8)"/>
</g>
<rect x="33.4" y="355.5" width="30.1" height="13.0" fill="none" stroke="#a8a8a8" stroke-width="0.8"/>
<rect x="63.5" y="350.5" width="17.0" height="18.0" fill="none" stroke="#a8a8a8" stroke-width="0.8"/>
<rect x="59.5" y="368.5" width="21.0" height="11.0" fill="none" stroke="#a8a8a8" stroke-width="0.8"/>
<rect x="59.5" y="379.5" width="21.0" height="27.399999999999977" fill="none" stroke="#a8a8a8" stroke-width="0.8"/>
<line x1="33.4" y1="368.5" x2="80.5" y2="368.5" stroke="#a8a8a8" stroke-width="0.8"/>
<text x="40.4" y="360.59999999999997" font-size="4.2" text-anchor="middle" fill="#444" transform="translate(40.4 360.59999999999997) scale(1 1.11) translate(-40.4 -360.59999999999997)">R2</text>
<text x="40.4" y="365.4" font-size="4.2" text-anchor="middle" fill="#444" transform="translate(40.4 365.4) scale(1 1.11) translate(-40.4 -365.4)">4.36%</text>
<text x="89.19999999999999" y="359.09999999999997" font-size="4.2" text-anchor="middle" fill="#444" transform="translate(89.19999999999999 359.09999999999997) scale(1 1.11) translate(-89.19999999999999 -359.09999999999997)">R3</text>
<text x="89.19999999999999" y="363.9" font-size="4.2" text-anchor="middle" fill="#444" transform="translate(89.19999999999999 363.9) scale(1 1.11) translate(-89.19999999999999 -363.9)">77.4%</text>
<text x="89.19999999999999" y="373.79999999999995" font-size="4.2" text-anchor="middle" fill="#444" transform="translate(89.19999999999999 373.79999999999995) scale(1 1.11) translate(-89.19999999999999 -373.79999999999995)">R4</text>
<text x="89.19999999999999" y="378.59999999999997" font-size="4.2" text-anchor="middle" fill="#444" transform="translate(89.19999999999999 378.59999999999997) scale(1 1.11) translate(-89.19999999999999 -378.59999999999997)">13.1%</text>
<text x="89.19999999999999" y="392.29999999999995" font-size="4.2" text-anchor="middle" fill="#444" transform="translate(89.19999999999999 392.29999999999995) scale(1 1.11) translate(-89.19999999999999 -392.29999999999995)">R5</text>
<text x="89.19999999999999" y="397.09999999999997" font-size="4.2" text-anchor="middle" fill="#444" transform="translate(89.19999999999999 397.09999999999997) scale(1 1.11) translate(-89.19999999999999 -397.09999999999997)">0.29%</text>
<text x="40.199999999999996" y="400.0" font-size="4.2" text-anchor="middle" fill="#444" transform="translate(40.199999999999996 400.0) scale(1 1.11) translate(-40.199999999999996 -400.0)">R1</text>
<text x="40.199999999999996" y="404.8" font-size="4.2" text-anchor="middle" fill="#444" transform="translate(40.199999999999996 404.8) scale(1 1.11) translate(-40.199999999999996 -404.8)">0.81%</text>
<clipPath id="fc5"><rect x="105.1" y="345.9" width="63.599999999999994" height="60.5"/></clipPath>
<rect x="104.6" y="345.4" width="64.6" height="61.5" fill="#fff" stroke="#9a9a9a" stroke-width="0.9"/>
<line x1="104.6" y1="392.59767441860464" x2="106.1" y2="392.59767441860464" stroke="#888" stroke-width="0.6"/>
<line x1="119.62325581395348" y1="406.9" x2="119.62325581395348" y2="405.4" stroke="#888" stroke-width="0.6"/>
<line x1="104.6" y1="378.2953488372093" x2="106.1" y2="378.2953488372093" stroke="#888" stroke-width="0.6"/>
<line x1="134.64651162790696" y1="406.9" x2="134.64651162790696" y2="405.4" stroke="#888" stroke-width="0.6"/>
<line x1="104.6" y1="363.9930232558139" x2="106.1" y2="363.9930232558139" stroke="#888" stroke-width="0.6"/>
<line x1="149.66976744186047" y1="406.9" x2="149.66976744186047" y2="405.4" stroke="#888" stroke-width="0.6"/>
<line x1="104.6" y1="349.6906976744186" x2="106.1" y2="349.6906976744186" stroke="#888" stroke-width="0.6"/>
<line x1="164.69302325581396" y1="406.9" x2="164.69302325581396" y2="405.4" stroke="#888" stroke-width="0.6"/>
<g clip-path="url(#fc5)">
<path d="M119.9 383.0h0M118.1 376.4h0M120.3 383.2h0M128.5 370.9h0M141.9 344.5h0M119.1 394.3h0M116.7 374.0h0M118.1 392.0h0M130.1 364.4h0M120.5 375.2h0M128.2 376.9h0M119.8 396.5h0M115.4 385.7h0M110.8 378.9h0M99.8 371.7h0M113.0 373.7h0M137.8 353.8h0M97.0 385.2h0M123.5 384.2h0M128.6 408.4h0M113.4 365.6h0M116.2 397.1h0M121.7 379.8h0M120.7 385.9h0M101.7 387.9h0M110.0 379.3h0M112.9 383.3h0M126.6 379.8h0M119.3 393.7h0M122.2 374.0h0M125.3 377.3h0M115.3 385.1h0M132.0 371.6h0M114.2 384.4h0M109.9 384.0h0M129.7 360.2h0M118.2 373.5h0M137.0 389.9h0M123.6 381.0h0M108.3 383.4h0" stroke="#c0a0d8" stroke-width="0.9" stroke-linecap="round" opacity="0.5"/>
<path d="M139.9 363.7h0M146.6 369.9h0M134.1 359.4h0M139.6 357.6h0M137.4 359.6h0M139.1 363.9h0M135.4 368.0h0M135.6 365.2h0M133.4 356.4h0M135.4 359.9h0M142.1 357.2h0M146.1 360.2h0M145.3 366.6h0M136.0 366.2h0M136.1 362.1h0M138.6 377.1h0M133.8 370.6h0M137.0 359.1h0M136.0 368.2h0M137.4 358.8h0M141.2 365.4h0M143.3 359.4h0M145.2 371.6h0M135.0 360.1h0M140.5 362.6h0M142.0 367.2h0M138.2 357.3h0M128.8 360.6h0M132.4 366.1h0M146.5 366.7h0M142.3 370.5h0M142.1 358.9h0M133.6 358.6h0M138.6 358.9h0M139.2 369.6h0M136.4 362.2h0M133.6 360.5h0M142.5 371.0h0M139.3 359.5h0M147.4 356.5h0M136.2 358.4h0M138.3 365.7h0M136.2 379.5h0M147.9 370.9h0M136.0 354.7h0M143.9 369.4h0M140.5 370.9h0M140.6 357.0h0M129.5 357.7h0M138.9 366.2h0M139.6 362.6h0M134.5 364.2h0M141.7 361.5h0M133.8 359.2h0M133.5 362.1h0M132.7 362.3h0M134.3 363.8h0M149.6 361.8h0M138.8 374.8h0M142.6 365.6h0M140.8 362.6h0M131.6 347.6h0M134.8 358.6h0M143.4 366.3h0M130.9 362.3h0M132.3 366.3h0M133.3 365.1h0M138.7 360.6h0M143.3 363.8h0M126.6 360.4h0M133.7 359.0h0M139.3 366.9h0M139.0 358.0h0M134.8 355.9h0M137.0 359.0h0M141.8 360.8h0M142.7 373.4h0M140.5 362.7h0M143.8 360.7h0M137.9 369.2h0M140.9 363.0h0M136.8 359.8h0M145.1 375.2h0M145.2 365.7h0M139.8 359.3h0M133.0 364.0h0M141.3 357.8h0M132.4 362.2h0M131.9 365.7h0M143.9 359.5h0M136.7 366.8h0M143.0 364.5h0M137.6 361.2h0M140.8 366.7h0M137.1 359.8h0M137.6 361.5h0M136.1 355.6h0M138.5 366.8h0M138.6 368.9h0M139.9 367.0h0M142.1 354.4h0M141.5 369.3h0M132.6 351.5h0M133.4 359.3h0M139.7 355.6h0M137.1 356.5h0M139.1 362.3h0M138.9 360.2h0M135.9 366.1h0M132.6 360.3h0M135.2 360.0h0M134.4 367.0h0M142.6 363.0h0M147.4 367.3h0M145.1 360.1h0M135.5 358.5h0M147.9 371.2h0M136.5 363.5h0M137.6 362.0h0M133.9 365.7h0M140.0 359.8h0M140.0 368.0h0M139.4 361.9h0M141.3 367.8h0M147.5 364.0h0M140.0 363.6h0M136.1 362.4h0M131.7 356.5h0M131.8 361.5h0M136.4 357.5h0M136.0 364.6h0M136.3 349.5h0M148.6 365.2h0M142.4 359.3h0M136.3 362.6h0M139.5 360.9h0M146.7 362.6h0M136.6 372.6h0M138.9 355.0h0M141.4 366.8h0M144.6 375.0h0M138.8 368.5h0M138.7 358.7h0M134.3 356.9h0M131.1 367.9h0M135.0 355.3h0M137.9 356.6h0M143.4 374.4h0M140.6 363.4h0M136.6 364.9h0M142.6 369.5h0M136.4 363.6h0M131.7 361.5h0M142.9 370.1h0M134.0 354.2h0M147.9 366.9h0M137.3 364.3h0M137.2 365.3h0M141.2 360.8h0M131.9 358.0h0M123.2 361.5h0M135.3 356.8h0M140.3 367.1h0M136.8 358.0h0M130.5 355.6h0M134.8 353.9h0M137.5 364.3h0M136.9 372.8h0M138.7 365.8h0M155.4 378.0h0M139.1 365.4h0M137.8 364.2h0M137.7 356.0h0M132.2 364.4h0M146.6 367.4h0M133.9 355.5h0M145.5 375.1h0M143.7 364.9h0M136.3 367.6h0M137.3 357.9h0M127.9 356.1h0M137.5 358.5h0M145.3 361.6h0M143.8 366.1h0M137.4 366.7h0M132.7 367.6h0M136.0 360.1h0M140.9 365.4h0M134.6 366.0h0M133.9 361.6h0M134.8 361.2h0M141.6 363.6h0M134.1 366.7h0M141.0 360.3h0M136.3 359.8h0M150.4 368.9h0M145.5 369.4h0M142.3 365.6h0M129.0 358.7h0M139.9 360.2h0M146.1 366.7h0M138.3 352.4h0M143.1 370.3h0M131.8 354.3h0M143.0 358.6h0M139.7 362.3h0M144.7 365.3h0M140.6 362.6h0M129.2 358.8h0M144.6 364.4h0M139.4 363.1h0M141.3 366.7h0M143.6 360.1h0M129.7 364.6h0M136.1 362.2h0M145.5 363.4h0M146.4 366.2h0M129.1 359.4h0M139.0 364.0h0M137.6 374.5h0M145.0 370.0h0M136.3 361.9h0M140.4 371.3h0M131.5 366.8h0M144.2 367.5h0M140.6 361.4h0M137.6 369.1h0M141.6 370.6h0M142.1 362.8h0M143.1 373.6h0M146.9 369.7h0M131.5 364.7h0M130.5 368.6h0M135.2 356.8h0M143.9 368.2h0M139.2 371.0h0M137.2 365.9h0M140.8 367.0h0M141.2 367.1h0M130.0 357.9h0M139.3 359.3h0M142.3 362.9h0M133.5 364.0h0M134.3 358.6h0M137.0 360.1h0M139.6 367.9h0M135.4 363.5h0M137.0 362.0h0M134.2 364.1h0M136.6 361.0h0M135.8 358.0h0M140.8 363.1h0M132.2 365.7h0M146.1 363.0h0M142.3 361.6h0M139.1 367.2h0M134.2 356.5h0M136.0 363.8h0M141.4 361.6h0M139.1 372.5h0M139.7 356.9h0M140.4 357.8h0M135.4 358.9h0M143.4 374.9h0M144.7 370.8h0M135.5 369.3h0M144.9 361.0h0M147.6 368.3h0M139.0 367.2h0M147.2 365.9h0M143.3 372.9h0M138.2 369.8h0M139.3 362.0h0M139.5 366.0h0M144.7 373.7h0M142.5 365.7h0M139.1 362.8h0M130.4 362.5h0M145.8 361.8h0M139.8 364.3h0M138.3 358.1h0M131.8 361.2h0M139.8 360.3h0M142.3 363.8h0M139.9 362.5h0M144.5 367.2h0" stroke="#3550d8" stroke-width="0.9" stroke-linecap="round" opacity="0.7"/>
<path d="M140.6 365.7h0M145.9 375.1h0M145.4 367.4h0M140.5 371.0h0M139.1 372.3h0M141.0 375.9h0M142.8 366.9h0M142.9 370.9h0M144.4 375.3h0M142.8 368.2h0M141.0 377.1h0M140.5 375.4h0M137.2 368.0h0M140.5 369.6h0M138.2 374.2h0M140.3 372.8h0M140.4 375.7h0M135.9 363.1h0M141.5 376.4h0M140.9 373.5h0M140.1 375.5h0M141.8 368.6h0M144.7 369.2h0M136.4 376.2h0M140.5 372.1h0M137.2 372.8h0M140.4 370.8h0M144.4 371.9h0M143.2 369.2h0M140.8 368.9h0M142.3 374.9h0M141.8 370.9h0M136.9 370.2h0M145.1 372.4h0M142.2 378.5h0M139.9 370.6h0M141.2 375.5h0M144.4 373.7h0M139.4 372.4h0M141.4 377.3h0M137.8 373.4h0M141.3 374.4h0M140.9 375.7h0M141.0 372.1h0M146.9 368.3h0M145.7 373.4h0M139.7 376.2h0M139.6 371.3h0M139.2 374.9h0M137.6 369.9h0M138.6 375.0h0M143.5 375.6h0M139.2 370.0h0M137.8 372.7h0M138.8 371.5h0M137.4 371.8h0M145.6 370.7h0M140.8 367.7h0M138.4 371.0h0M137.0 367.4h0" stroke="#3550d8" stroke-width="0.9" stroke-linecap="round" opacity="0.6"/>
<ellipse cx="138.6" cy="363.4" rx="7" ry="8" fill="#3550d8" opacity="0.45" transform="rotate(0 138.6 363.4)" filter="url(#fb15)"/>
<ellipse cx="139.6" cy="362.9" rx="5" ry="5" fill="#2aa8d8" opacity="0.7" transform="rotate(0 139.6 362.9)" filter="url(#fb10)"/>
<ellipse cx="140.1" cy="362.9" rx="2.6" ry="2.6" fill="#30c050" opacity="0.95" transform="rotate(0 140.1 362.9)" filter="url(#fb8)"/>
</g>
<rect x="104.6" y="355.5" width="29.900000000000006" height="13.0" fill="none" stroke="#a8a8a8" stroke-width="0.8"/>
<rect x="134.5" y="350.5" width="18.0" height="18.0" fill="none" stroke="#a8a8a8" stroke-width="0.8"/>
<rect x="130.5" y="368.5" width="22.0" height="11.0" fill="none" stroke="#a8a8a8" stroke-width="0.8"/>
<rect x="130.5" y="379.5" width="22.0" height="27.399999999999977" fill="none" stroke="#a8a8a8" stroke-width="0.8"/>
<line x1="104.6" y1="368.5" x2="152.5" y2="368.5" stroke="#a8a8a8" stroke-width="0.8"/>
<text x="111.6" y="360.59999999999997" font-size="4.2" text-anchor="middle" fill="#444" transform="translate(111.6 360.59999999999997) scale(1 1.11) translate(-111.6 -360.59999999999997)">R2</text>
<text x="111.6" y="365.4" font-size="4.2" text-anchor="middle" fill="#444" transform="translate(111.6 365.4) scale(1 1.11) translate(-111.6 -365.4)">8.02%</text>
<text x="160.39999999999998" y="359.09999999999997" font-size="4.2" text-anchor="middle" fill="#444" transform="translate(160.39999999999998 359.09999999999997) scale(1 1.11) translate(-160.39999999999998 -359.09999999999997)">R3</text>
<text x="160.39999999999998" y="363.9" font-size="4.2" text-anchor="middle" fill="#444" transform="translate(160.39999999999998 363.9) scale(1 1.11) translate(-160.39999999999998 -363.9)">78.5%</text>
<text x="160.39999999999998" y="373.79999999999995" font-size="4.2" text-anchor="middle" fill="#444" transform="translate(160.39999999999998 373.79999999999995) scale(1 1.11) translate(-160.39999999999998 -373.79999999999995)">R4</text>
<text x="160.39999999999998" y="378.59999999999997" font-size="4.2" text-anchor="middle" fill="#444" transform="translate(160.39999999999998 378.59999999999997) scale(1 1.11) translate(-160.39999999999998 -378.59999999999997)">10.2%</text>
<text x="160.39999999999998" y="392.29999999999995" font-size="4.2" text-anchor="middle" fill="#444" transform="translate(160.39999999999998 392.29999999999995) scale(1 1.11) translate(-160.39999999999998 -392.29999999999995)">R5</text>
<text x="160.39999999999998" y="397.09999999999997" font-size="4.2" text-anchor="middle" fill="#444" transform="translate(160.39999999999998 397.09999999999997) scale(1 1.11) translate(-160.39999999999998 -397.09999999999997)">0.33%</text>
<text x="111.39999999999999" y="400.0" font-size="4.2" text-anchor="middle" fill="#444" transform="translate(111.39999999999999 400.0) scale(1 1.11) translate(-111.39999999999999 -400.0)">R1</text>
<text x="111.39999999999999" y="404.8" font-size="4.2" text-anchor="middle" fill="#444" transform="translate(111.39999999999999 404.8) scale(1 1.11) translate(-111.39999999999999 -404.8)">1.95%</text>
<clipPath id="fc6"><rect x="175.5" y="345.9" width="63.599999999999994" height="60.5"/></clipPath>
<rect x="175" y="345.4" width="64.6" height="61.5" fill="#fff" stroke="#9a9a9a" stroke-width="0.9"/>
<line x1="175" y1="392.59767441860464" x2="176.5" y2="392.59767441860464" stroke="#888" stroke-width="0.6"/>
<line x1="190.02325581395348" y1="406.9" x2="190.02325581395348" y2="405.4" stroke="#888" stroke-width="0.6"/>
<line x1="175" y1="378.2953488372093" x2="176.5" y2="378.2953488372093" stroke="#888" stroke-width="0.6"/>
<line x1="205.04651162790697" y1="406.9" x2="205.04651162790697" y2="405.4" stroke="#888" stroke-width="0.6"/>
<line x1="175" y1="363.9930232558139" x2="176.5" y2="363.9930232558139" stroke="#888" stroke-width="0.6"/>
<line x1="220.06976744186045" y1="406.9" x2="220.06976744186045" y2="405.4" stroke="#888" stroke-width="0.6"/>
<line x1="175" y1="349.6906976744186" x2="176.5" y2="349.6906976744186" stroke="#888" stroke-width="0.6"/>
<line x1="235.09302325581396" y1="406.9" x2="235.09302325581396" y2="405.4" stroke="#888" stroke-width="0.6"/>
<g clip-path="url(#fc6)">
<path d="M182.4 393.9h0M180.5 389.9h0M177.9 392.9h0M188.3 400.4h0M196.6 384.0h0M186.5 389.1h0M188.7 373.1h0M194.5 354.3h0M188.6 408.8h0M193.7 366.7h0M198.8 385.7h0M183.7 376.2h0M190.2 393.6h0M188.2 404.5h0M183.6 393.7h0M175.4 360.5h0M188.3 386.9h0M205.8 379.7h0M191.7 369.3h0M189.5 390.3h0M185.7 396.0h0M201.8 390.9h0M188.8 381.5h0M194.7 371.7h0M197.9 376.7h0M191.8 370.7h0M181.0 374.2h0M194.0 384.4h0M190.0 395.6h0M181.4 394.3h0M184.1 373.2h0M184.5 396.4h0M204.0 377.3h0M179.7 365.1h0M189.6 388.9h0M192.8 386.8h0M201.6 384.4h0M192.9 380.5h0M180.7 357.1h0M189.5 376.5h0" stroke="#c0a0d8" stroke-width="0.9" stroke-linecap="round" opacity="0.5"/>
<path d="M206.8 359.8h0M209.3 364.1h0M199.0 357.9h0M211.0 365.8h0M208.0 363.9h0M201.9 362.3h0M207.8 363.2h0M211.9 365.1h0M203.9 352.2h0M206.9 362.5h0M210.0 368.5h0M210.7 365.5h0M201.1 363.9h0M209.7 373.4h0M212.4 361.2h0M209.5 366.5h0M204.8 354.2h0M211.0 361.7h0M208.2 363.5h0M207.7 366.6h0M210.3 365.2h0M212.8 364.7h0M203.4 361.3h0M203.1 362.2h0M203.8 361.3h0M214.6 368.7h0M205.5 355.5h0M207.1 367.5h0M211.5 357.3h0M212.8 366.3h0M212.4 371.2h0M205.3 364.7h0M209.8 368.8h0M207.7 356.4h0M209.8 368.3h0M207.9 361.9h0M209.8 363.1h0M207.2 360.8h0M215.6 364.0h0M209.9 369.2h0M214.0 357.8h0M205.7 356.4h0M208.5 352.8h0M202.8 360.4h0M210.6 358.7h0M210.2 369.9h0M204.8 367.8h0M208.9 353.2h0M209.7 364.3h0M215.6 362.8h0M217.3 366.5h0M211.5 363.6h0M211.4 370.3h0M209.1 361.1h0M212.1 363.5h0M210.4 368.7h0M209.8 365.6h0M210.0 364.4h0M213.0 370.7h0M210.4 356.0h0M202.5 364.7h0M215.7 372.2h0M207.1 363.9h0M206.8 364.6h0M208.8 358.8h0M211.9 364.9h0M218.7 372.7h0M202.3 365.1h0M205.1 359.2h0M208.4 357.2h0M222.9 372.8h0M205.2 367.5h0M199.0 365.5h0M209.8 365.1h0M213.4 366.4h0M211.8 360.3h0M211.3 363.2h0M211.7 363.8h0M211.2 362.2h0M203.6 358.1h0M213.6 364.3h0M209.8 362.4h0M213.4 361.8h0M197.5 356.0h0M206.6 368.4h0M205.7 360.1h0M211.9 368.5h0M207.7 369.2h0M207.4 363.8h0M205.2 352.1h0M206.2 359.7h0M205.3 373.1h0M202.2 363.3h0M216.4 370.1h0M211.7 362.2h0M206.7 368.9h0M216.6 363.9h0M211.2 364.6h0M212.5 361.7h0M213.7 363.7h0M210.6 361.2h0M214.0 364.2h0M212.0 364.6h0M213.1 367.4h0M220.5 364.6h0M213.1 362.9h0M209.9 356.1h0M214.8 354.9h0M212.8 358.0h0M207.9 365.6h0M205.8 364.1h0M209.0 360.7h0M211.1 371.5h0M210.8 364.6h0M209.9 363.8h0M215.0 370.2h0M208.7 365.5h0M204.8 361.8h0M210.7 364.1h0M208.9 368.2h0M212.5 368.0h0M198.7 360.5h0M206.0 359.7h0M209.5 366.5h0M200.5 367.7h0M211.5 363.8h0M204.3 355.3h0M215.8 362.5h0M207.7 361.4h0M208.1 374.1h0M216.9 361.3h0M204.9 368.8h0M210.1 359.2h0M206.5 366.9h0M208.1 362.8h0M225.9 372.3h0M205.1 364.6h0M204.3 358.5h0M207.2 357.2h0M210.3 364.1h0M208.7 367.7h0M214.3 365.0h0M214.8 372.2h0M207.1 367.2h0M204.2 356.0h0M209.2 368.3h0M219.5 368.2h0M214.9 359.6h0M210.8 370.4h0M206.7 363.6h0M211.1 373.5h0M204.3 357.6h0M212.9 369.6h0M211.4 362.4h0M210.0 374.7h0M208.3 368.3h0M215.4 362.1h0M207.4 366.7h0M209.0 364.8h0M206.5 362.0h0M208.6 372.0h0M210.3 365.2h0M215.0 367.9h0M209.1 367.1h0M201.8 359.6h0M210.6 363.7h0M208.5 363.9h0M205.0 367.4h0M206.5 366.7h0M204.7 374.0h0M212.5 355.6h0M201.8 354.1h0M207.8 361.3h0M216.5 374.8h0M202.0 358.2h0M200.1 356.3h0M209.8 366.3h0M210.5 371.4h0M204.5 358.3h0M210.3 368.6h0M208.5 365.3h0M216.7 364.0h0M210.2 359.5h0M213.3 357.8h0M210.2 375.5h0M209.5 362.1h0M210.5 365.2h0M207.7 360.5h0M209.7 364.7h0M205.4 363.6h0M206.4 361.3h0M207.0 356.4h0M199.8 367.2h0M204.3 358.4h0M209.3 367.5h0M208.1 358.8h0M212.6 367.9h0M206.5 362.6h0M209.4 374.2h0M210.8 359.4h0M209.3 356.8h0M210.9 369.7h0M214.6 368.1h0M207.0 362.1h0M205.7 361.7h0M201.8 348.8h0M209.6 362.0h0M204.3 358.2h0M212.2 362.7h0M212.6 367.3h0M204.4 369.2h0M213.6 361.0h0M209.3 358.5h0M208.3 368.1h0M207.3 359.0h0M211.4 359.8h0M209.3 369.1h0M211.9 361.2h0M206.8 367.7h0M216.6 363.8h0M208.4 359.7h0M203.9 356.9h0M207.3 368.2h0M214.4 374.2h0M205.8 356.2h0M212.1 357.4h0M205.6 367.4h0M213.8 370.3h0M205.2 366.0h0M210.8 360.7h0M212.0 372.4h0M206.6 372.2h0M211.4 363.2h0M199.0 355.3h0M205.2 356.5h0M212.1 368.4h0M209.1 363.2h0M208.1 359.1h0M207.2 371.4h0M205.4 366.0h0M212.8 364.8h0M212.8 363.9h0M207.7 362.1h0M214.0 364.6h0M197.5 359.3h0M208.2 363.6h0M208.5 364.1h0M217.9 369.1h0M210.6 356.7h0M206.2 358.8h0M205.6 360.4h0M203.6 355.4h0M206.4 364.9h0M207.4 365.7h0M216.5 362.1h0M208.3 365.2h0M201.4 360.4h0M207.1 370.3h0M206.9 364.8h0M211.6 357.4h0M203.6 366.0h0M206.2 369.7h0M205.8 357.1h0M206.8 368.8h0M209.5 376.1h0M202.0 357.7h0M211.1 365.1h0M207.5 365.5h0M204.5 366.0h0M209.3 361.2h0M207.8 360.9h0M209.3 354.3h0M207.8 358.8h0M204.8 367.9h0M210.3 362.1h0M208.2 372.6h0M209.5 360.4h0M209.8 364.9h0M207.1 371.6h0M206.5 361.2h0M210.1 365.7h0M207.2 364.3h0M213.5 368.8h0M209.4 364.1h0M216.6 368.2h0M208.7 362.7h0" stroke="#3550d8" stroke-width="0.9" stroke-linecap="round" opacity="0.7"/>
<path d="M215.8 369.2h0M216.2 371.9h0M212.7 371.4h0M213.3 374.9h0M210.1 369.0h0M207.3 367.7h0M212.4 372.4h0M211.0 371.0h0M210.4 374.4h0M210.7 371.0h0M214.4 371.5h0M210.8 370.1h0M209.7 369.6h0M212.4 366.0h0M209.7 369.3h0M204.3 374.2h0M207.3 371.0h0M211.2 368.2h0M208.7 381.6h0M210.6 369.0h0M208.8 370.7h0M209.2 366.1h0M213.0 367.3h0M213.0 375.0h0M213.2 374.2h0M208.9 373.3h0M211.0 373.8h0M210.6 377.2h0M212.4 375.4h0M217.3 368.7h0M211.1 366.6h0M208.5 369.2h0M213.0 368.5h0M215.9 374.1h0M212.0 380.1h0M212.6 369.3h0M210.9 379.4h0M213.3 368.5h0M213.4 374.2h0M213.1 369.8h0M207.8 364.6h0M208.8 370.5h0M209.3 369.7h0M211.8 368.9h0M211.3 366.5h0M211.8 379.9h0M212.3 370.6h0M208.2 378.6h0M213.7 376.3h0M210.2 375.7h0M210.7 372.5h0M205.4 371.5h0M212.0 377.4h0M215.0 376.9h0M212.8 371.8h0M211.1 377.1h0M207.3 370.8h0M206.5 367.9h0M211.6 374.0h0M207.0 368.7h0" stroke="#3550d8" stroke-width="0.9" stroke-linecap="round" opacity="0.6"/>
<ellipse cx="209" cy="363.4" rx="7" ry="8" fill="#3550d8" opacity="0.45" transform="rotate(0 209 363.4)" filter="url(#fb15)"/>
<ellipse cx="210" cy="362.9" rx="5" ry="5" fill="#2aa8d8" opacity="0.7" transform="rotate(0 210 362.9)" filter="url(#fb10)"/>
<ellipse cx="210.5" cy="362.9" rx="2.6" ry="2.6" fill="#30c050" opacity="0.95" transform="rotate(0 210.5 362.9)" filter="url(#fb8)"/>
</g>
<rect x="175" y="355.5" width="29.5" height="13.0" fill="none" stroke="#a8a8a8" stroke-width="0.8"/>
<rect x="204.5" y="350.5" width="18.0" height="18.0" fill="none" stroke="#a8a8a8" stroke-width="0.8"/>
<rect x="200.5" y="368.5" width="22.0" height="11.0" fill="none" stroke="#a8a8a8" stroke-width="0.8"/>
<rect x="200.5" y="379.5" width="22.0" height="27.399999999999977" fill="none" stroke="#a8a8a8" stroke-width="0.8"/>
<line x1="175" y1="368.5" x2="222.5" y2="368.5" stroke="#a8a8a8" stroke-width="0.8"/>
<text x="182" y="360.59999999999997" font-size="4.2" text-anchor="middle" fill="#444" transform="translate(182 360.59999999999997) scale(1 1.11) translate(-182 -360.59999999999997)">R2</text>
<text x="182" y="365.4" font-size="4.2" text-anchor="middle" fill="#444" transform="translate(182 365.4) scale(1 1.11) translate(-182 -365.4)">3.58%</text>
<text x="230.8" y="359.09999999999997" font-size="4.2" text-anchor="middle" fill="#444" transform="translate(230.8 359.09999999999997) scale(1 1.11) translate(-230.8 -359.09999999999997)">R3</text>
<text x="230.8" y="363.9" font-size="4.2" text-anchor="middle" fill="#444" transform="translate(230.8 363.9) scale(1 1.11) translate(-230.8 -363.9)">85.4%</text>
<text x="230.8" y="373.79999999999995" font-size="4.2" text-anchor="middle" fill="#444" transform="translate(230.8 373.79999999999995) scale(1 1.11) translate(-230.8 -373.79999999999995)">R4</text>
<text x="230.8" y="378.59999999999997" font-size="4.2" text-anchor="middle" fill="#444" transform="translate(230.8 378.59999999999997) scale(1 1.11) translate(-230.8 -378.59999999999997)">7.05%</text>
<text x="230.8" y="392.29999999999995" font-size="4.2" text-anchor="middle" fill="#444" transform="translate(230.8 392.29999999999995) scale(1 1.11) translate(-230.8 -392.29999999999995)">R5</text>
<text x="230.8" y="397.09999999999997" font-size="4.2" text-anchor="middle" fill="#444" transform="translate(230.8 397.09999999999997) scale(1 1.11) translate(-230.8 -397.09999999999997)">0.15%</text>
<text x="181.8" y="400.0" font-size="4.2" text-anchor="middle" fill="#444" transform="translate(181.8 400.0) scale(1 1.11) translate(-181.8 -400.0)">R1</text>
<text x="181.8" y="404.8" font-size="4.2" text-anchor="middle" fill="#444" transform="translate(181.8 404.8) scale(1 1.11) translate(-181.8 -404.8)">0.98%</text>
<text x="267.8" y="269.5" font-size="11" font-weight="bold" stroke="#000" stroke-width="0.25" text-anchor="start" fill="#000" transform="translate(267.8 269.5) scale(1 1.11) translate(-267.8 -269.5)">E</text>
<line x1="302.3" y1="311.6" x2="302.3" y2="394.2" stroke="#8a8a8a" stroke-width="0.9"/>
<line x1="302.3" y1="394.2" x2="479.6" y2="394.2" stroke="#8a8a8a" stroke-width="0.9"/>
<line x1="300.3" y1="394.2" x2="302.3" y2="394.2" stroke="#8a8a8a" stroke-width="0.8"/>
<text x="299.5" y="396.0" font-size="5" text-anchor="end" fill="#555" transform="translate(299.5 396.0) scale(1 1.11) translate(-299.5 -396.0)">0</text>
<line x1="300.3" y1="377.68" x2="302.3" y2="377.68" stroke="#8a8a8a" stroke-width="0.8"/>
<text x="299.5" y="379.48" font-size="5" text-anchor="end" fill="#555" transform="translate(299.5 379.48) scale(1 1.11) translate(-299.5 -379.48)">2</text>
<line x1="300.3" y1="361.15999999999997" x2="302.3" y2="361.15999999999997" stroke="#8a8a8a" stroke-width="0.8"/>
<text x="299.5" y="362.96" font-size="5" text-anchor="end" fill="#555" transform="translate(299.5 362.96) scale(1 1.11) translate(-299.5 -362.96)">4</text>
<line x1="300.3" y1="344.64" x2="302.3" y2="344.64" stroke="#8a8a8a" stroke-width="0.8"/>
<text x="299.5" y="346.44" font-size="5" text-anchor="end" fill="#555" transform="translate(299.5 346.44) scale(1 1.11) translate(-299.5 -346.44)">6</text>
<line x1="300.3" y1="328.12" x2="302.3" y2="328.12" stroke="#8a8a8a" stroke-width="0.8"/>
<text x="299.5" y="329.92" font-size="5" text-anchor="end" fill="#555" transform="translate(299.5 329.92) scale(1 1.11) translate(-299.5 -329.92)">8</text>
<line x1="300.3" y1="311.6" x2="302.3" y2="311.6" stroke="#8a8a8a" stroke-width="0.8"/>
<text x="299.5" y="313.40000000000003" font-size="5" text-anchor="end" fill="#555" transform="translate(299.5 313.40000000000003) scale(1 1.11) translate(-299.5 -313.40000000000003)">10</text>
<line x1="312.65" y1="387.179" x2="312.65" y2="386.76599999999996" stroke="#777" stroke-width="0.8"/>
<line x1="311.45" y1="386.76599999999996" x2="313.84999999999997" y2="386.76599999999996" stroke="#777" stroke-width="0.8"/>
<rect x="309.09999999999997" y="387.57899999999995" width="7.1000000000000005" height="6.6209999999999996" fill="#ffffff" stroke="#6a6a6a" stroke-width="0.8"/>
<line x1="320.54999999999995" y1="387.7572" x2="320.54999999999995" y2="387.3442" stroke="#777" stroke-width="0.8"/>
<line x1="319.34999999999997" y1="387.3442" x2="321.74999999999994" y2="387.3442" stroke="#777" stroke-width="0.8"/>
<rect x="316.99999999999994" y="388.1572" width="7.1000000000000005" height="6.0428" fill="#bcbcbc" stroke="#777" stroke-width="0.8"/>
<line x1="328.45" y1="391.722" x2="328.45" y2="391.30899999999997" stroke="#777" stroke-width="0.8"/>
<line x1="327.25" y1="391.30899999999997" x2="329.65" y2="391.30899999999997" stroke="#777" stroke-width="0.8"/>
<rect x="324.9" y="392.12199999999996" width="7.1000000000000005" height="2.078" fill="#000000" stroke="#000" stroke-width="0.8"/>
<line x1="348.34999999999997" y1="391.30899999999997" x2="348.34999999999997" y2="390.89599999999996" stroke="#777" stroke-width="0.8"/>
<line x1="347.15" y1="390.89599999999996" x2="349.54999999999995" y2="390.89599999999996" stroke="#777" stroke-width="0.8"/>
<rect x="344.79999999999995" y="391.70899999999995" width="7.1000000000000005" height="2.4909999999999997" fill="#ffffff" stroke="#6a6a6a" stroke-width="0.8"/>
<line x1="356.24999999999994" y1="388.005" x2="356.24999999999994" y2="387.179" stroke="#777" stroke-width="0.8"/>
<line x1="355.04999999999995" y1="387.179" x2="357.44999999999993" y2="387.179" stroke="#777" stroke-width="0.8"/>
<rect x="352.69999999999993" y="388.405" width="7.1000000000000005" height="5.795" fill="#bcbcbc" stroke="#777" stroke-width="0.8"/>
<line x1="364.15" y1="385.94" x2="364.15" y2="385.527" stroke="#777" stroke-width="0.8"/>
<line x1="362.95" y1="385.527" x2="365.34999999999997" y2="385.527" stroke="#777" stroke-width="0.8"/>
<rect x="360.59999999999997" y="386.34" width="7.1000000000000005" height="7.859999999999999" fill="#000000" stroke="#000" stroke-width="0.8"/>
<line x1="383.55" y1="364.464" x2="383.55" y2="363.638" stroke="#777" stroke-width="0.8"/>
<line x1="382.35" y1="363.638" x2="384.75" y2="363.638" stroke="#777" stroke-width="0.8"/>
<rect x="380.0" y="364.864" width="7.1000000000000005" height="29.336000000000002" fill="#ffffff" stroke="#6a6a6a" stroke-width="0.8"/>
<line x1="391.45" y1="352.074" x2="391.45" y2="350.83500000000004" stroke="#777" stroke-width="0.8"/>
<line x1="390.25" y1="350.83500000000004" x2="392.65" y2="350.83500000000004" stroke="#777" stroke-width="0.8"/>
<rect x="387.9" y="352.474" width="7.1000000000000005" height="41.726" fill="#bcbcbc" stroke="#777" stroke-width="0.8"/>
<line x1="399.35" y1="320.686" x2="399.35" y2="319.034" stroke="#777" stroke-width="0.8"/>
<line x1="398.15000000000003" y1="319.034" x2="400.55" y2="319.034" stroke="#777" stroke-width="0.8"/>
<rect x="395.8" y="321.08599999999996" width="7.1000000000000005" height="73.11399999999999" fill="#000000" stroke="#000" stroke-width="0.8"/>
<line x1="419.55" y1="377.68" x2="419.55" y2="377.0192" stroke="#777" stroke-width="0.8"/>
<line x1="418.35" y1="377.0192" x2="420.75" y2="377.0192" stroke="#777" stroke-width="0.8"/>
<rect x="416.0" y="378.08" width="7.1000000000000005" height="16.12" fill="#ffffff" stroke="#6a6a6a" stroke-width="0.8"/>
<line x1="427.45" y1="376.854" x2="427.45" y2="376.02799999999996" stroke="#777" stroke-width="0.8"/>
<line x1="426.25" y1="376.02799999999996" x2="428.65" y2="376.02799999999996" stroke="#777" stroke-width="0.8"/>
<rect x="423.9" y="377.25399999999996" width="7.1000000000000005" height="16.946" fill="#bcbcbc" stroke="#777" stroke-width="0.8"/>
<line x1="435.35" y1="376.6888" x2="435.35" y2="375.0368" stroke="#777" stroke-width="0.8"/>
<line x1="434.15000000000003" y1="375.0368" x2="436.55" y2="375.0368" stroke="#777" stroke-width="0.8"/>
<rect x="431.8" y="377.0888" width="7.1000000000000005" height="17.1112" fill="#000000" stroke="#000" stroke-width="0.8"/>
<rect x="451.4" y="394.18699999999995" width="7.1000000000000005" height="0.3" fill="#ffffff" stroke="#6a6a6a" stroke-width="0.8"/>
<rect x="459.29999999999995" y="394.10439999999994" width="7.1000000000000005" height="0.3" fill="#bcbcbc" stroke="#777" stroke-width="0.8"/>
<rect x="467.2" y="393.6088" width="7.1000000000000005" height="0.5912" fill="#000000" stroke="#000" stroke-width="0.8"/>
<path d="M321.1,385.5 Q321.1,383.2 322.7,383.2 L324.6,383.2 Q325.6,383.2 325.6,381.0 Q325.6,383.2 326.6,383.2 L328.4,383.2 Q330.0,383.2 330.0,385.5" fill="none" stroke="#3a3a3a" stroke-width="0.95"/>
<text x="325.9" y="382.8" font-size="10" font-weight="bold" stroke="#000" stroke-width="0.25" text-anchor="middle" fill="#000" transform="translate(325.9 382.8) scale(1 1.11) translate(-325.9 -382.8)">*</text>
<path d="M349.0,385.5 Q349.0,383.2 350.6,383.2 L352.0,383.2 Q353.0,383.2 353.0,381.0 Q353.0,383.2 354.0,383.2 L355.4,383.2 Q357.0,383.2 357.0,385.5" fill="none" stroke="#3a3a3a" stroke-width="0.95"/>
<text x="352.8" y="382.8" font-size="10" font-weight="bold" stroke="#000" stroke-width="0.25" text-anchor="middle" fill="#000" transform="translate(352.8 382.8) scale(1 1.11) translate(-352.8 -382.8)">*</text>
<path d="M356.3,374.0 Q356.3,371.7 357.9,371.7 L359.6,371.7 Q360.6,371.7 360.6,369.5 Q360.6,371.7 361.6,371.7 L363.2,371.7 Q364.8,371.7 364.8,374.0" fill="none" stroke="#3a3a3a" stroke-width="0.95"/>
<text x="360.8" y="370.5" font-size="10" font-weight="bold" stroke="#000" stroke-width="0.25" text-anchor="middle" fill="#000" transform="translate(360.8 370.5) scale(1 1.11) translate(-360.8 -370.5)">*</text>
<path d="M382.5,345.7 Q382.5,343.4 384.1,343.4 L386.1,343.4 Q387.1,343.4 387.1,341.2 Q387.1,343.4 388.1,343.4 L390.0,343.4 Q391.6,343.4 391.6,345.7" fill="none" stroke="#3a3a3a" stroke-width="0.95"/>
<text x="386.7" y="343.14" font-size="10.4" font-weight="bold" stroke="#000" stroke-width="0.25" text-anchor="middle" fill="#000" transform="translate(386.7 343.14) scale(1 1.11) translate(-386.7 -343.14)">**</text>
<path d="M389.8,316.1 Q389.8,313.8 391.4,313.8 L393.5,313.8 Q394.5,313.8 394.5,311.6 Q394.5,313.8 395.5,313.8 L397.5,313.8 Q399.1,313.8 399.1,316.1" fill="none" stroke="#3a3a3a" stroke-width="0.95"/>
<text x="394.1" y="313.54" font-size="10.4" font-weight="bold" stroke="#000" stroke-width="0.25" text-anchor="middle" fill="#000" transform="translate(394.1 313.54) scale(1 1.11) translate(-394.1 -313.54)">***</text>
<text x="319.7" y="405" font-size="8.1" font-weight="bold" stroke="#000" stroke-width="0.25" text-anchor="middle" fill="#000" transform="translate(319.7 405) scale(1 1.11) translate(-319.7 -405)">R1</text>
<text x="356.8" y="405" font-size="8.1" font-weight="bold" stroke="#000" stroke-width="0.25" text-anchor="middle" fill="#000" transform="translate(356.8 405) scale(1 1.11) translate(-356.8 -405)">R2</text>
<text x="390.7" y="405" font-size="8.1" font-weight="bold" stroke="#000" stroke-width="0.25" text-anchor="middle" fill="#000" transform="translate(390.7 405) scale(1 1.11) translate(-390.7 -405)">R3</text>
<text x="426" y="405" font-size="8.1" font-weight="bold" stroke="#000" stroke-width="0.25" text-anchor="middle" fill="#000" transform="translate(426 405) scale(1 1.11) translate(-426 -405)">R4</text>
<text x="462" y="405" font-size="8.1" font-weight="bold" stroke="#000" stroke-width="0.25" text-anchor="middle" fill="#000" transform="translate(462 405) scale(1 1.11) translate(-462 -405)">R5</text>
<text x="278" y="346" font-size="10.3" font-weight="bold" stroke="#000" stroke-width="0.25" text-anchor="middle" fill="#000" transform="translate(278 346) scale(0.9009 1) rotate(-90) translate(-278 -346)">Absolute cell numbers</text>
<text x="288.6" y="346.7" font-size="10.7" font-weight="bold" stroke="#000" stroke-width="0.25" text-anchor="middle" fill="#000" transform="translate(288.6 346.7) scale(0.9009 1) rotate(-90) translate(-288.6 -346.7)">(x10<tspan dy="-3.4" font-size="7">6</tspan><tspan dy="3.4">/mL)</tspan></text>
<rect x="427.0" y="316.7" width="50" height="33.3" fill="#fff" stroke="#333" stroke-width="1"/>
<rect x="429.5" y="320.8" width="6" height="5" fill="#fff" stroke="#222" stroke-width="1"/>
<text x="440.2" y="326.18" font-size="8" text-anchor="start" fill="#000" transform="translate(440.2 326.18) scale(1 1.11) translate(-440.2 -326.18)">wt, n=3</text>
<rect x="429.5" y="330.2" width="6" height="5" fill="#bcbcbc" stroke="#222" stroke-width="1"/>
<text x="440.2" y="335.58" font-size="8" text-anchor="start" fill="#000" transform="translate(440.2 335.58) scale(1 1.11) translate(-440.2 -335.58)">het, n=3</text>
<rect x="429.5" y="339.6" width="6" height="5" fill="#000" stroke="#222" stroke-width="1"/>
<text x="440.2" y="344.98" font-size="8" text-anchor="start" fill="#000" transform="translate(440.2 344.98) scale(1 1.11) translate(-440.2 -344.98)">hom, n=3</text>
<text x="0.5" y="430.5" font-size="11" font-weight="bold" stroke="#000" stroke-width="0.25" text-anchor="start" fill="#000" transform="translate(0.5 430.5) scale(1 1.11) translate(-0.5 -430.5)">F</text>
<line x1="58.7" y1="442.79999999999995" x2="58.7" y2="554.8" stroke="#8a8a8a" stroke-width="0.9"/>
<line x1="58.7" y1="554.8" x2="253.6" y2="554.8" stroke="#8a8a8a" stroke-width="0.9"/>
<line x1="56.7" y1="554.8" x2="58.7" y2="554.8" stroke="#8a8a8a" stroke-width="0.8"/>
<text x="55.6" y="557.1759999999999" font-size="6.6" text-anchor="end" fill="#111" transform="translate(55.6 557.1759999999999) scale(1 1.11) translate(-55.6 -557.1759999999999)">0</text>
<line x1="56.7" y1="540.8" x2="58.7" y2="540.8" stroke="#8a8a8a" stroke-width="0.8"/>
<text x="55.6" y="543.1759999999999" font-size="6.6" text-anchor="end" fill="#111" transform="translate(55.6 543.1759999999999) scale(1 1.11) translate(-55.6 -543.1759999999999)">2</text>
<line x1="56.7" y1="526.8" x2="58.7" y2="526.8" stroke="#8a8a8a" stroke-width="0.8"/>
<text x="55.6" y="529.1759999999999" font-size="6.6" text-anchor="end" fill="#111" transform="translate(55.6 529.1759999999999) scale(1 1.11) translate(-55.6 -529.1759999999999)">4</text>
<line x1="56.7" y1="512.8" x2="58.7" y2="512.8" stroke="#8a8a8a" stroke-width="0.8"/>
<text x="55.6" y="515.1759999999999" font-size="6.6" text-anchor="end" fill="#111" transform="translate(55.6 515.1759999999999) scale(1 1.11) translate(-55.6 -515.1759999999999)">6</text>
<line x1="56.7" y1="498.79999999999995" x2="58.7" y2="498.79999999999995" stroke="#8a8a8a" stroke-width="0.8"/>
<text x="55.6" y="501.17599999999993" font-size="6.6" text-anchor="end" fill="#111" transform="translate(55.6 501.17599999999993) scale(1 1.11) translate(-55.6 -501.17599999999993)">8</text>
<line x1="56.7" y1="484.79999999999995" x2="58.7" y2="484.79999999999995" stroke="#8a8a8a" stroke-width="0.8"/>
<text x="55.6" y="487.17599999999993" font-size="6.6" text-anchor="end" fill="#111" transform="translate(55.6 487.17599999999993) scale(1 1.11) translate(-55.6 -487.17599999999993)">10</text>
<line x1="56.7" y1="470.79999999999995" x2="58.7" y2="470.79999999999995" stroke="#8a8a8a" stroke-width="0.8"/>
<text x="55.6" y="473.17599999999993" font-size="6.6" text-anchor="end" fill="#111" transform="translate(55.6 473.17599999999993) scale(1 1.11) translate(-55.6 -473.17599999999993)">12</text>
<line x1="56.7" y1="456.79999999999995" x2="58.7" y2="456.79999999999995" stroke="#8a8a8a" stroke-width="0.8"/>
<text x="55.6" y="459.17599999999993" font-size="6.6" text-anchor="end" fill="#111" transform="translate(55.6 459.17599999999993) scale(1 1.11) translate(-55.6 -459.17599999999993)">14</text>
<line x1="56.7" y1="442.79999999999995" x2="58.7" y2="442.79999999999995" stroke="#8a8a8a" stroke-width="0.8"/>
<text x="55.6" y="445.17599999999993" font-size="6.6" text-anchor="end" fill="#111" transform="translate(55.6 445.17599999999993) scale(1 1.11) translate(-55.6 -445.17599999999993)">16</text>
<line x1="124.2" y1="554.8" x2="124.2" y2="556.8" stroke="#8a8a8a" stroke-width="0.8"/>
<line x1="189.6" y1="554.8" x2="189.6" y2="556.8" stroke="#8a8a8a" stroke-width="0.8"/>
<line x1="253.4" y1="554.8" x2="253.4" y2="556.8" stroke="#8a8a8a" stroke-width="0.8"/>
<polyline points="92.3,547.3 156.6,514.9 221.4,502.3" fill="none" stroke="#1f2a80" stroke-width="1.1"/>
<polyline points="92.3,547.3 156.6,507.9 221.4,488.3" fill="none" stroke="#e040d8" stroke-width="1.1"/>
<polyline points="92.3,547.3 156.6,506.1 221.4,462.4" fill="none" stroke="#e03a3a" stroke-width="1.1"/>
<line x1="92.3" y1="545.4599999999999" x2="92.3" y2="549.16" stroke="#1f2a80" stroke-width="0.7"/>
<line x1="91.1" y1="545.4599999999999" x2="93.5" y2="545.4599999999999" stroke="#1f2a80" stroke-width="0.7"/>
<path d="M92.3,545.1099999999999 L94.3,547.31 L92.3,549.51 L90.3,547.31 Z" fill="#1f2a80"/>
<line x1="156.6" y1="512.6999999999999" x2="156.6" y2="517.1" stroke="#1f2a80" stroke-width="0.7"/>
<line x1="155.4" y1="512.6999999999999" x2="157.79999999999998" y2="512.6999999999999" stroke="#1f2a80" stroke-width="0.7"/>
<path d="M156.6,512.6999999999999 L158.6,514.9 L156.6,517.1 L154.6,514.9 Z" fill="#1f2a80"/>
<line x1="221.4" y1="499.74999999999994" x2="221.4" y2="504.84999999999997" stroke="#1f2a80" stroke-width="0.7"/>
<line x1="220.20000000000002" y1="499.74999999999994" x2="222.6" y2="499.74999999999994" stroke="#1f2a80" stroke-width="0.7"/>
<path d="M221.4,500.09999999999997 L223.4,502.29999999999995 L221.4,504.49999999999994 L219.4,502.29999999999995 Z" fill="#1f2a80"/>
<line x1="92.3" y1="545.4599999999999" x2="92.3" y2="549.16" stroke="#e040d8" stroke-width="0.7"/>
<line x1="91.1" y1="545.4599999999999" x2="93.5" y2="545.4599999999999" stroke="#e040d8" stroke-width="0.7"/>
<rect x="90.7" y="545.7099999999999" width="3.2" height="3.2" fill="#e040d8" stroke="none" stroke-width="1"/>
<line x1="156.6" y1="505.34999999999997" x2="156.6" y2="510.45" stroke="#e040d8" stroke-width="0.7"/>
<line x1="155.4" y1="505.34999999999997" x2="157.79999999999998" y2="505.34999999999997" stroke="#e040d8" stroke-width="0.7"/>
<rect x="155.0" y="506.29999999999995" width="3.2" height="3.2" fill="#e040d8" stroke="none" stroke-width="1"/>
<line x1="221.4" y1="485.04999999999995" x2="221.4" y2="491.54999999999995" stroke="#e040d8" stroke-width="0.7"/>
<line x1="220.20000000000002" y1="485.04999999999995" x2="222.6" y2="485.04999999999995" stroke="#e040d8" stroke-width="0.7"/>
<rect x="219.8" y="486.69999999999993" width="3.2" height="3.2" fill="#e040d8" stroke="none" stroke-width="1"/>
<line x1="92.3" y1="545.4599999999999" x2="92.3" y2="549.16" stroke="#e03a3a" stroke-width="0.7"/>
<line x1="91.1" y1="545.4599999999999" x2="93.5" y2="545.4599999999999" stroke="#e03a3a" stroke-width="0.7"/>
<path d="M92.3,545.1099999999999 L94.3,548.91 L90.3,548.91 Z" fill="#e03a3a"/>
<line x1="156.6" y1="502.54999999999995" x2="156.6" y2="509.75" stroke="#e03a3a" stroke-width="0.7"/>
<line x1="155.4" y1="502.54999999999995" x2="157.79999999999998" y2="502.54999999999995" stroke="#e03a3a" stroke-width="0.7"/>
<path d="M156.6,503.95 L158.6,507.75 L154.6,507.75 Z" fill="#e03a3a"/>
<line x1="221.4" y1="458.79999999999995" x2="221.4" y2="466.0" stroke="#e03a3a" stroke-width="0.7"/>
<line x1="220.20000000000002" y1="458.79999999999995" x2="222.6" y2="458.79999999999995" stroke="#e03a3a" stroke-width="0.7"/>
<path d="M221.4,460.2 L223.4,464.0 L219.4,464.0 Z" fill="#e03a3a"/>
<text x="156.4" y="500.25" font-size="15" font-weight="bold" stroke="#000" stroke-width="0.25" text-anchor="middle" fill="#000" transform="translate(156.4 500.25) scale(1 1.11) translate(-156.4 -500.25)">*</text>
<text x="221" y="459.45000000000005" font-size="15" font-weight="bold" stroke="#000" stroke-width="0.25" text-anchor="middle" fill="#000" transform="translate(221 459.45000000000005) scale(1 1.11) translate(-221 -459.45000000000005)">*</text>
<text x="92.3" y="569.4" font-size="6.5" font-weight="bold" stroke="#000" stroke-width="0.25" text-anchor="middle" fill="#000" transform="translate(92.3 569.4) scale(1 1.11) translate(-92.3 -569.4)">day 0</text>
<text x="156.6" y="569.4" font-size="6.5" font-weight="bold" stroke="#000" stroke-width="0.25" text-anchor="middle" fill="#000" transform="translate(156.6 569.4) scale(1 1.11) translate(-156.6 -569.4)">day 1</text>
<text x="221.5" y="569.4" font-size="6.5" font-weight="bold" stroke="#000" stroke-width="0.25" text-anchor="middle" fill="#000" transform="translate(221.5 569.4) scale(1 1.11) translate(-221.5 -569.4)">day 2</text>
<text x="29.3" y="499.4" font-size="10.3" font-weight="bold" stroke="#000" stroke-width="0.25" text-anchor="middle" fill="#000" transform="translate(29.3 499.4) scale(0.9009 1) rotate(-90) translate(-29.3 -499.4)">Total cell counts in culture</text>
<text x="41.6" y="500.1" font-size="10.4" font-weight="bold" stroke="#000" stroke-width="0.25" text-anchor="middle" fill="#000" transform="translate(41.6 500.1) scale(0.9009 1) rotate(-90) translate(-41.6 -500.1)">(x10<tspan dy="-3.4" font-size="7">5</tspan><tspan dy="3.4">/mL)</tspan></text>
<rect x="87.3" y="439.2" width="60.4" height="36" fill="#fff" stroke="#333" stroke-width="1"/>
<line x1="90" y1="448.7" x2="103" y2="448.7" stroke="#1f2a80" stroke-width="1.3"/>
<path d="M96.5,446.7 L98.3,448.7 L96.5,450.7 L94.7,448.7 Z" fill="#1f2a80"/>
<text x="105" y="452.0" font-size="9.2" text-anchor="start" fill="#000" transform="translate(105 452.0) scale(1 1.11) translate(-105 -452.0)">wt, n=3</text>
<line x1="90" y1="457.3" x2="103" y2="457.3" stroke="#e040d8" stroke-width="1.3"/>
<rect x="95.0" y="455.8" width="3" height="3" fill="#e040d8" stroke="none" stroke-width="1"/>
<text x="105" y="460.6" font-size="9.2" text-anchor="start" fill="#000" transform="translate(105 460.6) scale(1 1.11) translate(-105 -460.6)">het, n=3</text>
<line x1="90" y1="466.2" x2="103" y2="466.2" stroke="#e03a3a" stroke-width="1.3"/>
<path d="M96.5,464.2 L98.4,467.7 L94.6,467.7 Z" fill="#e03a3a"/>
<text x="105" y="469.5" font-size="9.2" text-anchor="start" fill="#000" transform="translate(105 469.5) scale(1 1.11) translate(-105 -469.5)">hom, n=3</text>
<text x="271.5" y="430.3" font-size="11" font-weight="bold" stroke="#000" stroke-width="0.25" text-anchor="start" fill="#000" transform="translate(271.5 430.3) scale(1 1.11) translate(-271.5 -430.3)">G</text>
<line x1="301.5" y1="426.3" x2="301.5" y2="566.5" stroke="#8a8a8a" stroke-width="0.9"/>
<line x1="301.5" y1="566.5" x2="445" y2="566.5" stroke="#8a8a8a" stroke-width="0.9"/>
<line x1="299.5" y1="566.5" x2="301.5" y2="566.5" stroke="#8a8a8a" stroke-width="0.8"/>
<text x="298.5" y="568.3" font-size="5" text-anchor="end" fill="#555" transform="translate(298.5 568.3) scale(1 1.11) translate(-298.5 -568.3)">0</text>
<line x1="299.5" y1="538.46" x2="301.5" y2="538.46" stroke="#8a8a8a" stroke-width="0.8"/>
<text x="298.5" y="540.26" font-size="5" text-anchor="end" fill="#555" transform="translate(298.5 540.26) scale(1 1.11) translate(-298.5 -540.26)">1</text>
<line x1="299.5" y1="510.42" x2="301.5" y2="510.42" stroke="#8a8a8a" stroke-width="0.8"/>
<text x="298.5" y="512.22" font-size="5" text-anchor="end" fill="#555" transform="translate(298.5 512.22) scale(1 1.11) translate(-298.5 -512.22)">2</text>
<line x1="299.5" y1="482.38" x2="301.5" y2="482.38" stroke="#8a8a8a" stroke-width="0.8"/>
<text x="298.5" y="484.18" font-size="5" text-anchor="end" fill="#555" transform="translate(298.5 484.18) scale(1 1.11) translate(-298.5 -484.18)">3</text>
<line x1="299.5" y1="454.34000000000003" x2="301.5" y2="454.34000000000003" stroke="#8a8a8a" stroke-width="0.8"/>
<text x="298.5" y="456.14000000000004" font-size="5" text-anchor="end" fill="#555" transform="translate(298.5 456.14000000000004) scale(1 1.11) translate(-298.5 -456.14000000000004)">4</text>
<line x1="299.5" y1="426.3" x2="301.5" y2="426.3" stroke="#8a8a8a" stroke-width="0.8"/>
<text x="298.5" y="428.1" font-size="5" text-anchor="end" fill="#555" transform="translate(298.5 428.1) scale(1 1.11) translate(-298.5 -428.1)">5</text>
<line x1="321.45" y1="525.842" x2="321.45" y2="525.0008" stroke="#777" stroke-width="0.8"/>
<line x1="320.25" y1="525.0008" x2="322.65" y2="525.0008" stroke="#777" stroke-width="0.8"/>
<rect x="313.9" y="526.242" width="15.1" height="40.257999999999996" fill="#ffffff" stroke="#6a6a6a" stroke-width="0.8"/>
<line x1="337.34999999999997" y1="532.852" x2="337.34999999999997" y2="530.048" stroke="#777" stroke-width="0.8"/>
<line x1="336.15" y1="530.048" x2="338.54999999999995" y2="530.048" stroke="#777" stroke-width="0.8"/>
<rect x="329.79999999999995" y="533.252" width="15.1" height="33.248" fill="#bcbcbc" stroke="#777" stroke-width="0.8"/>
<line x1="353.25" y1="529.4872" x2="353.25" y2="526.1224000000001" stroke="#777" stroke-width="0.8"/>
<line x1="352.05" y1="526.1224000000001" x2="354.45" y2="526.1224000000001" stroke="#777" stroke-width="0.8"/>
<rect x="345.7" y="529.8872" width="15.1" height="36.6128" fill="#000000" stroke="#000" stroke-width="0.8"/>
<line x1="392.95" y1="486.3056" x2="392.95" y2="481.25840000000005" stroke="#777" stroke-width="0.8"/>
<line x1="391.75" y1="481.25840000000005" x2="394.15" y2="481.25840000000005" stroke="#777" stroke-width="0.8"/>
<rect x="385.4" y="486.7056" width="15.1" height="79.79439999999998" fill="#ffffff" stroke="#6a6a6a" stroke-width="0.8"/>
<line x1="408.84999999999997" y1="482.6604" x2="408.84999999999997" y2="473.96799999999996" stroke="#777" stroke-width="0.8"/>
<line x1="407.65" y1="473.96799999999996" x2="410.04999999999995" y2="473.96799999999996" stroke="#777" stroke-width="0.8"/>
<rect x="401.29999999999995" y="483.06039999999996" width="15.1" height="83.4396" fill="#bcbcbc" stroke="#777" stroke-width="0.8"/>
<line x1="424.75" y1="454.34000000000003" x2="424.75" y2="434.1512" stroke="#777" stroke-width="0.8"/>
<line x1="423.55" y1="434.1512" x2="425.95" y2="434.1512" stroke="#777" stroke-width="0.8"/>
<rect x="417.2" y="454.74" width="15.1" height="111.75999999999999" fill="#000000" stroke="#000" stroke-width="0.8"/>
<text x="285.3" y="503" font-size="9.6" font-weight="bold" stroke="#000" stroke-width="0.25" text-anchor="middle" fill="#000" transform="translate(285.3 503) scale(0.9009 1) rotate(-90) translate(-285.3 -503)">Apoptotic cells&#160; (%)</text>
<text x="341.5" y="578.3" font-size="8.2" font-weight="bold" stroke="#000" stroke-width="0.25" text-anchor="middle" fill="#000" transform="translate(341.5 578.3) scale(1 1.11) translate(-341.5 -578.3)">Annexin V<tspan dy="-3" font-size="5">+</tspan></text>
<text x="341" y="587.5" font-size="8.2" font-weight="bold" stroke="#000" stroke-width="0.25" text-anchor="middle" fill="#000" transform="translate(341 587.5) scale(1 1.11) translate(-341 -587.5)">7AAD<tspan dy="-3" font-size="5">-</tspan></text>
<text x="417" y="579" font-size="8.2" font-weight="bold" stroke="#000" stroke-width="0.25" text-anchor="middle" fill="#000" transform="translate(417 579) scale(1 1.11) translate(-417 -579)">Annexin V<tspan dy="-3" font-size="5">+</tspan></text>
<text x="418" y="587.5" font-size="8.2" font-weight="bold" stroke="#000" stroke-width="0.25" text-anchor="middle" fill="#000" transform="translate(418 587.5) scale(1 1.11) translate(-418 -587.5)">7AAD<tspan dy="-3" font-size="5">+</tspan></text>
<rect x="317.7" y="428.7" width="49.6" height="33" fill="#fff" stroke="#333" stroke-width="1"/>
<rect x="320.1" y="432.5" width="6" height="5" fill="#fff" stroke="#222" stroke-width="1"/>
<text x="330.6" y="437.88" font-size="8" text-anchor="start" fill="#000" transform="translate(330.6 437.88) scale(1 1.11) translate(-330.6 -437.88)">wt, n=3</text>
<rect x="320.1" y="441.9" width="6" height="5" fill="#bcbcbc" stroke="#222" stroke-width="1"/>
<text x="330.6" y="447.28" font-size="8" text-anchor="start" fill="#000" transform="translate(330.6 447.28) scale(1 1.11) translate(-330.6 -447.28)">het, n=3</text>
<rect x="320.1" y="451.3" width="6" height="5" fill="#000" stroke="#222" stroke-width="1"/>
<text x="330.6" y="456.68" font-size="8" text-anchor="start" fill="#000" transform="translate(330.6 456.68) scale(1 1.11) translate(-330.6 -456.68)">hom, n=3</text>
</svg>
</body></html>
